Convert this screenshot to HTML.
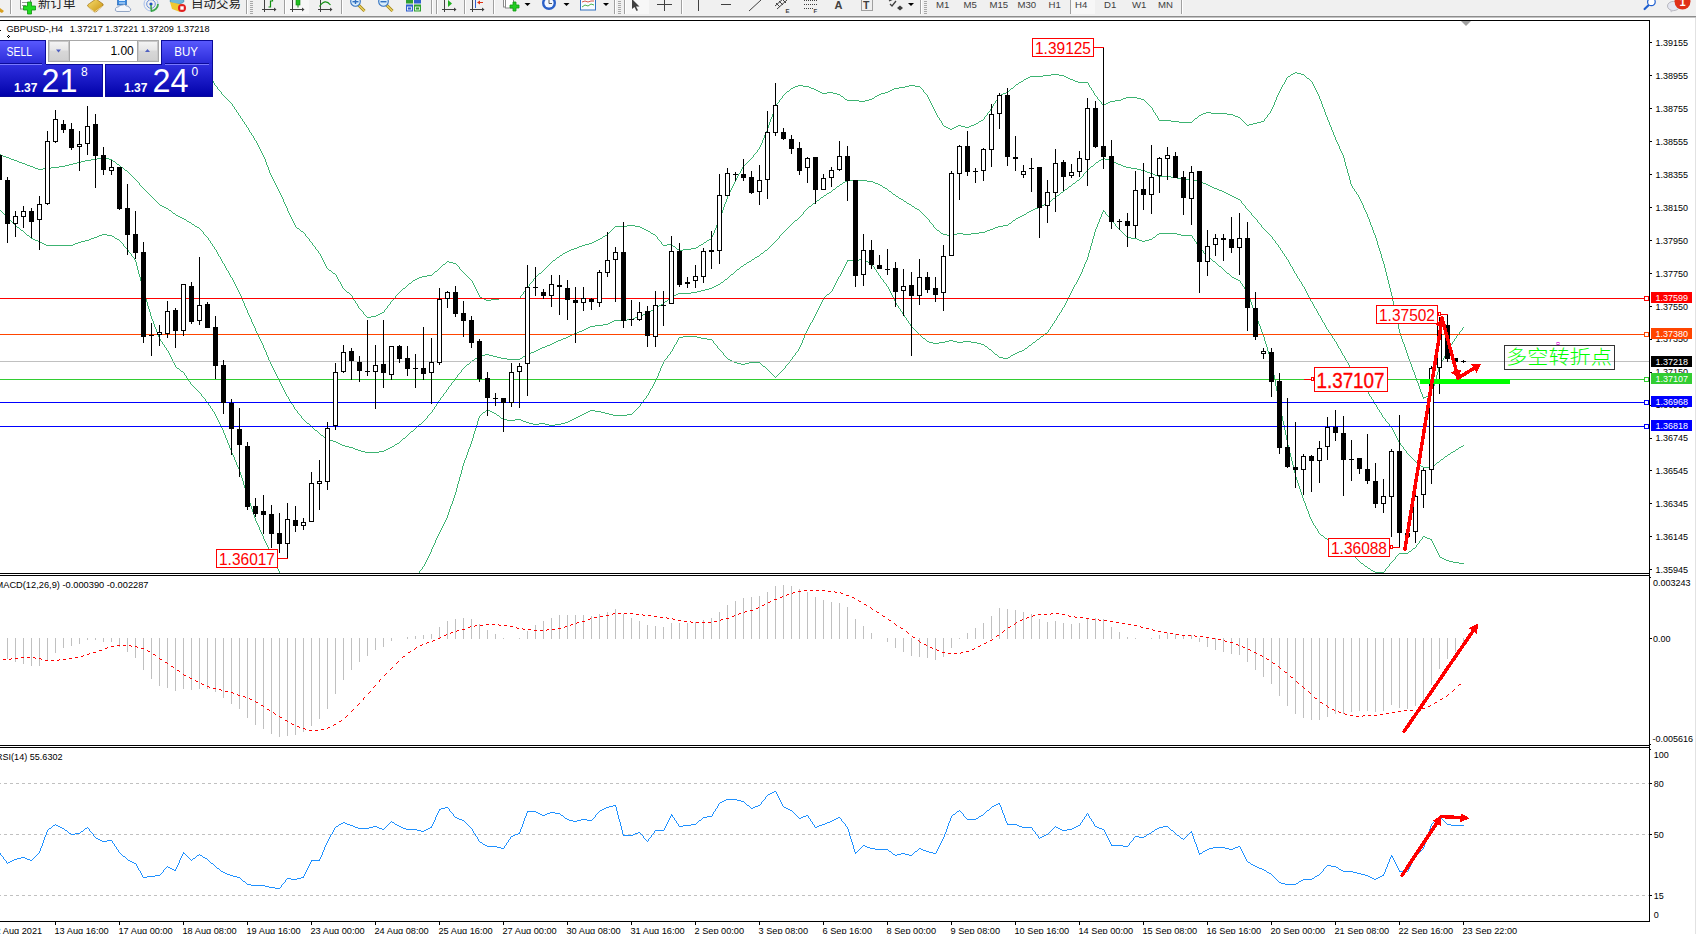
<!DOCTYPE html><html><head><meta charset="utf-8"><title>GBPUSD H4</title>
<style>html,body{margin:0;padding:0;background:#fff;overflow:hidden;width:1696px;height:934px}svg{display:block}text{font-family:'Liberation Sans', Arial, sans-serif}</style></head><body>
<svg width="1696" height="934" viewBox="0 0 1696 934">
<defs><linearGradient id="gBtn" x1="0" y1="0" x2="0" y2="1"><stop offset="0" stop-color="#5a5aff"/><stop offset="1" stop-color="#2a2ad8"/></linearGradient><linearGradient id="gPrice" x1="0" y1="0" x2="0" y2="1"><stop offset="0" stop-color="#3030e0"/><stop offset="1" stop-color="#0000a8"/></linearGradient><linearGradient id="gSpin" x1="0" y1="0" x2="0" y2="1"><stop offset="0" stop-color="#f4f4f4"/><stop offset="0.45" stop-color="#e6e6e6"/><stop offset="0.5" stop-color="#d8d8d8"/><stop offset="1" stop-color="#d0d0d0"/></linearGradient><clipPath id="cMain"><rect x="0" y="21" width="1649" height="552"/></clipPath><clipPath id="cMacd"><rect x="0" y="576" width="1649" height="169"/></clipPath><clipPath id="cRsi"><rect x="0" y="748" width="1649" height="173"/></clipPath></defs>
<rect width="1696" height="934" fill="#fff"/>
<g clip-path="url(#cMain)">
<path d="M203 67h1v2h-1zM208 73h1v2h-1zM209 75h1v2h-1zM211 78h1v2h-1zM213 81h1v2h-1zM214 83h1v2h-1zM217 87h1v2h-1zM221 92h1v2h-1zM232 104h1v2h-1zM234 107h1v2h-1zM236 110h1v2h-1zM238 113h1v2h-1zM240 116h1v2h-1zM242 119h1v2h-1zM244 122h1v2h-1zM246 125h1v2h-1zM248 128h1v2h-1zM249 130h1v2h-1zM251 133h1v2h-1zM253 136h1v2h-1zM254 138h1v2h-1zM256 141h1v2h-1zM257 143h1v2h-1zM258 145h1v2h-1zM259 147h1v2h-1zM260 149h1v2h-1zM261 151h1v2h-1zM262 153h1v2h-1zM263 155h1v2h-1zM264 157h1v2h-1zM265 159h1v3h-1zM266 162h1v3h-1zM267 165h1v2h-1zM268 167h1v3h-1zM269 170h1v3h-1zM270 173h1v2h-1zM271 175h1v2h-1zM272 177h1v2h-1zM273 179h1v2h-1zM274 181h1v2h-1zM275 183h1v2h-1zM276 185h1v2h-1zM277 187h1v2h-1zM278 189h1v2h-1zM279 191h1v2h-1zM280 193h1v2h-1zM281 195h1v2h-1zM282 197h1v2h-1zM283 199h1v3h-1zM284 202h1v2h-1zM285 204h1v2h-1zM286 206h1v2h-1zM287 208h1v3h-1zM288 211h1v2h-1zM289 213h1v2h-1zM290 215h1v2h-1zM291 217h1v2h-1zM292 219h1v2h-1zM293 221h1v2h-1zM294 223h1v2h-1zM295 225h1v2h-1zM305 234h1v2h-1zM309 239h1v2h-1zM312 243h1v2h-1zM315 247h1v2h-1zM318 251h1v2h-1zM320 254h1v2h-1zM321 256h1v2h-1zM322 258h1v2h-1zM323 260h1v2h-1zM324 262h1v2h-1zM325 264h1v2h-1zM326 266h1v2h-1zM336 275h1v2h-1zM337 277h1v2h-1zM338 279h1v2h-1zM340 282h1v2h-1zM341 284h1v2h-1zM342 286h1v2h-1zM352 296h1v2h-1zM353 298h1v2h-1zM355 301h1v2h-1zM357 304h1v2h-1zM358 306h1v2h-1zM363 312h1v2h-1zM384 310h1v2h-1zM387 306h1v2h-1zM390 302h1v2h-1zM395 296h1v2h-1zM459 267h1v2h-1zM472 281h1v2h-1zM473 283h1v2h-1zM474 285h1v2h-1zM475 287h1v2h-1zM476 289h1v2h-1zM477 291h1v2h-1zM478 293h1v2h-1zM479 295h1v2h-1zM520 296h1v2h-1zM523 292h1v2h-1zM526 288h1v2h-1zM529 284h1v2h-1zM533 279h1v2h-1zM657 237h1v2h-1zM661 242h1v2h-1zM711 237h1v2h-1zM712 235h1v2h-1zM713 233h1v2h-1zM714 230h1v3h-1zM715 228h1v2h-1zM716 225h1v3h-1zM717 223h1v2h-1zM718 221h1v2h-1zM719 218h1v3h-1zM720 215h1v3h-1zM721 213h1v2h-1zM722 210h1v3h-1zM723 207h1v3h-1zM724 204h1v3h-1zM725 202h1v2h-1zM726 199h1v3h-1zM727 196h1v3h-1zM728 194h1v2h-1zM729 192h1v2h-1zM730 190h1v2h-1zM731 188h1v2h-1zM732 186h1v2h-1zM733 184h1v2h-1zM734 182h1v2h-1zM735 180h1v2h-1zM736 178h1v2h-1zM737 176h1v2h-1zM738 174h1v2h-1zM740 171h1v2h-1zM741 169h1v2h-1zM742 167h1v2h-1zM753 155h1v2h-1zM757 150h1v2h-1zM759 147h1v2h-1zM760 145h1v2h-1zM761 143h1v2h-1zM762 140h1v3h-1zM763 138h1v2h-1zM764 135h1v3h-1zM765 133h1v2h-1zM766 131h1v2h-1zM767 128h1v3h-1zM768 125h1v3h-1zM769 122h1v3h-1zM770 119h1v3h-1zM771 117h1v2h-1zM772 114h1v3h-1zM773 111h1v3h-1zM774 108h1v3h-1zM775 106h1v2h-1zM776 104h1v2h-1zM779 100h1v2h-1zM782 96h1v2h-1zM923 90h1v2h-1zM927 95h1v2h-1zM928 97h1v2h-1zM929 99h1v2h-1zM930 101h1v2h-1zM931 103h1v2h-1zM932 105h1v2h-1zM933 107h1v2h-1zM934 109h1v2h-1zM935 111h1v2h-1zM936 113h1v2h-1zM937 115h1v2h-1zM939 118h1v2h-1zM941 121h1v2h-1zM942 123h1v2h-1zM984 117h1v2h-1zM987 113h1v2h-1zM990 109h1v2h-1zM992 106h1v2h-1zM993 104h1v2h-1zM995 101h1v2h-1zM997 98h1v2h-1zM998 96h1v2h-1zM1088 83h1v2h-1zM1089 85h1v2h-1zM1091 88h1v2h-1zM1093 91h1v2h-1zM1094 93h1v2h-1zM1097 97h1v2h-1zM1101 102h1v2h-1zM1152 108h1v2h-1zM1153 110h1v2h-1zM1155 113h1v2h-1zM1157 116h1v2h-1zM1158 118h1v2h-1zM1264 119h1v2h-1zM1267 115h1v2h-1zM1270 111h1v2h-1zM1271 109h1v2h-1zM1272 107h1v2h-1zM1273 105h1v2h-1zM1274 102h1v3h-1zM1275 100h1v2h-1zM1276 97h1v3h-1zM1277 95h1v2h-1zM1278 93h1v2h-1zM1279 91h1v2h-1zM1280 89h1v2h-1zM1281 87h1v2h-1zM1282 85h1v2h-1zM1284 82h1v2h-1zM1285 80h1v2h-1zM1286 78h1v2h-1zM1312 82h1v2h-1zM1313 84h1v2h-1zM1314 86h1v2h-1zM1315 88h1v2h-1zM1316 90h1v2h-1zM1317 92h1v2h-1zM1318 94h1v2h-1zM1319 96h1v3h-1zM1320 99h1v2h-1zM1321 101h1v3h-1zM1322 104h1v3h-1zM1323 107h1v2h-1zM1324 109h1v3h-1zM1325 112h1v3h-1zM1326 115h1v2h-1zM1327 117h1v3h-1zM1328 120h1v2h-1zM1329 122h1v3h-1zM1330 125h1v2h-1zM1331 127h1v3h-1zM1332 130h1v2h-1zM1333 132h1v3h-1zM1334 135h1v2h-1zM1335 137h1v3h-1zM1336 140h1v2h-1zM1337 142h1v2h-1zM1338 144h1v2h-1zM1339 146h1v3h-1zM1340 149h1v2h-1zM1341 151h1v2h-1zM1342 153h1v2h-1zM1343 155h1v3h-1zM1344 158h1v4h-1zM1345 162h1v4h-1zM1346 166h1v3h-1zM1347 169h1v4h-1zM1348 173h1v3h-1zM1349 176h1v4h-1zM1350 180h1v4h-1zM1351 184h1v2h-1zM1352 186h1v2h-1zM1354 189h1v2h-1zM1356 192h1v2h-1zM1358 195h1v2h-1zM1359 197h1v2h-1zM1360 199h1v2h-1zM1361 201h1v2h-1zM1362 203h1v2h-1zM1363 205h1v3h-1zM1364 208h1v2h-1zM1365 210h1v2h-1zM1366 212h1v2h-1zM1367 214h1v3h-1zM1368 217h1v2h-1zM1369 219h1v3h-1zM1370 222h1v3h-1zM1371 225h1v2h-1zM1372 227h1v3h-1zM1373 230h1v3h-1zM1374 233h1v2h-1zM1375 235h1v3h-1zM1376 238h1v3h-1zM1377 241h1v4h-1zM1378 245h1v3h-1zM1379 248h1v3h-1zM1380 251h1v3h-1zM1381 254h1v4h-1zM1382 258h1v3h-1zM1383 261h1v3h-1zM1384 264h1v4h-1zM1385 268h1v4h-1zM1386 272h1v4h-1zM1387 276h1v4h-1zM1388 280h1v4h-1zM1389 284h1v4h-1zM1390 288h1v4h-1zM1391 292h1v4h-1zM1392 296h1v5h-1zM1393 301h1v4h-1zM1394 305h1v5h-1zM1395 310h1v5h-1zM1396 315h1v5h-1zM1397 320h1v4h-1zM1398 324h1v5h-1zM1399 329h1v4h-1zM1400 333h1v3h-1zM1401 336h1v3h-1zM1402 339h1v3h-1zM1403 342h1v2h-1zM1404 344h1v3h-1zM1405 347h1v3h-1zM1406 350h1v3h-1zM1407 353h1v3h-1zM1408 356h1v3h-1zM1409 359h1v2h-1zM1410 361h1v3h-1zM1411 364h1v3h-1zM1412 367h1v3h-1zM1413 370h1v2h-1zM1414 372h1v3h-1zM1415 375h1v3h-1zM1416 378h1v3h-1zM1417 381h1v2h-1zM1418 383h1v3h-1zM1419 386h1v3h-1zM1420 389h1v3h-1zM1421 392h1v2h-1zM1422 394h1v3h-1zM1423 397h1v2h-1zM1431 393h1v2h-1zM1432 389h1v4h-1zM1433 386h1v3h-1zM1434 382h1v4h-1zM1435 379h1v3h-1zM1436 375h1v4h-1zM1437 372h1v3h-1zM1438 368h1v4h-1zM1439 366h1v2h-1zM1440 364h1v2h-1zM1441 362h1v2h-1zM1442 360h1v2h-1zM1443 358h1v2h-1zM1444 356h1v2h-1zM1445 354h1v2h-1zM1446 352h1v2h-1zM1447 350h1v2h-1zM1448 348h1v2h-1zM1450 345h1v2h-1zM1452 342h1v2h-1zM1454 339h1v2h-1zM1456 336h1v2h-1zM1459 332h1v2h-1zM1462 328h1v2h-1zM187 62h8v1h-8zM174 63h13v1h-13zM195 63h5v1h-5zM172 64h2v1h-2zM200 64h1v1h-1zM170 65h2v1h-2zM201 65h1v1h-1zM168 66h2v1h-2zM202 66h1v1h-1zM166 67h2v1h-2zM163 68h3v1h-3zM161 69h2v1h-2zM204 69h1v1h-1zM159 70h2v1h-2zM205 70h1v1h-1zM157 71h2v1h-2zM206 71h1v1h-1zM156 72h1v1h-1zM207 72h1v1h-1zM1295 72h2v1h-2zM155 73h1v1h-1zM1293 73h2v1h-2zM1297 73h4v1h-4zM153 74h2v1h-2zM1051 74h8v1h-8zM1291 74h2v1h-2zM1301 74h3v1h-3zM152 75h1v1h-1zM1043 75h8v1h-8zM1059 75h5v1h-5zM1290 75h1v1h-1zM1304 75h1v1h-1zM151 76h1v1h-1zM1030 76h13v1h-13zM1064 76h2v1h-2zM1288 76h2v1h-2zM1305 76h1v1h-1zM210 77h1v1h-1zM1028 77h2v1h-2zM1066 77h2v1h-2zM1287 77h1v1h-1zM1306 77h1v1h-1zM1026 78h2v1h-2zM1068 78h2v1h-2zM1307 78h2v1h-2zM1024 79h2v1h-2zM1070 79h3v1h-3zM1309 79h1v1h-1zM212 80h1v1h-1zM1023 80h1v1h-1zM1073 80h2v1h-2zM1310 80h1v1h-1zM1021 81h2v1h-2zM1075 81h3v1h-3zM1311 81h1v1h-1zM1019 82h2v1h-2zM1078 82h10v1h-10zM1018 83h1v1h-1zM1016 84h2v1h-2zM1283 84h1v1h-1zM215 85h1v1h-1zM798 85h5v1h-5zM909 85h6v1h-6zM1015 85h1v1h-1zM216 86h1v1h-1zM795 86h3v1h-3zM803 86h6v1h-6zM905 86h4v1h-4zM915 86h5v1h-5zM1014 86h1v1h-1zM793 87h2v1h-2zM809 87h2v1h-2zM899 87h6v1h-6zM920 87h1v1h-1zM1013 87h1v1h-1zM1090 87h1v1h-1zM791 88h2v1h-2zM811 88h3v1h-3zM894 88h5v1h-5zM921 88h1v1h-1zM1011 88h2v1h-2zM218 89h1v1h-1zM790 89h1v1h-1zM814 89h2v1h-2zM892 89h2v1h-2zM922 89h1v1h-1zM1010 89h1v1h-1zM219 90h1v1h-1zM789 90h1v1h-1zM816 90h2v1h-2zM890 90h2v1h-2zM1009 90h1v1h-1zM1092 90h1v1h-1zM220 91h1v1h-1zM787 91h2v1h-2zM818 91h2v1h-2zM888 91h2v1h-2zM1008 91h1v1h-1zM786 92h1v1h-1zM820 92h2v1h-2zM827 92h6v1h-6zM885 92h3v1h-3zM924 92h1v1h-1zM1006 92h2v1h-2zM785 93h1v1h-1zM822 93h5v1h-5zM833 93h4v1h-4zM881 93h4v1h-4zM925 93h1v1h-1zM1003 93h3v1h-3zM222 94h1v1h-1zM784 94h1v1h-1zM837 94h3v1h-3zM879 94h2v1h-2zM926 94h1v1h-1zM1001 94h2v1h-2zM223 95h1v1h-1zM783 95h1v1h-1zM840 95h1v1h-1zM877 95h2v1h-2zM999 95h2v1h-2zM1095 95h1v1h-1zM224 96h1v1h-1zM841 96h2v1h-2zM875 96h2v1h-2zM1096 96h1v1h-1zM225 97h1v1h-1zM843 97h1v1h-1zM874 97h1v1h-1zM1126 97h11v1h-11zM226 98h1v1h-1zM781 98h1v1h-1zM844 98h1v1h-1zM872 98h2v1h-2zM1123 98h3v1h-3zM1137 98h4v1h-4zM227 99h1v1h-1zM780 99h1v1h-1zM845 99h2v1h-2zM869 99h3v1h-3zM1098 99h1v1h-1zM1121 99h2v1h-2zM1141 99h3v1h-3zM228 100h1v1h-1zM847 100h12v1h-12zM865 100h4v1h-4zM996 100h1v1h-1zM1099 100h1v1h-1zM1115 100h6v1h-6zM1144 100h1v1h-1zM229 101h1v1h-1zM859 101h6v1h-6zM1100 101h1v1h-1zM1110 101h5v1h-5zM1145 101h1v1h-1zM230 102h1v1h-1zM778 102h1v1h-1zM1108 102h2v1h-2zM1146 102h1v1h-1zM231 103h1v1h-1zM777 103h1v1h-1zM994 103h1v1h-1zM1106 103h2v1h-2zM1147 103h1v1h-1zM1102 104h1v1h-1zM1104 104h2v1h-2zM1148 104h1v1h-1zM1103 105h1v1h-1zM1149 105h1v1h-1zM233 106h1v1h-1zM1150 106h1v1h-1zM1151 107h1v1h-1zM991 108h1v1h-1zM235 109h1v1h-1zM989 111h1v1h-1zM237 112h1v1h-1zM988 112h1v1h-1zM1154 112h1v1h-1zM1206 112h5v1h-5zM1203 113h3v1h-3zM1211 113h16v1h-16zM1269 113h1v1h-1zM1201 114h2v1h-2zM1227 114h6v1h-6zM1268 114h1v1h-1zM239 115h1v1h-1zM986 115h1v1h-1zM1156 115h1v1h-1zM1199 115h2v1h-2zM1233 115h2v1h-2zM985 116h1v1h-1zM1198 116h1v1h-1zM1235 116h3v1h-3zM938 117h1v1h-1zM1197 117h1v1h-1zM1238 117h2v1h-2zM1266 117h1v1h-1zM241 118h1v1h-1zM1195 118h2v1h-2zM1240 118h1v1h-1zM1265 118h1v1h-1zM983 119h1v1h-1zM1194 119h1v1h-1zM1241 119h1v1h-1zM940 120h1v1h-1zM981 120h2v1h-2zM1159 120h12v1h-12zM1193 120h1v1h-1zM1242 120h1v1h-1zM243 121h1v1h-1zM979 121h2v1h-2zM1171 121h8v1h-8zM1192 121h1v1h-1zM1243 121h1v1h-1zM1261 121h3v1h-3zM978 122h1v1h-1zM1179 122h13v1h-13zM1244 122h1v1h-1zM1257 122h4v1h-4zM976 123h2v1h-2zM1245 123h1v1h-1zM1253 123h4v1h-4zM245 124h1v1h-1zM974 124h2v1h-2zM1246 124h1v1h-1zM1249 124h4v1h-4zM943 125h1v1h-1zM958 125h3v1h-3zM971 125h3v1h-3zM1247 125h2v1h-2zM944 126h2v1h-2zM956 126h2v1h-2zM961 126h4v1h-4zM969 126h2v1h-2zM247 127h1v1h-1zM946 127h2v1h-2zM954 127h2v1h-2zM965 127h4v1h-4zM948 128h2v1h-2zM952 128h2v1h-2zM950 129h2v1h-2zM250 132h1v1h-1zM252 135h1v1h-1zM255 140h1v1h-1zM758 149h1v1h-1zM756 152h1v1h-1zM755 153h1v1h-1zM754 154h1v1h-1zM752 157h1v1h-1zM751 158h1v1h-1zM750 159h1v1h-1zM749 160h1v1h-1zM748 161h1v1h-1zM747 162h1v1h-1zM746 163h1v1h-1zM745 164h1v1h-1zM744 165h1v1h-1zM743 166h1v1h-1zM739 173h1v1h-1zM1353 188h1v1h-1zM1355 191h1v1h-1zM1357 194h1v1h-1zM627 225h8v1h-8zM615 226h12v1h-12zM635 226h5v1h-5zM296 227h1v1h-1zM614 227h1v1h-1zM640 227h2v1h-2zM297 228h2v1h-2zM613 228h1v1h-1zM642 228h2v1h-2zM299 229h1v1h-1zM612 229h1v1h-1zM644 229h2v1h-2zM300 230h1v1h-1zM611 230h1v1h-1zM646 230h2v1h-2zM301 231h2v1h-2zM610 231h1v1h-1zM648 231h2v1h-2zM303 232h1v1h-1zM609 232h1v1h-1zM650 232h1v1h-1zM304 233h1v1h-1zM608 233h1v1h-1zM651 233h2v1h-2zM607 234h1v1h-1zM653 234h2v1h-2zM605 235h2v1h-2zM655 235h1v1h-1zM306 236h1v1h-1zM603 236h2v1h-2zM656 236h1v1h-1zM307 237h1v1h-1zM602 237h1v1h-1zM308 238h1v1h-1zM600 238h2v1h-2zM598 239h2v1h-2zM658 239h1v1h-1zM709 239h2v1h-2zM596 240h2v1h-2zM659 240h1v1h-1zM707 240h2v1h-2zM310 241h1v1h-1zM594 241h2v1h-2zM660 241h1v1h-1zM706 241h1v1h-1zM311 242h1v1h-1zM592 242h2v1h-2zM704 242h2v1h-2zM589 243h3v1h-3zM703 243h1v1h-1zM585 244h4v1h-4zM662 244h1v1h-1zM667 244h5v1h-5zM701 244h2v1h-2zM313 245h1v1h-1zM582 245h3v1h-3zM663 245h4v1h-4zM672 245h1v1h-1zM699 245h2v1h-2zM314 246h1v1h-1zM579 246h3v1h-3zM673 246h2v1h-2zM698 246h1v1h-1zM577 247h2v1h-2zM675 247h1v1h-1zM696 247h2v1h-2zM574 248h3v1h-3zM676 248h1v1h-1zM691 248h5v1h-5zM316 249h1v1h-1zM571 249h3v1h-3zM677 249h2v1h-2zM683 249h8v1h-8zM317 250h1v1h-1zM569 250h2v1h-2zM679 250h4v1h-4zM567 251h2v1h-2zM565 252h2v1h-2zM319 253h1v1h-1zM563 253h2v1h-2zM562 254h1v1h-1zM560 255h2v1h-2zM559 256h1v1h-1zM557 257h2v1h-2zM556 258h1v1h-1zM555 259h1v1h-1zM553 260h2v1h-2zM447 261h2v1h-2zM552 261h1v1h-1zM446 262h1v1h-1zM449 262h4v1h-4zM551 262h1v1h-1zM445 263h1v1h-1zM453 263h3v1h-3zM550 263h1v1h-1zM443 264h2v1h-2zM456 264h1v1h-1zM549 264h1v1h-1zM442 265h1v1h-1zM457 265h1v1h-1zM548 265h1v1h-1zM441 266h1v1h-1zM458 266h1v1h-1zM547 266h1v1h-1zM440 267h1v1h-1zM546 267h1v1h-1zM327 268h1v1h-1zM439 268h1v1h-1zM545 268h1v1h-1zM328 269h1v1h-1zM438 269h1v1h-1zM460 269h1v1h-1zM544 269h1v1h-1zM329 270h2v1h-2zM437 270h1v1h-1zM461 270h1v1h-1zM543 270h1v1h-1zM331 271h1v1h-1zM435 271h2v1h-2zM462 271h1v1h-1zM542 271h1v1h-1zM332 272h1v1h-1zM434 272h1v1h-1zM463 272h1v1h-1zM541 272h1v1h-1zM333 273h2v1h-2zM433 273h1v1h-1zM464 273h1v1h-1zM539 273h2v1h-2zM335 274h1v1h-1zM432 274h1v1h-1zM465 274h1v1h-1zM538 274h1v1h-1zM427 275h5v1h-5zM466 275h1v1h-1zM537 275h1v1h-1zM422 276h5v1h-5zM467 276h1v1h-1zM536 276h1v1h-1zM419 277h3v1h-3zM468 277h1v1h-1zM535 277h1v1h-1zM417 278h2v1h-2zM469 278h1v1h-1zM534 278h1v1h-1zM415 279h2v1h-2zM470 279h1v1h-1zM413 280h2v1h-2zM471 280h1v1h-1zM339 281h1v1h-1zM412 281h1v1h-1zM532 281h1v1h-1zM411 282h1v1h-1zM531 282h1v1h-1zM409 283h2v1h-2zM530 283h1v1h-1zM408 284h1v1h-1zM407 285h1v1h-1zM406 286h1v1h-1zM528 286h1v1h-1zM405 287h1v1h-1zM527 287h1v1h-1zM343 288h1v1h-1zM403 288h2v1h-2zM344 289h1v1h-1zM402 289h1v1h-1zM345 290h1v1h-1zM401 290h1v1h-1zM525 290h1v1h-1zM346 291h1v1h-1zM400 291h1v1h-1zM524 291h1v1h-1zM347 292h2v1h-2zM399 292h1v1h-1zM349 293h1v1h-1zM398 293h1v1h-1zM350 294h1v1h-1zM397 294h1v1h-1zM522 294h1v1h-1zM351 295h1v1h-1zM396 295h1v1h-1zM521 295h1v1h-1zM480 297h2v1h-2zM394 298h1v1h-1zM482 298h2v1h-2zM499 298h21v1h-21zM393 299h1v1h-1zM484 299h2v1h-2zM491 299h8v1h-8zM354 300h1v1h-1zM392 300h1v1h-1zM486 300h5v1h-5zM391 301h1v1h-1zM356 303h1v1h-1zM389 304h1v1h-1zM388 305h1v1h-1zM359 308h1v1h-1zM386 308h1v1h-1zM360 309h1v1h-1zM385 309h1v1h-1zM361 310h1v1h-1zM362 311h1v1h-1zM382 312h2v1h-2zM380 313h2v1h-2zM364 314h1v1h-1zM378 314h2v1h-2zM365 315h1v1h-1zM376 315h2v1h-2zM366 316h1v1h-1zM371 316h5v1h-5zM367 317h4v1h-4zM1463 327h1v1h-1zM1461 330h1v1h-1zM1460 331h1v1h-1zM1458 334h1v1h-1zM1457 335h1v1h-1zM1455 338h1v1h-1zM1453 341h1v1h-1zM1451 344h1v1h-1zM1449 347h1v1h-1zM1430 394h1v1h-1zM1428 395h2v1h-2zM1426 396h2v1h-2zM1424 397h2v1h-2z" fill="#3cb371" shape-rendering="crispEdges"/>
<path d="M139 183h1v2h-1zM203 232h1v2h-1zM208 238h1v2h-1zM210 241h1v2h-1zM212 244h1v2h-1zM214 247h1v2h-1zM216 250h1v2h-1zM217 252h1v2h-1zM218 254h1v2h-1zM220 257h1v2h-1zM221 259h1v2h-1zM222 261h1v2h-1zM224 264h1v2h-1zM225 266h1v2h-1zM226 268h1v2h-1zM228 271h1v2h-1zM229 273h1v2h-1zM230 275h1v2h-1zM232 278h1v2h-1zM233 280h1v2h-1zM234 282h1v2h-1zM235 284h1v2h-1zM236 286h1v2h-1zM237 288h1v2h-1zM238 290h1v2h-1zM239 292h1v2h-1zM240 294h1v2h-1zM241 296h1v2h-1zM242 298h1v3h-1zM243 301h1v2h-1zM244 303h1v3h-1zM245 306h1v2h-1zM246 308h1v2h-1zM247 310h1v3h-1zM248 313h1v2h-1zM249 315h1v2h-1zM250 317h1v2h-1zM251 319h1v3h-1zM252 322h1v2h-1zM253 324h1v2h-1zM254 326h1v2h-1zM255 328h1v3h-1zM256 331h1v2h-1zM257 333h1v2h-1zM258 335h1v2h-1zM259 337h1v2h-1zM260 339h1v2h-1zM261 341h1v2h-1zM262 343h1v2h-1zM263 345h1v3h-1zM264 348h1v2h-1zM265 350h1v2h-1zM266 352h1v3h-1zM267 355h1v2h-1zM268 357h1v3h-1zM269 360h1v2h-1zM270 362h1v2h-1zM271 364h1v2h-1zM272 366h1v2h-1zM273 368h1v2h-1zM274 370h1v2h-1zM275 372h1v2h-1zM276 374h1v2h-1zM277 376h1v2h-1zM278 378h1v2h-1zM279 380h1v2h-1zM280 382h1v2h-1zM281 384h1v2h-1zM282 386h1v2h-1zM283 388h1v2h-1zM284 390h1v2h-1zM285 392h1v2h-1zM286 394h1v2h-1zM288 397h1v2h-1zM289 399h1v2h-1zM291 402h1v2h-1zM293 405h1v2h-1zM294 407h1v2h-1zM297 411h1v2h-1zM301 416h1v2h-1zM427 416h1v2h-1zM432 410h1v2h-1zM434 407h1v2h-1zM436 404h1v2h-1zM438 401h1v2h-1zM440 398h1v2h-1zM443 394h1v2h-1zM446 390h1v2h-1zM448 387h1v2h-1zM451 383h1v2h-1zM454 379h1v2h-1zM457 375h1v2h-1zM461 370h1v2h-1zM779 236h1v2h-1zM803 212h1v2h-1zM929 220h1v2h-1zM933 225h1v2h-1zM1083 174h1v2h-1zM1241 201h1v2h-1zM1245 206h1v2h-1zM1251 213h1v2h-1zM1257 220h1v2h-1zM1261 225h1v2h-1zM1272 237h1v2h-1zM1275 241h1v2h-1zM1278 245h1v2h-1zM1280 248h1v2h-1zM1282 251h1v2h-1zM1284 254h1v2h-1zM1286 257h1v2h-1zM1288 260h1v2h-1zM1289 262h1v2h-1zM1290 264h1v2h-1zM1292 267h1v2h-1zM1293 269h1v2h-1zM1294 271h1v2h-1zM1296 274h1v2h-1zM1297 276h1v2h-1zM1299 279h1v2h-1zM1301 282h1v2h-1zM1302 284h1v2h-1zM1304 287h1v2h-1zM1305 289h1v2h-1zM1306 291h1v2h-1zM1307 293h1v2h-1zM1308 295h1v2h-1zM1309 297h1v2h-1zM1310 299h1v2h-1zM1312 302h1v2h-1zM1313 304h1v2h-1zM1314 306h1v2h-1zM1316 309h1v2h-1zM1317 311h1v2h-1zM1318 313h1v2h-1zM1320 316h1v2h-1zM1321 318h1v2h-1zM1322 320h1v2h-1zM1324 323h1v2h-1zM1325 325h1v2h-1zM1326 327h1v2h-1zM1328 330h1v2h-1zM1330 333h1v2h-1zM1332 336h1v2h-1zM1334 339h1v2h-1zM1336 342h1v2h-1zM1337 344h1v2h-1zM1338 346h1v2h-1zM1340 349h1v2h-1zM1341 351h1v2h-1zM1342 353h1v2h-1zM1344 356h1v2h-1zM1345 358h1v2h-1zM1346 360h1v2h-1zM1348 363h1v2h-1zM1349 365h1v2h-1zM1350 367h1v2h-1zM1353 371h1v2h-1zM1357 376h1v2h-1zM1360 380h1v2h-1zM1362 383h1v2h-1zM1364 386h1v2h-1zM1366 389h1v2h-1zM1368 392h1v2h-1zM1369 394h1v2h-1zM1371 397h1v2h-1zM1373 400h1v2h-1zM1374 402h1v2h-1zM1376 405h1v2h-1zM1377 407h1v2h-1zM1379 410h1v2h-1zM1381 413h1v2h-1zM1382 415h1v2h-1zM1385 419h1v2h-1zM1389 424h1v2h-1zM1392 428h1v2h-1zM1393 430h1v2h-1zM1394 432h1v2h-1zM1395 434h1v2h-1zM1396 436h1v2h-1zM1397 438h1v2h-1zM1398 440h1v2h-1zM1400 443h1v2h-1zM1403 447h1v2h-1zM1406 451h1v2h-1zM-1 154h2v1h-2zM1 155h2v1h-2zM3 156h3v1h-3zM6 157h3v1h-3zM101 157h4v1h-4zM9 158h2v1h-2zM97 158h4v1h-4zM105 158h4v1h-4zM1103 158h2v1h-2zM11 159h3v1h-3zM91 159h6v1h-6zM109 159h3v1h-3zM1101 159h2v1h-2zM1105 159h4v1h-4zM14 160h3v1h-3zM85 160h6v1h-6zM112 160h1v1h-1zM1099 160h2v1h-2zM1109 160h3v1h-3zM17 161h2v1h-2zM81 161h4v1h-4zM113 161h2v1h-2zM1098 161h1v1h-1zM1112 161h2v1h-2zM19 162h3v1h-3zM77 162h4v1h-4zM115 162h1v1h-1zM1096 162h2v1h-2zM1114 162h2v1h-2zM22 163h3v1h-3zM73 163h4v1h-4zM116 163h1v1h-1zM1095 163h1v1h-1zM1116 163h2v1h-2zM25 164h2v1h-2zM69 164h4v1h-4zM117 164h2v1h-2zM1094 164h1v1h-1zM1118 164h3v1h-3zM27 165h3v1h-3zM65 165h4v1h-4zM119 165h1v1h-1zM1093 165h1v1h-1zM1121 165h2v1h-2zM30 166h3v1h-3zM59 166h6v1h-6zM120 166h1v1h-1zM1091 166h2v1h-2zM1123 166h3v1h-3zM33 167h2v1h-2zM51 167h8v1h-8zM121 167h2v1h-2zM1090 167h1v1h-1zM1126 167h5v1h-5zM35 168h3v1h-3zM43 168h8v1h-8zM123 168h1v1h-1zM1089 168h1v1h-1zM1131 168h6v1h-6zM38 169h5v1h-5zM124 169h1v1h-1zM1088 169h1v1h-1zM1137 169h4v1h-4zM125 170h2v1h-2zM1087 170h1v1h-1zM1141 170h4v1h-4zM127 171h1v1h-1zM1086 171h1v1h-1zM1145 171h2v1h-2zM128 172h1v1h-1zM1085 172h1v1h-1zM1147 172h3v1h-3zM129 173h1v1h-1zM1084 173h1v1h-1zM1150 173h3v1h-3zM130 174h1v1h-1zM1153 174h2v1h-2zM131 175h1v1h-1zM1155 175h3v1h-3zM132 176h1v1h-1zM1082 176h1v1h-1zM1158 176h13v1h-13zM133 177h1v1h-1zM1081 177h1v1h-1zM1171 177h6v1h-6zM134 178h1v1h-1zM1080 178h1v1h-1zM1177 178h4v1h-4zM135 179h1v1h-1zM1079 179h1v1h-1zM1181 179h12v1h-12zM136 180h1v1h-1zM847 180h20v1h-20zM1077 180h2v1h-2zM1193 180h4v1h-4zM137 181h1v1h-1zM845 181h2v1h-2zM867 181h6v1h-6zM1076 181h1v1h-1zM1197 181h4v1h-4zM138 182h1v1h-1zM843 182h2v1h-2zM873 182h2v1h-2zM1075 182h1v1h-1zM1201 182h2v1h-2zM842 183h1v1h-1zM875 183h3v1h-3zM1073 183h2v1h-2zM1203 183h3v1h-3zM840 184h2v1h-2zM878 184h2v1h-2zM1072 184h1v1h-1zM1206 184h2v1h-2zM140 185h1v1h-1zM839 185h1v1h-1zM880 185h2v1h-2zM1071 185h1v1h-1zM1208 185h2v1h-2zM141 186h1v1h-1zM837 186h2v1h-2zM882 186h1v1h-1zM1069 186h2v1h-2zM1210 186h2v1h-2zM142 187h1v1h-1zM836 187h1v1h-1zM883 187h2v1h-2zM1068 187h1v1h-1zM1212 187h2v1h-2zM143 188h1v1h-1zM835 188h1v1h-1zM885 188h2v1h-2zM1067 188h1v1h-1zM1214 188h3v1h-3zM144 189h1v1h-1zM833 189h2v1h-2zM887 189h1v1h-1zM1065 189h2v1h-2zM1217 189h2v1h-2zM145 190h1v1h-1zM832 190h1v1h-1zM888 190h1v1h-1zM1064 190h1v1h-1zM1219 190h3v1h-3zM146 191h1v1h-1zM831 191h1v1h-1zM889 191h2v1h-2zM1063 191h1v1h-1zM1222 191h2v1h-2zM147 192h1v1h-1zM829 192h2v1h-2zM891 192h1v1h-1zM1061 192h2v1h-2zM1224 192h2v1h-2zM148 193h1v1h-1zM827 193h2v1h-2zM892 193h1v1h-1zM1060 193h1v1h-1zM1226 193h2v1h-2zM149 194h1v1h-1zM826 194h1v1h-1zM893 194h2v1h-2zM1059 194h1v1h-1zM1228 194h2v1h-2zM150 195h1v1h-1zM824 195h2v1h-2zM895 195h1v1h-1zM1057 195h2v1h-2zM1230 195h2v1h-2zM151 196h1v1h-1zM823 196h1v1h-1zM896 196h2v1h-2zM1056 196h1v1h-1zM1232 196h2v1h-2zM152 197h1v1h-1zM821 197h2v1h-2zM898 197h1v1h-1zM1055 197h1v1h-1zM1234 197h2v1h-2zM153 198h1v1h-1zM820 198h1v1h-1zM899 198h2v1h-2zM1053 198h2v1h-2zM1236 198h2v1h-2zM154 199h1v1h-1zM819 199h1v1h-1zM901 199h2v1h-2zM1052 199h1v1h-1zM1238 199h2v1h-2zM155 200h1v1h-1zM817 200h2v1h-2zM903 200h1v1h-1zM1051 200h1v1h-1zM1240 200h1v1h-1zM156 201h1v1h-1zM816 201h1v1h-1zM904 201h2v1h-2zM1049 201h2v1h-2zM157 202h1v1h-1zM815 202h1v1h-1zM906 202h1v1h-1zM1048 202h1v1h-1zM158 203h1v1h-1zM813 203h2v1h-2zM907 203h2v1h-2zM1046 203h2v1h-2zM1242 203h1v1h-1zM159 204h1v1h-1zM812 204h1v1h-1zM909 204h2v1h-2zM1044 204h2v1h-2zM1243 204h1v1h-1zM160 205h2v1h-2zM811 205h1v1h-1zM911 205h1v1h-1zM1042 205h2v1h-2zM1244 205h1v1h-1zM162 206h2v1h-2zM809 206h2v1h-2zM912 206h2v1h-2zM1040 206h2v1h-2zM164 207h2v1h-2zM808 207h1v1h-1zM914 207h1v1h-1zM1038 207h2v1h-2zM166 208h2v1h-2zM807 208h1v1h-1zM915 208h2v1h-2zM1035 208h3v1h-3zM1246 208h1v1h-1zM168 209h1v1h-1zM806 209h1v1h-1zM917 209h2v1h-2zM1033 209h2v1h-2zM1247 209h1v1h-1zM169 210h2v1h-2zM805 210h1v1h-1zM919 210h1v1h-1zM1031 210h2v1h-2zM1248 210h1v1h-1zM171 211h1v1h-1zM804 211h1v1h-1zM920 211h1v1h-1zM1029 211h2v1h-2zM1249 211h1v1h-1zM172 212h1v1h-1zM921 212h1v1h-1zM1027 212h2v1h-2zM1250 212h1v1h-1zM173 213h2v1h-2zM922 213h1v1h-1zM1026 213h1v1h-1zM175 214h1v1h-1zM802 214h1v1h-1zM923 214h1v1h-1zM1024 214h2v1h-2zM176 215h2v1h-2zM801 215h1v1h-1zM924 215h1v1h-1zM1022 215h2v1h-2zM1252 215h1v1h-1zM178 216h2v1h-2zM800 216h1v1h-1zM925 216h1v1h-1zM1020 216h2v1h-2zM1253 216h1v1h-1zM180 217h2v1h-2zM799 217h1v1h-1zM926 217h1v1h-1zM1018 217h2v1h-2zM1254 217h1v1h-1zM182 218h2v1h-2zM798 218h1v1h-1zM927 218h1v1h-1zM1016 218h2v1h-2zM1255 218h1v1h-1zM184 219h2v1h-2zM797 219h1v1h-1zM928 219h1v1h-1zM1015 219h1v1h-1zM1256 219h1v1h-1zM186 220h1v1h-1zM795 220h2v1h-2zM1013 220h2v1h-2zM187 221h2v1h-2zM794 221h1v1h-1zM1012 221h1v1h-1zM189 222h2v1h-2zM793 222h1v1h-1zM930 222h1v1h-1zM1011 222h1v1h-1zM1258 222h1v1h-1zM191 223h1v1h-1zM792 223h1v1h-1zM931 223h1v1h-1zM1009 223h2v1h-2zM1259 223h1v1h-1zM192 224h2v1h-2zM791 224h1v1h-1zM932 224h1v1h-1zM1008 224h1v1h-1zM1260 224h1v1h-1zM194 225h1v1h-1zM790 225h1v1h-1zM1003 225h5v1h-5zM195 226h2v1h-2zM789 226h1v1h-1zM998 226h5v1h-5zM197 227h2v1h-2zM788 227h1v1h-1zM934 227h1v1h-1zM995 227h3v1h-3zM1262 227h1v1h-1zM199 228h1v1h-1zM787 228h1v1h-1zM935 228h1v1h-1zM993 228h2v1h-2zM1263 228h1v1h-1zM200 229h1v1h-1zM786 229h1v1h-1zM936 229h1v1h-1zM990 229h3v1h-3zM1264 229h1v1h-1zM201 230h1v1h-1zM785 230h1v1h-1zM937 230h2v1h-2zM987 230h3v1h-3zM1265 230h1v1h-1zM202 231h1v1h-1zM784 231h1v1h-1zM939 231h1v1h-1zM985 231h2v1h-2zM1266 231h1v1h-1zM783 232h1v1h-1zM940 232h1v1h-1zM979 232h6v1h-6zM1267 232h1v1h-1zM782 233h1v1h-1zM941 233h2v1h-2zM957 233h6v1h-6zM971 233h8v1h-8zM1268 233h1v1h-1zM204 234h1v1h-1zM781 234h1v1h-1zM943 234h4v1h-4zM953 234h4v1h-4zM963 234h8v1h-8zM1269 234h1v1h-1zM205 235h1v1h-1zM780 235h1v1h-1zM947 235h6v1h-6zM1270 235h1v1h-1zM206 236h1v1h-1zM1271 236h1v1h-1zM207 237h1v1h-1zM778 238h1v1h-1zM777 239h1v1h-1zM1273 239h1v1h-1zM209 240h1v1h-1zM776 240h1v1h-1zM1274 240h1v1h-1zM775 241h1v1h-1zM774 242h1v1h-1zM211 243h1v1h-1zM773 243h1v1h-1zM1276 243h1v1h-1zM772 244h1v1h-1zM1277 244h1v1h-1zM771 245h1v1h-1zM213 246h1v1h-1zM770 246h1v1h-1zM769 247h1v1h-1zM1279 247h1v1h-1zM768 248h1v1h-1zM215 249h1v1h-1zM767 249h1v1h-1zM765 250h2v1h-2zM1281 250h1v1h-1zM764 251h1v1h-1zM763 252h1v1h-1zM761 253h2v1h-2zM1283 253h1v1h-1zM760 254h1v1h-1zM759 255h1v1h-1zM219 256h1v1h-1zM757 256h2v1h-2zM1285 256h1v1h-1zM755 257h2v1h-2zM754 258h1v1h-1zM752 259h2v1h-2zM1287 259h1v1h-1zM751 260h1v1h-1zM749 261h2v1h-2zM747 262h2v1h-2zM223 263h1v1h-1zM746 263h1v1h-1zM744 264h2v1h-2zM743 265h1v1h-1zM741 266h2v1h-2zM1291 266h1v1h-1zM740 267h1v1h-1zM739 268h1v1h-1zM737 269h2v1h-2zM227 270h1v1h-1zM736 270h1v1h-1zM735 271h1v1h-1zM734 272h1v1h-1zM733 273h1v1h-1zM1295 273h1v1h-1zM731 274h2v1h-2zM730 275h1v1h-1zM729 276h1v1h-1zM231 277h1v1h-1zM728 277h1v1h-1zM727 278h1v1h-1zM1298 278h1v1h-1zM725 279h2v1h-2zM724 280h1v1h-1zM723 281h1v1h-1zM1300 281h1v1h-1zM721 282h2v1h-2zM720 283h1v1h-1zM718 284h2v1h-2zM716 285h2v1h-2zM714 286h2v1h-2zM1303 286h1v1h-1zM712 287h2v1h-2zM709 288h3v1h-3zM705 289h4v1h-4zM701 290h4v1h-4zM697 291h4v1h-4zM691 292h6v1h-6zM678 293h13v1h-13zM676 294h2v1h-2zM674 295h2v1h-2zM672 296h2v1h-2zM671 297h1v1h-1zM669 298h2v1h-2zM668 299h1v1h-1zM667 300h1v1h-1zM665 301h2v1h-2zM1311 301h1v1h-1zM664 302h1v1h-1zM663 303h1v1h-1zM661 304h2v1h-2zM659 305h2v1h-2zM658 306h1v1h-1zM656 307h2v1h-2zM655 308h1v1h-1zM1315 308h1v1h-1zM653 309h2v1h-2zM651 310h2v1h-2zM650 311h1v1h-1zM648 312h2v1h-2zM646 313h2v1h-2zM643 314h3v1h-3zM641 315h2v1h-2zM1319 315h1v1h-1zM638 316h3v1h-3zM635 317h3v1h-3zM633 318h2v1h-2zM627 319h6v1h-6zM614 320h13v1h-13zM612 321h2v1h-2zM610 322h2v1h-2zM1323 322h1v1h-1zM608 323h2v1h-2zM603 324h5v1h-5zM595 325h8v1h-8zM590 326h5v1h-5zM588 327h2v1h-2zM586 328h2v1h-2zM584 329h2v1h-2zM1327 329h1v1h-1zM582 330h2v1h-2zM579 331h3v1h-3zM577 332h2v1h-2zM1329 332h1v1h-1zM574 333h3v1h-3zM572 334h2v1h-2zM570 335h2v1h-2zM1331 335h1v1h-1zM568 336h2v1h-2zM566 337h2v1h-2zM563 338h3v1h-3zM1333 338h1v1h-1zM561 339h2v1h-2zM558 340h3v1h-3zM556 341h2v1h-2zM1335 341h1v1h-1zM554 342h2v1h-2zM552 343h2v1h-2zM550 344h2v1h-2zM547 345h3v1h-3zM545 346h2v1h-2zM542 347h3v1h-3zM540 348h2v1h-2zM1339 348h1v1h-1zM538 349h2v1h-2zM536 350h2v1h-2zM534 351h2v1h-2zM531 352h3v1h-3zM529 353h2v1h-2zM485 354h4v1h-4zM527 354h2v1h-2zM481 355h4v1h-4zM489 355h4v1h-4zM525 355h2v1h-2zM1343 355h1v1h-1zM479 356h2v1h-2zM493 356h4v1h-4zM523 356h2v1h-2zM477 357h2v1h-2zM497 357h4v1h-4zM522 357h1v1h-1zM475 358h2v1h-2zM501 358h6v1h-6zM520 358h2v1h-2zM474 359h1v1h-1zM507 359h13v1h-13zM472 360h2v1h-2zM471 361h1v1h-1zM470 362h1v1h-1zM1347 362h1v1h-1zM469 363h1v1h-1zM467 364h2v1h-2zM466 365h1v1h-1zM465 366h1v1h-1zM464 367h1v1h-1zM463 368h1v1h-1zM462 369h1v1h-1zM1351 369h1v1h-1zM1352 370h1v1h-1zM460 372h1v1h-1zM459 373h1v1h-1zM1354 373h1v1h-1zM458 374h1v1h-1zM1355 374h1v1h-1zM1356 375h1v1h-1zM456 377h1v1h-1zM455 378h1v1h-1zM1358 378h1v1h-1zM1359 379h1v1h-1zM453 381h1v1h-1zM452 382h1v1h-1zM1361 382h1v1h-1zM450 385h1v1h-1zM1363 385h1v1h-1zM449 386h1v1h-1zM1365 388h1v1h-1zM447 389h1v1h-1zM1367 391h1v1h-1zM445 392h1v1h-1zM444 393h1v1h-1zM287 396h1v1h-1zM442 396h1v1h-1zM1370 396h1v1h-1zM441 397h1v1h-1zM1372 399h1v1h-1zM439 400h1v1h-1zM290 401h1v1h-1zM437 403h1v1h-1zM292 404h1v1h-1zM1375 404h1v1h-1zM435 406h1v1h-1zM295 409h1v1h-1zM433 409h1v1h-1zM1378 409h1v1h-1zM296 410h1v1h-1zM431 412h1v1h-1zM1380 412h1v1h-1zM298 413h1v1h-1zM430 413h1v1h-1zM299 414h1v1h-1zM429 414h1v1h-1zM300 415h1v1h-1zM428 415h1v1h-1zM1383 417h1v1h-1zM302 418h1v1h-1zM426 418h1v1h-1zM1384 418h1v1h-1zM303 419h1v1h-1zM425 419h1v1h-1zM304 420h1v1h-1zM424 420h1v1h-1zM305 421h1v1h-1zM423 421h1v1h-1zM1386 421h1v1h-1zM306 422h1v1h-1zM422 422h1v1h-1zM1387 422h1v1h-1zM307 423h2v1h-2zM421 423h1v1h-1zM1388 423h1v1h-1zM309 424h1v1h-1zM419 424h2v1h-2zM310 425h1v1h-1zM418 425h1v1h-1zM311 426h1v1h-1zM417 426h1v1h-1zM1390 426h1v1h-1zM312 427h1v1h-1zM416 427h1v1h-1zM1391 427h1v1h-1zM313 428h1v1h-1zM415 428h1v1h-1zM314 429h1v1h-1zM414 429h1v1h-1zM315 430h2v1h-2zM413 430h1v1h-1zM317 431h1v1h-1zM411 431h2v1h-2zM318 432h1v1h-1zM410 432h1v1h-1zM319 433h1v1h-1zM409 433h1v1h-1zM320 434h1v1h-1zM408 434h1v1h-1zM321 435h2v1h-2zM407 435h1v1h-1zM323 436h1v1h-1zM406 436h1v1h-1zM324 437h1v1h-1zM405 437h1v1h-1zM325 438h2v1h-2zM403 438h2v1h-2zM327 439h2v1h-2zM402 439h1v1h-1zM329 440h4v1h-4zM401 440h1v1h-1zM333 441h3v1h-3zM400 441h1v1h-1zM336 442h2v1h-2zM399 442h1v1h-1zM1399 442h1v1h-1zM338 443h2v1h-2zM397 443h2v1h-2zM340 444h2v1h-2zM395 444h2v1h-2zM342 445h3v1h-3zM394 445h1v1h-1zM1401 445h1v1h-1zM1463 445h1v1h-1zM345 446h4v1h-4zM392 446h2v1h-2zM1402 446h1v1h-1zM1461 446h2v1h-2zM349 447h4v1h-4zM390 447h2v1h-2zM1459 447h2v1h-2zM353 448h2v1h-2zM388 448h2v1h-2zM1458 448h1v1h-1zM355 449h3v1h-3zM386 449h2v1h-2zM1404 449h1v1h-1zM1456 449h2v1h-2zM358 450h3v1h-3zM384 450h2v1h-2zM1405 450h1v1h-1zM1455 450h1v1h-1zM361 451h4v1h-4zM379 451h5v1h-5zM1453 451h2v1h-2zM365 452h14v1h-14zM1451 452h2v1h-2zM1407 453h1v1h-1zM1450 453h1v1h-1zM1408 454h1v1h-1zM1448 454h2v1h-2zM1409 455h1v1h-1zM1447 455h1v1h-1zM1410 456h1v1h-1zM1445 456h2v1h-2zM1411 457h1v1h-1zM1444 457h1v1h-1zM1412 458h1v1h-1zM1443 458h1v1h-1zM1413 459h1v1h-1zM1441 459h2v1h-2zM1414 460h1v1h-1zM1440 460h1v1h-1zM1415 461h1v1h-1zM1439 461h1v1h-1zM1416 462h1v1h-1zM1437 462h2v1h-2zM1417 463h2v1h-2zM1436 463h1v1h-1zM1419 464h1v1h-1zM1435 464h1v1h-1zM1420 465h1v1h-1zM1433 465h2v1h-2zM1421 466h2v1h-2zM1432 466h1v1h-1zM1423 467h9v1h-9z" fill="#3cb371" shape-rendering="crispEdges"/>
<path d="M123 244h1v2h-1zM128 250h1v2h-1zM131 254h1v2h-1zM134 258h1v2h-1zM135 260h1v2h-1zM136 262h1v4h-1zM137 266h1v4h-1zM138 270h1v4h-1zM139 274h1v3h-1zM140 277h1v4h-1zM141 281h1v4h-1zM142 285h1v4h-1zM143 289h1v3h-1zM144 292h1v4h-1zM145 296h1v3h-1zM146 299h1v3h-1zM147 302h1v4h-1zM148 306h1v3h-1zM149 309h1v3h-1zM150 312h1v4h-1zM151 316h1v3h-1zM152 319h1v2h-1zM153 321h1v3h-1zM154 324h1v3h-1zM155 327h1v2h-1zM156 329h1v3h-1zM157 332h1v3h-1zM158 335h1v2h-1zM159 337h1v2h-1zM160 339h1v2h-1zM162 342h1v2h-1zM164 345h1v2h-1zM166 348h1v2h-1zM168 351h1v2h-1zM169 353h1v2h-1zM170 355h1v2h-1zM171 357h1v2h-1zM172 359h1v2h-1zM173 361h1v2h-1zM174 363h1v2h-1zM175 365h1v2h-1zM184 373h1v2h-1zM186 376h1v2h-1zM188 379h1v2h-1zM190 382h1v2h-1zM201 394h1v2h-1zM205 399h1v2h-1zM208 403h1v2h-1zM210 406h1v2h-1zM212 409h1v2h-1zM214 412h1v2h-1zM215 414h1v2h-1zM216 416h1v2h-1zM217 418h1v2h-1zM218 420h1v2h-1zM219 422h1v2h-1zM220 424h1v2h-1zM221 426h1v2h-1zM222 428h1v2h-1zM223 430h1v3h-1zM224 433h1v2h-1zM225 435h1v3h-1zM226 438h1v2h-1zM227 440h1v3h-1zM228 443h1v2h-1zM229 445h1v3h-1zM230 448h1v2h-1zM231 450h1v3h-1zM232 453h1v2h-1zM233 455h1v2h-1zM234 457h1v3h-1zM235 460h1v2h-1zM236 462h1v3h-1zM237 465h1v2h-1zM238 467h1v2h-1zM239 469h1v3h-1zM240 472h1v3h-1zM241 475h1v3h-1zM242 478h1v3h-1zM243 481h1v4h-1zM244 485h1v3h-1zM245 488h1v3h-1zM246 491h1v3h-1zM247 494h1v3h-1zM248 497h1v3h-1zM249 500h1v3h-1zM250 503h1v3h-1zM251 506h1v3h-1zM252 509h1v3h-1zM253 512h1v3h-1zM254 515h1v3h-1zM255 518h1v3h-1zM256 521h1v2h-1zM257 523h1v2h-1zM258 525h1v2h-1zM259 527h1v3h-1zM260 530h1v2h-1zM261 532h1v2h-1zM262 534h1v2h-1zM263 536h1v3h-1zM264 539h1v2h-1zM265 541h1v2h-1zM266 543h1v2h-1zM267 545h1v2h-1zM268 547h1v2h-1zM269 549h1v2h-1zM270 551h1v2h-1zM271 553h1v3h-1zM272 556h1v2h-1zM273 558h1v2h-1zM274 560h1v2h-1zM275 562h1v3h-1zM276 565h1v2h-1zM277 567h1v2h-1zM278 569h1v2h-1zM279 571h1v2h-1zM280 573h1v2h-1zM283 577h1v2h-1zM286 581h1v2h-1zM289 585h1v2h-1zM293 590h1v2h-1zM296 594h1v2h-1zM298 597h1v2h-1zM300 600h1v2h-1zM302 603h1v2h-1zM411 581h1v2h-1zM416 575h1v2h-1zM419 571h1v2h-1zM422 567h1v2h-1zM424 564h1v2h-1zM425 562h1v2h-1zM426 560h1v2h-1zM427 558h1v2h-1zM428 556h1v2h-1zM429 554h1v2h-1zM430 552h1v2h-1zM431 549h1v3h-1zM432 547h1v2h-1zM433 545h1v2h-1zM434 543h1v2h-1zM435 540h1v3h-1zM436 538h1v2h-1zM437 536h1v2h-1zM438 534h1v2h-1zM439 532h1v2h-1zM440 530h1v2h-1zM441 528h1v2h-1zM442 526h1v2h-1zM443 524h1v2h-1zM444 522h1v2h-1zM445 520h1v2h-1zM446 518h1v2h-1zM447 515h1v3h-1zM448 512h1v3h-1zM449 509h1v3h-1zM450 506h1v3h-1zM451 504h1v2h-1zM452 501h1v3h-1zM453 498h1v3h-1zM454 495h1v3h-1zM455 492h1v3h-1zM456 488h1v4h-1zM457 484h1v4h-1zM458 481h1v3h-1zM459 477h1v4h-1zM460 474h1v3h-1zM461 470h1v4h-1zM462 466h1v4h-1zM463 463h1v3h-1zM464 460h1v3h-1zM465 458h1v2h-1zM466 455h1v3h-1zM467 452h1v3h-1zM468 449h1v3h-1zM469 447h1v2h-1zM470 444h1v3h-1zM471 441h1v3h-1zM472 438h1v3h-1zM473 434h1v4h-1zM474 431h1v3h-1zM475 428h1v3h-1zM476 425h1v3h-1zM477 421h1v4h-1zM478 418h1v3h-1zM479 416h1v2h-1zM640 404h1v2h-1zM643 400h1v2h-1zM646 396h1v2h-1zM648 393h1v2h-1zM649 391h1v2h-1zM650 389h1v2h-1zM652 386h1v2h-1zM653 384h1v2h-1zM654 382h1v2h-1zM655 380h1v2h-1zM656 378h1v2h-1zM657 376h1v2h-1zM658 373h1v3h-1zM659 371h1v2h-1zM660 368h1v3h-1zM661 366h1v2h-1zM662 364h1v2h-1zM663 362h1v2h-1zM664 360h1v2h-1zM667 356h1v2h-1zM670 352h1v2h-1zM672 349h1v2h-1zM673 347h1v2h-1zM674 345h1v2h-1zM676 342h1v2h-1zM677 340h1v2h-1zM678 338h1v2h-1zM713 341h1v2h-1zM717 346h1v2h-1zM723 353h1v2h-1zM785 366h1v2h-1zM789 361h1v2h-1zM792 357h1v2h-1zM795 353h1v2h-1zM798 349h1v2h-1zM799 347h1v2h-1zM800 345h1v2h-1zM801 343h1v2h-1zM802 340h1v3h-1zM803 338h1v2h-1zM804 335h1v3h-1zM805 333h1v2h-1zM806 331h1v2h-1zM807 329h1v2h-1zM808 327h1v2h-1zM809 325h1v2h-1zM810 323h1v2h-1zM812 320h1v2h-1zM813 318h1v2h-1zM814 316h1v2h-1zM815 314h1v2h-1zM816 312h1v2h-1zM817 310h1v2h-1zM818 308h1v2h-1zM819 306h1v2h-1zM820 304h1v2h-1zM821 302h1v2h-1zM822 300h1v2h-1zM823 298h1v2h-1zM832 289h1v2h-1zM833 287h1v2h-1zM834 285h1v2h-1zM835 283h1v2h-1zM836 281h1v2h-1zM837 279h1v2h-1zM838 277h1v2h-1zM840 274h1v2h-1zM841 272h1v2h-1zM842 270h1v2h-1zM843 268h1v2h-1zM844 266h1v2h-1zM845 264h1v2h-1zM846 262h1v2h-1zM847 260h1v2h-1zM872 264h1v2h-1zM874 267h1v2h-1zM876 270h1v2h-1zM878 273h1v2h-1zM880 276h1v2h-1zM883 280h1v2h-1zM886 284h1v2h-1zM888 287h1v2h-1zM889 289h1v2h-1zM890 291h1v2h-1zM891 293h1v2h-1zM892 295h1v2h-1zM893 297h1v2h-1zM894 299h1v2h-1zM895 301h1v2h-1zM896 303h1v2h-1zM898 306h1v2h-1zM900 309h1v2h-1zM902 312h1v2h-1zM904 315h1v2h-1zM906 318h1v2h-1zM908 321h1v2h-1zM910 324h1v2h-1zM1048 330h1v2h-1zM1050 327h1v2h-1zM1052 324h1v2h-1zM1054 321h1v2h-1zM1056 318h1v2h-1zM1057 316h1v2h-1zM1059 313h1v2h-1zM1061 310h1v2h-1zM1062 308h1v2h-1zM1064 305h1v2h-1zM1065 303h1v2h-1zM1066 301h1v2h-1zM1067 299h1v2h-1zM1068 297h1v2h-1zM1069 295h1v2h-1zM1070 293h1v2h-1zM1071 291h1v2h-1zM1072 289h1v2h-1zM1073 287h1v2h-1zM1074 285h1v2h-1zM1076 282h1v2h-1zM1077 280h1v2h-1zM1078 278h1v2h-1zM1079 276h1v2h-1zM1080 274h1v2h-1zM1081 272h1v2h-1zM1082 269h1v3h-1zM1083 267h1v2h-1zM1084 264h1v3h-1zM1085 262h1v2h-1zM1086 260h1v2h-1zM1087 257h1v3h-1zM1088 253h1v4h-1zM1089 250h1v3h-1zM1090 246h1v4h-1zM1091 243h1v3h-1zM1092 239h1v4h-1zM1093 236h1v3h-1zM1094 232h1v4h-1zM1095 229h1v3h-1zM1096 227h1v2h-1zM1097 224h1v3h-1zM1098 222h1v2h-1zM1099 219h1v3h-1zM1100 217h1v2h-1zM1101 214h1v3h-1zM1102 212h1v2h-1zM1103 210h1v2h-1zM1105 212h1v2h-1zM1109 217h1v2h-1zM1115 224h1v2h-1zM1192 236h1v2h-1zM1194 239h1v2h-1zM1196 242h1v2h-1zM1198 245h1v2h-1zM1203 251h1v2h-1zM1240 281h1v2h-1zM1242 284h1v2h-1zM1244 287h1v2h-1zM1246 290h1v2h-1zM1247 292h1v2h-1zM1248 294h1v3h-1zM1249 297h1v2h-1zM1250 299h1v3h-1zM1251 302h1v3h-1zM1252 305h1v3h-1zM1253 308h1v2h-1zM1254 310h1v3h-1zM1255 313h1v3h-1zM1256 316h1v2h-1zM1257 318h1v3h-1zM1258 321h1v3h-1zM1259 324h1v2h-1zM1260 326h1v3h-1zM1261 329h1v3h-1zM1262 332h1v2h-1zM1263 334h1v3h-1zM1264 337h1v4h-1zM1265 341h1v3h-1zM1266 344h1v3h-1zM1267 347h1v4h-1zM1268 351h1v3h-1zM1269 354h1v3h-1zM1270 357h1v4h-1zM1271 361h1v4h-1zM1272 365h1v5h-1zM1273 370h1v5h-1zM1274 375h1v5h-1zM1275 380h1v6h-1zM1276 386h1v5h-1zM1277 391h1v5h-1zM1278 396h1v5h-1zM1279 401h1v5h-1zM1280 406h1v5h-1zM1281 411h1v5h-1zM1282 416h1v5h-1zM1283 421h1v4h-1zM1284 425h1v5h-1zM1285 430h1v5h-1zM1286 435h1v5h-1zM1287 440h1v5h-1zM1288 445h1v4h-1zM1289 449h1v4h-1zM1290 453h1v4h-1zM1291 457h1v4h-1zM1292 461h1v4h-1zM1293 465h1v4h-1zM1294 469h1v4h-1zM1295 473h1v4h-1zM1296 477h1v3h-1zM1297 480h1v3h-1zM1298 483h1v3h-1zM1299 486h1v3h-1zM1300 489h1v3h-1zM1301 492h1v3h-1zM1302 495h1v3h-1zM1303 498h1v3h-1zM1304 501h1v2h-1zM1305 503h1v3h-1zM1306 506h1v3h-1zM1307 509h1v2h-1zM1308 511h1v3h-1zM1309 514h1v3h-1zM1310 517h1v2h-1zM1311 519h1v2h-1zM1312 521h1v2h-1zM1313 523h1v2h-1zM1315 526h1v2h-1zM1317 529h1v2h-1zM1318 531h1v2h-1zM1385 569h1v2h-1zM1389 564h1v2h-1zM1395 557h1v2h-1zM1416 545h1v2h-1zM1419 541h1v2h-1zM1422 537h1v2h-1zM1431 539h1v2h-1zM1432 541h1v2h-1zM1433 543h1v2h-1zM1434 545h1v2h-1zM1435 547h1v2h-1zM1436 549h1v2h-1zM1437 551h1v2h-1zM1438 553h1v2h-1zM1439 555h1v2h-1zM-1 209h1v1h-1zM0 210h1v1h-1zM1 211h1v1h-1zM1104 211h1v1h-1zM2 212h1v1h-1zM3 213h1v1h-1zM4 214h1v1h-1zM1106 214h1v1h-1zM5 215h1v1h-1zM1107 215h1v1h-1zM6 216h1v1h-1zM1108 216h1v1h-1zM7 217h1v1h-1zM8 218h1v1h-1zM9 219h1v1h-1zM1110 219h1v1h-1zM10 220h1v1h-1zM1111 220h1v1h-1zM11 221h1v1h-1zM1112 221h1v1h-1zM12 222h1v1h-1zM1113 222h1v1h-1zM13 223h1v1h-1zM1114 223h1v1h-1zM14 224h1v1h-1zM15 225h1v1h-1zM16 226h1v1h-1zM1116 226h1v1h-1zM17 227h2v1h-2zM1117 227h1v1h-1zM19 228h1v1h-1zM1118 228h1v1h-1zM20 229h1v1h-1zM1119 229h1v1h-1zM21 230h2v1h-2zM1120 230h1v1h-1zM23 231h1v1h-1zM1121 231h1v1h-1zM24 232h1v1h-1zM1122 232h1v1h-1zM25 233h1v1h-1zM1123 233h1v1h-1zM1159 233h18v1h-18zM26 234h1v1h-1zM102 234h5v1h-5zM1124 234h1v1h-1zM1157 234h2v1h-2zM1177 234h4v1h-4zM27 235h2v1h-2zM99 235h3v1h-3zM107 235h5v1h-5zM1125 235h1v1h-1zM1156 235h1v1h-1zM1181 235h11v1h-11zM29 236h1v1h-1zM97 236h2v1h-2zM112 236h2v1h-2zM1126 236h1v1h-1zM1155 236h1v1h-1zM30 237h1v1h-1zM94 237h3v1h-3zM114 237h1v1h-1zM1127 237h4v1h-4zM1153 237h2v1h-2zM31 238h2v1h-2zM91 238h3v1h-3zM115 238h2v1h-2zM1131 238h6v1h-6zM1152 238h1v1h-1zM1193 238h1v1h-1zM33 239h2v1h-2zM89 239h2v1h-2zM117 239h2v1h-2zM1137 239h2v1h-2zM1149 239h3v1h-3zM35 240h3v1h-3zM85 240h4v1h-4zM119 240h1v1h-1zM1139 240h3v1h-3zM1145 240h4v1h-4zM38 241h2v1h-2zM81 241h4v1h-4zM120 241h1v1h-1zM1142 241h3v1h-3zM1195 241h1v1h-1zM40 242h2v1h-2zM78 242h3v1h-3zM121 242h1v1h-1zM42 243h2v1h-2zM75 243h3v1h-3zM122 243h1v1h-1zM44 244h2v1h-2zM73 244h2v1h-2zM1197 244h1v1h-1zM46 245h27v1h-27zM124 246h1v1h-1zM125 247h1v1h-1zM1199 247h1v1h-1zM126 248h1v1h-1zM1200 248h1v1h-1zM127 249h1v1h-1zM1201 249h1v1h-1zM1202 250h1v1h-1zM129 252h1v1h-1zM130 253h1v1h-1zM1204 253h1v1h-1zM1205 254h1v1h-1zM1206 255h1v1h-1zM132 256h1v1h-1zM1207 256h1v1h-1zM133 257h1v1h-1zM1208 257h1v1h-1zM1209 258h2v1h-2zM859 259h5v1h-5zM1211 259h1v1h-1zM848 260h11v1h-11zM864 260h2v1h-2zM1212 260h1v1h-1zM866 261h2v1h-2zM1213 261h2v1h-2zM868 262h2v1h-2zM1215 262h1v1h-1zM870 263h2v1h-2zM1216 263h1v1h-1zM1217 264h1v1h-1zM1218 265h1v1h-1zM873 266h1v1h-1zM1219 266h2v1h-2zM1221 267h1v1h-1zM1222 268h1v1h-1zM875 269h1v1h-1zM1223 269h1v1h-1zM1224 270h1v1h-1zM1225 271h1v1h-1zM877 272h1v1h-1zM1226 272h1v1h-1zM1227 273h2v1h-2zM1229 274h1v1h-1zM879 275h1v1h-1zM1230 275h1v1h-1zM839 276h1v1h-1zM1231 276h1v1h-1zM1232 277h2v1h-2zM881 278h1v1h-1zM1234 278h2v1h-2zM882 279h1v1h-1zM1236 279h2v1h-2zM1238 280h2v1h-2zM884 282h1v1h-1zM885 283h1v1h-1zM1241 283h1v1h-1zM1075 284h1v1h-1zM887 286h1v1h-1zM1243 286h1v1h-1zM1245 289h1v1h-1zM831 291h1v1h-1zM830 292h1v1h-1zM829 293h1v1h-1zM827 294h2v1h-2zM826 295h1v1h-1zM825 296h1v1h-1zM824 297h1v1h-1zM897 305h1v1h-1zM1063 307h1v1h-1zM899 308h1v1h-1zM901 311h1v1h-1zM1060 312h1v1h-1zM903 314h1v1h-1zM1058 315h1v1h-1zM905 317h1v1h-1zM907 320h1v1h-1zM1055 320h1v1h-1zM811 322h1v1h-1zM909 323h1v1h-1zM1053 323h1v1h-1zM911 326h1v1h-1zM1051 326h1v1h-1zM912 327h1v1h-1zM913 328h1v1h-1zM914 329h1v1h-1zM1049 329h1v1h-1zM915 330h1v1h-1zM916 331h1v1h-1zM917 332h1v1h-1zM1047 332h1v1h-1zM918 333h1v1h-1zM1045 333h2v1h-2zM919 334h1v1h-1zM1044 334h1v1h-1zM920 335h1v1h-1zM1043 335h1v1h-1zM683 336h14v1h-14zM921 336h1v1h-1zM1041 336h2v1h-2zM679 337h4v1h-4zM697 337h4v1h-4zM922 337h1v1h-1zM1040 337h1v1h-1zM701 338h6v1h-6zM923 338h2v1h-2zM1039 338h1v1h-1zM707 339h5v1h-5zM925 339h1v1h-1zM1037 339h2v1h-2zM712 340h1v1h-1zM926 340h1v1h-1zM949 340h4v1h-4zM1036 340h1v1h-1zM161 341h1v1h-1zM927 341h2v1h-2zM945 341h4v1h-4zM953 341h4v1h-4zM963 341h8v1h-8zM1035 341h1v1h-1zM929 342h4v1h-4zM939 342h6v1h-6zM957 342h6v1h-6zM971 342h6v1h-6zM1033 342h2v1h-2zM714 343h1v1h-1zM933 343h6v1h-6zM977 343h4v1h-4zM1032 343h1v1h-1zM163 344h1v1h-1zM675 344h1v1h-1zM715 344h1v1h-1zM981 344h3v1h-3zM1031 344h1v1h-1zM716 345h1v1h-1zM984 345h1v1h-1zM1029 345h2v1h-2zM985 346h2v1h-2zM1028 346h1v1h-1zM165 347h1v1h-1zM987 347h1v1h-1zM1027 347h1v1h-1zM718 348h1v1h-1zM988 348h1v1h-1zM1025 348h2v1h-2zM719 349h1v1h-1zM989 349h2v1h-2zM1024 349h1v1h-1zM167 350h1v1h-1zM720 350h1v1h-1zM991 350h1v1h-1zM1022 350h2v1h-2zM671 351h1v1h-1zM721 351h1v1h-1zM797 351h1v1h-1zM992 351h1v1h-1zM1019 351h3v1h-3zM722 352h1v1h-1zM796 352h1v1h-1zM993 352h1v1h-1zM1017 352h2v1h-2zM994 353h1v1h-1zM1015 353h2v1h-2zM669 354h1v1h-1zM995 354h2v1h-2zM1013 354h2v1h-2zM668 355h1v1h-1zM724 355h1v1h-1zM794 355h1v1h-1zM997 355h1v1h-1zM1011 355h2v1h-2zM725 356h1v1h-1zM793 356h1v1h-1zM998 356h1v1h-1zM1010 356h1v1h-1zM726 357h1v1h-1zM999 357h4v1h-4zM1008 357h2v1h-2zM666 358h1v1h-1zM727 358h1v1h-1zM1003 358h5v1h-5zM665 359h1v1h-1zM728 359h2v1h-2zM791 359h1v1h-1zM730 360h2v1h-2zM790 360h1v1h-1zM732 361h2v1h-2zM734 362h3v1h-3zM749 362h11v1h-11zM737 363h4v1h-4zM745 363h4v1h-4zM760 363h1v1h-1zM788 363h1v1h-1zM741 364h4v1h-4zM761 364h1v1h-1zM787 364h1v1h-1zM762 365h1v1h-1zM786 365h1v1h-1zM763 366h2v1h-2zM176 367h1v1h-1zM765 367h1v1h-1zM177 368h2v1h-2zM766 368h1v1h-1zM784 368h1v1h-1zM179 369h1v1h-1zM767 369h1v1h-1zM783 369h1v1h-1zM180 370h1v1h-1zM768 370h1v1h-1zM782 370h1v1h-1zM181 371h2v1h-2zM769 371h1v1h-1zM781 371h1v1h-1zM183 372h1v1h-1zM770 372h1v1h-1zM780 372h1v1h-1zM771 373h1v1h-1zM779 373h1v1h-1zM772 374h1v1h-1zM778 374h1v1h-1zM185 375h1v1h-1zM773 375h1v1h-1zM777 375h1v1h-1zM774 376h1v1h-1zM776 376h1v1h-1zM775 377h1v1h-1zM187 378h1v1h-1zM189 381h1v1h-1zM191 384h1v1h-1zM192 385h1v1h-1zM193 386h1v1h-1zM194 387h1v1h-1zM195 388h1v1h-1zM651 388h1v1h-1zM196 389h1v1h-1zM197 390h1v1h-1zM198 391h1v1h-1zM199 392h1v1h-1zM200 393h1v1h-1zM647 395h1v1h-1zM202 396h1v1h-1zM203 397h1v1h-1zM204 398h1v1h-1zM645 398h1v1h-1zM644 399h1v1h-1zM206 401h1v1h-1zM207 402h1v1h-1zM642 402h1v1h-1zM641 403h1v1h-1zM209 405h1v1h-1zM639 406h1v1h-1zM638 407h1v1h-1zM211 408h1v1h-1zM637 408h1v1h-1zM487 409h1v1h-1zM636 409h1v1h-1zM486 410h1v1h-1zM488 410h2v1h-2zM590 410h5v1h-5zM635 410h1v1h-1zM213 411h1v1h-1zM485 411h1v1h-1zM490 411h2v1h-2zM588 411h2v1h-2zM595 411h6v1h-6zM634 411h1v1h-1zM483 412h2v1h-2zM492 412h2v1h-2zM586 412h2v1h-2zM601 412h4v1h-4zM633 412h1v1h-1zM482 413h1v1h-1zM494 413h2v1h-2zM584 413h2v1h-2zM605 413h4v1h-4zM632 413h1v1h-1zM481 414h1v1h-1zM496 414h1v1h-1zM582 414h2v1h-2zM609 414h4v1h-4zM627 414h5v1h-5zM480 415h1v1h-1zM497 415h2v1h-2zM580 415h2v1h-2zM613 415h14v1h-14zM499 416h1v1h-1zM578 416h2v1h-2zM500 417h1v1h-1zM576 417h2v1h-2zM501 418h2v1h-2zM574 418h2v1h-2zM503 419h4v1h-4zM515 419h6v1h-6zM572 419h2v1h-2zM507 420h8v1h-8zM521 420h2v1h-2zM570 420h2v1h-2zM523 421h3v1h-3zM568 421h2v1h-2zM526 422h3v1h-3zM565 422h3v1h-3zM529 423h4v1h-4zM539 423h6v1h-6zM561 423h4v1h-4zM533 424h6v1h-6zM545 424h4v1h-4zM555 424h6v1h-6zM549 425h6v1h-6zM1314 525h1v1h-1zM1316 528h1v1h-1zM1319 533h1v1h-1zM1320 534h1v1h-1zM1321 535h2v1h-2zM1323 536h1v1h-1zM1423 536h2v1h-2zM1324 537h1v1h-1zM1425 537h2v1h-2zM1325 538h2v1h-2zM1427 538h3v1h-3zM1327 539h1v1h-1zM1421 539h1v1h-1zM1430 539h1v1h-1zM1328 540h1v1h-1zM1420 540h1v1h-1zM1329 541h2v1h-2zM1331 542h1v1h-1zM1332 543h1v1h-1zM1418 543h1v1h-1zM1333 544h2v1h-2zM1417 544h1v1h-1zM1335 545h1v1h-1zM1336 546h1v1h-1zM1337 547h1v1h-1zM1415 547h1v1h-1zM1338 548h1v1h-1zM1413 548h2v1h-2zM1339 549h1v1h-1zM1412 549h1v1h-1zM1340 550h1v1h-1zM1411 550h1v1h-1zM1341 551h1v1h-1zM1409 551h2v1h-2zM1342 552h1v1h-1zM1408 552h1v1h-1zM1343 553h9v1h-9zM1399 553h9v1h-9zM1352 554h1v1h-1zM1398 554h1v1h-1zM1353 555h1v1h-1zM1397 555h1v1h-1zM1354 556h1v1h-1zM1396 556h1v1h-1zM1355 557h1v1h-1zM1440 557h2v1h-2zM1356 558h1v1h-1zM1442 558h2v1h-2zM1357 559h1v1h-1zM1394 559h1v1h-1zM1444 559h2v1h-2zM1358 560h1v1h-1zM1393 560h1v1h-1zM1446 560h3v1h-3zM1359 561h1v1h-1zM1392 561h1v1h-1zM1449 561h4v1h-4zM1360 562h1v1h-1zM1391 562h1v1h-1zM1453 562h6v1h-6zM1361 563h2v1h-2zM1390 563h1v1h-1zM1459 563h5v1h-5zM1363 564h1v1h-1zM1364 565h1v1h-1zM423 566h1v1h-1zM1365 566h2v1h-2zM1388 566h1v1h-1zM1367 567h1v1h-1zM1387 567h1v1h-1zM1368 568h2v1h-2zM1386 568h1v1h-1zM421 569h1v1h-1zM1370 569h1v1h-1zM420 570h1v1h-1zM1371 570h2v1h-2zM1373 571h2v1h-2zM1384 571h1v1h-1zM1375 572h9v1h-9zM418 573h1v1h-1zM417 574h1v1h-1zM281 575h1v1h-1zM282 576h1v1h-1zM415 577h1v1h-1zM414 578h1v1h-1zM284 579h1v1h-1zM413 579h1v1h-1zM285 580h1v1h-1zM412 580h1v1h-1zM287 583h1v1h-1zM410 583h1v1h-1zM288 584h1v1h-1zM409 584h1v1h-1zM408 585h1v1h-1zM407 586h1v1h-1zM290 587h1v1h-1zM406 587h1v1h-1zM291 588h1v1h-1zM366 588h13v1h-13zM405 588h1v1h-1zM292 589h1v1h-1zM364 589h2v1h-2zM379 589h6v1h-6zM403 589h2v1h-2zM362 590h2v1h-2zM385 590h2v1h-2zM402 590h1v1h-1zM360 591h2v1h-2zM387 591h3v1h-3zM401 591h1v1h-1zM294 592h1v1h-1zM359 592h1v1h-1zM390 592h5v1h-5zM400 592h1v1h-1zM295 593h1v1h-1zM357 593h2v1h-2zM395 593h5v1h-5zM356 594h1v1h-1zM355 595h1v1h-1zM297 596h1v1h-1zM353 596h2v1h-2zM352 597h1v1h-1zM350 598h2v1h-2zM299 599h1v1h-1zM348 599h2v1h-2zM346 600h2v1h-2zM344 601h2v1h-2zM301 602h1v1h-1zM343 602h1v1h-1zM342 603h1v1h-1zM341 604h1v1h-1zM303 605h1v1h-1zM339 605h2v1h-2zM304 606h2v1h-2zM338 606h1v1h-1zM306 607h1v1h-1zM337 607h1v1h-1zM307 608h2v1h-2zM336 608h1v1h-1zM309 609h2v1h-2zM333 609h3v1h-3zM311 610h1v1h-1zM329 610h4v1h-4zM312 611h2v1h-2zM326 611h3v1h-3zM314 612h2v1h-2zM323 612h3v1h-3zM316 613h2v1h-2zM321 613h2v1h-2zM318 614h3v1h-3z" fill="#3cb371" shape-rendering="crispEdges"/>
<rect x="0" y="298" width="1649" height="1" fill="#ff0000"/>
<rect x="0" y="334" width="1649" height="1" fill="#ff4500"/>
<rect x="0" y="361" width="1649" height="1" fill="#c0c0c0"/>
<rect x="0" y="379" width="1649" height="1" fill="#32cd32"/>
<rect x="0" y="402" width="1649" height="1" fill="#0000ff"/>
<rect x="0" y="426" width="1649" height="1" fill="#0000ff"/>
<g fill="#000" shape-rendering="crispEdges"><rect x="-1" y="155" width="1" height="25"/><rect x="-3" y="155" width="5" height="25"/><rect x="7" y="177" width="1" height="66"/><rect x="5" y="180" width="5" height="44"/><rect x="15" y="211" width="1" height="26"/><rect x="13" y="216" width="5" height="8"/><rect x="14" y="217" width="3" height="6" fill="#fff"/><rect x="23" y="206" width="1" height="22"/><rect x="21" y="211" width="5" height="6"/><rect x="22" y="212" width="3" height="4" fill="#fff"/><rect x="31" y="208" width="1" height="30"/><rect x="29" y="211" width="5" height="11"/><rect x="39" y="196" width="1" height="54"/><rect x="37" y="204" width="5" height="16"/><rect x="38" y="205" width="3" height="14" fill="#fff"/><rect x="47" y="131" width="1" height="74"/><rect x="45" y="141" width="5" height="63"/><rect x="46" y="142" width="3" height="61" fill="#fff"/><rect x="55" y="110" width="1" height="33"/><rect x="53" y="119" width="5" height="23"/><rect x="54" y="120" width="3" height="21" fill="#fff"/><rect x="63" y="120" width="1" height="13"/><rect x="61" y="124" width="5" height="6"/><rect x="71" y="123" width="1" height="27"/><rect x="69" y="129" width="5" height="19"/><rect x="79" y="131" width="1" height="40"/><rect x="77" y="144" width="5" height="3"/><rect x="78" y="145" width="3" height="1" fill="#fff"/><rect x="87" y="106" width="1" height="49"/><rect x="85" y="126" width="5" height="18"/><rect x="86" y="127" width="3" height="16" fill="#fff"/><rect x="95" y="114" width="1" height="74"/><rect x="93" y="124" width="5" height="32"/><rect x="103" y="147" width="1" height="28"/><rect x="101" y="155" width="5" height="15"/><rect x="111" y="160" width="1" height="15"/><rect x="109" y="167" width="5" height="4"/><rect x="110" y="168" width="3" height="2" fill="#fff"/><rect x="119" y="167" width="1" height="43"/><rect x="117" y="167" width="5" height="42"/><rect x="127" y="184" width="1" height="71"/><rect x="125" y="208" width="5" height="27"/><rect x="135" y="211" width="1" height="48"/><rect x="133" y="234" width="5" height="19"/><rect x="143" y="242" width="1" height="101"/><rect x="141" y="252" width="5" height="85"/><rect x="151" y="323" width="1" height="33"/><rect x="149" y="335" width="5" height="1"/><rect x="159" y="325" width="1" height="21"/><rect x="157" y="332" width="5" height="3"/><rect x="158" y="333" width="3" height="1" fill="#fff"/><rect x="167" y="301" width="1" height="37"/><rect x="165" y="311" width="5" height="23"/><rect x="166" y="312" width="3" height="21" fill="#fff"/><rect x="175" y="308" width="1" height="40"/><rect x="173" y="310" width="5" height="21"/><rect x="183" y="284" width="1" height="52"/><rect x="181" y="284" width="5" height="47"/><rect x="182" y="285" width="3" height="45" fill="#fff"/><rect x="191" y="282" width="1" height="42"/><rect x="189" y="286" width="5" height="36"/><rect x="199" y="257" width="1" height="68"/><rect x="197" y="305" width="5" height="16"/><rect x="198" y="306" width="3" height="14" fill="#fff"/><rect x="207" y="302" width="1" height="26"/><rect x="205" y="304" width="5" height="24"/><rect x="215" y="316" width="1" height="63"/><rect x="213" y="327" width="5" height="39"/><rect x="223" y="360" width="1" height="54"/><rect x="221" y="365" width="5" height="38"/><rect x="231" y="399" width="1" height="56"/><rect x="229" y="403" width="5" height="26"/><rect x="239" y="408" width="1" height="69"/><rect x="237" y="429" width="5" height="16"/><rect x="247" y="442" width="1" height="68"/><rect x="245" y="446" width="5" height="61"/><rect x="255" y="498" width="1" height="19"/><rect x="253" y="506" width="5" height="8"/><rect x="263" y="495" width="1" height="39"/><rect x="261" y="511" width="5" height="4"/><rect x="271" y="505" width="1" height="43"/><rect x="269" y="514" width="5" height="20"/><rect x="279" y="513" width="1" height="40"/><rect x="277" y="533" width="5" height="11"/><rect x="287" y="503" width="1" height="56"/><rect x="285" y="519" width="5" height="25"/><rect x="286" y="520" width="3" height="23" fill="#fff"/><rect x="295" y="506" width="1" height="26"/><rect x="293" y="520" width="5" height="6"/><rect x="303" y="518" width="1" height="12"/><rect x="301" y="522" width="5" height="4"/><rect x="302" y="523" width="3" height="2" fill="#fff"/><rect x="311" y="472" width="1" height="50"/><rect x="309" y="483" width="5" height="39"/><rect x="310" y="484" width="3" height="37" fill="#fff"/><rect x="319" y="460" width="1" height="50"/><rect x="317" y="481" width="5" height="3"/><rect x="318" y="482" width="3" height="1" fill="#fff"/><rect x="327" y="422" width="1" height="68"/><rect x="325" y="428" width="5" height="54"/><rect x="326" y="429" width="3" height="52" fill="#fff"/><rect x="335" y="363" width="1" height="67"/><rect x="333" y="372" width="5" height="54"/><rect x="334" y="373" width="3" height="52" fill="#fff"/><rect x="343" y="345" width="1" height="28"/><rect x="341" y="352" width="5" height="20"/><rect x="342" y="353" width="3" height="18" fill="#fff"/><rect x="351" y="348" width="1" height="32"/><rect x="349" y="351" width="5" height="10"/><rect x="359" y="356" width="1" height="26"/><rect x="357" y="362" width="5" height="9"/><rect x="367" y="320" width="1" height="56"/><rect x="365" y="371" width="5" height="1"/><rect x="375" y="345" width="1" height="64"/><rect x="373" y="365" width="5" height="7"/><rect x="374" y="366" width="3" height="5" fill="#fff"/><rect x="383" y="320" width="1" height="68"/><rect x="381" y="364" width="5" height="9"/><rect x="391" y="346" width="1" height="34"/><rect x="389" y="346" width="5" height="29"/><rect x="390" y="347" width="3" height="27" fill="#fff"/><rect x="399" y="345" width="1" height="18"/><rect x="397" y="346" width="5" height="13"/><rect x="407" y="346" width="1" height="30"/><rect x="405" y="358" width="5" height="11"/><rect x="415" y="354" width="1" height="34"/><rect x="413" y="368" width="5" height="1"/><rect x="423" y="327" width="1" height="53"/><rect x="421" y="368" width="5" height="6"/><rect x="431" y="338" width="1" height="66"/><rect x="429" y="362" width="5" height="11"/><rect x="430" y="363" width="3" height="9" fill="#fff"/><rect x="439" y="288" width="1" height="77"/><rect x="437" y="299" width="5" height="64"/><rect x="438" y="300" width="3" height="62" fill="#fff"/><rect x="447" y="291" width="1" height="17"/><rect x="445" y="292" width="5" height="7"/><rect x="446" y="293" width="3" height="5" fill="#fff"/><rect x="455" y="286" width="1" height="31"/><rect x="453" y="292" width="5" height="22"/><rect x="463" y="301" width="1" height="36"/><rect x="461" y="313" width="5" height="8"/><rect x="471" y="316" width="1" height="32"/><rect x="469" y="320" width="5" height="23"/><rect x="479" y="339" width="1" height="43"/><rect x="477" y="341" width="5" height="38"/><rect x="487" y="372" width="1" height="44"/><rect x="485" y="378" width="5" height="20"/><rect x="495" y="393" width="1" height="13"/><rect x="493" y="398" width="5" height="1"/><rect x="503" y="398" width="1" height="34"/><rect x="501" y="398" width="5" height="5"/><rect x="511" y="363" width="1" height="44"/><rect x="509" y="372" width="5" height="31"/><rect x="510" y="373" width="3" height="29" fill="#fff"/><rect x="519" y="363" width="1" height="45"/><rect x="517" y="366" width="5" height="6"/><rect x="518" y="367" width="3" height="4" fill="#fff"/><rect x="527" y="265" width="1" height="131"/><rect x="525" y="287" width="5" height="77"/><rect x="526" y="288" width="3" height="75" fill="#fff"/><rect x="535" y="267" width="1" height="29"/><rect x="533" y="287" width="5" height="1"/><rect x="543" y="289" width="1" height="10"/><rect x="541" y="292" width="5" height="4"/><rect x="551" y="275" width="1" height="32"/><rect x="549" y="284" width="5" height="12"/><rect x="550" y="285" width="3" height="10" fill="#fff"/><rect x="559" y="275" width="1" height="40"/><rect x="557" y="285" width="5" height="2"/><rect x="567" y="280" width="1" height="40"/><rect x="565" y="288" width="5" height="12"/><rect x="575" y="287" width="1" height="56"/><rect x="573" y="300" width="5" height="3"/><rect x="583" y="287" width="1" height="24"/><rect x="581" y="298" width="5" height="5"/><rect x="582" y="299" width="3" height="3" fill="#fff"/><rect x="591" y="298" width="1" height="12"/><rect x="589" y="299" width="5" height="3"/><rect x="599" y="270" width="1" height="37"/><rect x="597" y="272" width="5" height="31"/><rect x="598" y="273" width="3" height="29" fill="#fff"/><rect x="607" y="232" width="1" height="45"/><rect x="605" y="260" width="5" height="13"/><rect x="606" y="261" width="3" height="11" fill="#fff"/><rect x="615" y="247" width="1" height="55"/><rect x="613" y="252" width="5" height="8"/><rect x="614" y="253" width="3" height="6" fill="#fff"/><rect x="623" y="222" width="1" height="106"/><rect x="621" y="252" width="5" height="69"/><rect x="631" y="300" width="1" height="26"/><rect x="629" y="319" width="5" height="1"/><rect x="639" y="302" width="1" height="19"/><rect x="637" y="312" width="5" height="8"/><rect x="638" y="313" width="3" height="6" fill="#fff"/><rect x="647" y="306" width="1" height="41"/><rect x="645" y="311" width="5" height="25"/><rect x="655" y="291" width="1" height="56"/><rect x="653" y="305" width="5" height="32"/><rect x="654" y="306" width="3" height="30" fill="#fff"/><rect x="663" y="291" width="1" height="35"/><rect x="661" y="305" width="5" height="1"/><rect x="671" y="236" width="1" height="68"/><rect x="669" y="251" width="5" height="53"/><rect x="670" y="252" width="3" height="51" fill="#fff"/><rect x="679" y="243" width="1" height="44"/><rect x="677" y="251" width="5" height="34"/><rect x="687" y="277" width="1" height="11"/><rect x="685" y="282" width="5" height="2"/><rect x="695" y="265" width="1" height="23"/><rect x="693" y="276" width="5" height="5"/><rect x="694" y="277" width="3" height="3" fill="#fff"/><rect x="703" y="248" width="1" height="35"/><rect x="701" y="251" width="5" height="26"/><rect x="702" y="252" width="3" height="24" fill="#fff"/><rect x="711" y="231" width="1" height="38"/><rect x="709" y="250" width="5" height="2"/><rect x="719" y="174" width="1" height="90"/><rect x="717" y="195" width="5" height="56"/><rect x="718" y="196" width="3" height="54" fill="#fff"/><rect x="727" y="168" width="1" height="28"/><rect x="725" y="173" width="5" height="23"/><rect x="726" y="174" width="3" height="21" fill="#fff"/><rect x="735" y="172" width="1" height="9"/><rect x="733" y="174" width="5" height="1"/><rect x="743" y="159" width="1" height="22"/><rect x="741" y="174" width="5" height="4"/><rect x="751" y="171" width="1" height="23"/><rect x="749" y="177" width="5" height="16"/><rect x="759" y="165" width="1" height="40"/><rect x="757" y="180" width="5" height="12"/><rect x="758" y="181" width="3" height="10" fill="#fff"/><rect x="767" y="111" width="1" height="88"/><rect x="765" y="132" width="5" height="48"/><rect x="766" y="133" width="3" height="46" fill="#fff"/><rect x="775" y="83" width="1" height="53"/><rect x="773" y="105" width="5" height="28"/><rect x="774" y="106" width="3" height="26" fill="#fff"/><rect x="783" y="128" width="1" height="12"/><rect x="781" y="132" width="5" height="7"/><rect x="791" y="135" width="1" height="19"/><rect x="789" y="139" width="5" height="10"/><rect x="799" y="142" width="1" height="33"/><rect x="797" y="148" width="5" height="23"/><rect x="807" y="157" width="1" height="26"/><rect x="805" y="158" width="5" height="10"/><rect x="806" y="159" width="3" height="8" fill="#fff"/><rect x="815" y="157" width="1" height="47"/><rect x="813" y="157" width="5" height="33"/><rect x="823" y="174" width="1" height="16"/><rect x="821" y="178" width="5" height="12"/><rect x="822" y="179" width="3" height="10" fill="#fff"/><rect x="831" y="167" width="1" height="20"/><rect x="829" y="170" width="5" height="8"/><rect x="830" y="171" width="3" height="6" fill="#fff"/><rect x="839" y="141" width="1" height="30"/><rect x="837" y="156" width="5" height="14"/><rect x="838" y="157" width="3" height="12" fill="#fff"/><rect x="847" y="146" width="1" height="55"/><rect x="845" y="156" width="5" height="25"/><rect x="855" y="180" width="1" height="107"/><rect x="853" y="180" width="5" height="96"/><rect x="863" y="234" width="1" height="52"/><rect x="861" y="250" width="5" height="25"/><rect x="862" y="251" width="3" height="23" fill="#fff"/><rect x="871" y="240" width="1" height="29"/><rect x="869" y="250" width="5" height="15"/><rect x="879" y="255" width="1" height="14"/><rect x="877" y="265" width="5" height="4"/><rect x="887" y="249" width="1" height="26"/><rect x="885" y="269" width="5" height="1"/><rect x="895" y="262" width="1" height="45"/><rect x="893" y="268" width="5" height="24"/><rect x="903" y="269" width="1" height="47"/><rect x="901" y="286" width="5" height="5"/><rect x="902" y="287" width="3" height="3" fill="#fff"/><rect x="911" y="272" width="1" height="84"/><rect x="909" y="285" width="5" height="11"/><rect x="919" y="259" width="1" height="46"/><rect x="917" y="277" width="5" height="19"/><rect x="918" y="278" width="3" height="17" fill="#fff"/><rect x="927" y="272" width="1" height="21"/><rect x="925" y="277" width="5" height="13"/><rect x="935" y="277" width="1" height="25"/><rect x="933" y="288" width="5" height="7"/><rect x="943" y="245" width="1" height="66"/><rect x="941" y="256" width="5" height="37"/><rect x="942" y="257" width="3" height="35" fill="#fff"/><rect x="951" y="171" width="1" height="85"/><rect x="949" y="173" width="5" height="83"/><rect x="950" y="174" width="3" height="81" fill="#fff"/><rect x="959" y="145" width="1" height="55"/><rect x="957" y="146" width="5" height="28"/><rect x="958" y="147" width="3" height="26" fill="#fff"/><rect x="967" y="131" width="1" height="45"/><rect x="965" y="146" width="5" height="26"/><rect x="975" y="168" width="1" height="15"/><rect x="973" y="171" width="5" height="1"/><rect x="983" y="148" width="1" height="33"/><rect x="981" y="149" width="5" height="22"/><rect x="982" y="150" width="3" height="20" fill="#fff"/><rect x="991" y="104" width="1" height="63"/><rect x="989" y="114" width="5" height="36"/><rect x="990" y="115" width="3" height="34" fill="#fff"/><rect x="999" y="93" width="1" height="36"/><rect x="997" y="95" width="5" height="19"/><rect x="998" y="96" width="3" height="17" fill="#fff"/><rect x="1007" y="88" width="1" height="78"/><rect x="1005" y="95" width="5" height="62"/><rect x="1015" y="136" width="1" height="35"/><rect x="1013" y="157" width="5" height="2"/><rect x="1023" y="165" width="1" height="13"/><rect x="1021" y="171" width="5" height="4"/><rect x="1022" y="172" width="3" height="2" fill="#fff"/><rect x="1031" y="158" width="1" height="34"/><rect x="1029" y="168" width="5" height="1"/><rect x="1039" y="167" width="1" height="71"/><rect x="1037" y="167" width="5" height="41"/><rect x="1047" y="180" width="1" height="43"/><rect x="1045" y="192" width="5" height="14"/><rect x="1046" y="193" width="3" height="12" fill="#fff"/><rect x="1055" y="149" width="1" height="63"/><rect x="1053" y="163" width="5" height="30"/><rect x="1054" y="164" width="3" height="28" fill="#fff"/><rect x="1063" y="160" width="1" height="31"/><rect x="1061" y="162" width="5" height="15"/><rect x="1071" y="164" width="1" height="14"/><rect x="1069" y="172" width="5" height="4"/><rect x="1070" y="173" width="3" height="2" fill="#fff"/><rect x="1079" y="151" width="1" height="26"/><rect x="1077" y="158" width="5" height="14"/><rect x="1078" y="159" width="3" height="12" fill="#fff"/><rect x="1087" y="98" width="1" height="88"/><rect x="1085" y="108" width="5" height="52"/><rect x="1086" y="109" width="3" height="50" fill="#fff"/><rect x="1095" y="101" width="1" height="47"/><rect x="1093" y="108" width="5" height="39"/><rect x="1103" y="47" width="1" height="122"/><rect x="1101" y="146" width="5" height="11"/><rect x="1111" y="140" width="1" height="89"/><rect x="1109" y="156" width="5" height="66"/><rect x="1119" y="219" width="1" height="11"/><rect x="1117" y="221" width="5" height="1"/><rect x="1127" y="213" width="1" height="34"/><rect x="1125" y="221" width="5" height="5"/><rect x="1135" y="171" width="1" height="67"/><rect x="1133" y="190" width="5" height="36"/><rect x="1134" y="191" width="3" height="34" fill="#fff"/><rect x="1143" y="163" width="1" height="47"/><rect x="1141" y="189" width="5" height="6"/><rect x="1151" y="145" width="1" height="69"/><rect x="1149" y="177" width="5" height="18"/><rect x="1150" y="178" width="3" height="16" fill="#fff"/><rect x="1159" y="157" width="1" height="36"/><rect x="1157" y="158" width="5" height="18"/><rect x="1158" y="159" width="3" height="16" fill="#fff"/><rect x="1167" y="147" width="1" height="33"/><rect x="1165" y="155" width="5" height="4"/><rect x="1166" y="156" width="3" height="2" fill="#fff"/><rect x="1175" y="152" width="1" height="26"/><rect x="1173" y="156" width="5" height="22"/><rect x="1183" y="171" width="1" height="44"/><rect x="1181" y="177" width="5" height="21"/><rect x="1191" y="166" width="1" height="59"/><rect x="1189" y="172" width="5" height="27"/><rect x="1190" y="173" width="3" height="25" fill="#fff"/><rect x="1199" y="171" width="1" height="122"/><rect x="1197" y="171" width="5" height="91"/><rect x="1207" y="230" width="1" height="46"/><rect x="1205" y="246" width="5" height="16"/><rect x="1206" y="247" width="3" height="14" fill="#fff"/><rect x="1215" y="234" width="1" height="22"/><rect x="1213" y="238" width="5" height="7"/><rect x="1214" y="239" width="3" height="5" fill="#fff"/><rect x="1223" y="234" width="1" height="27"/><rect x="1221" y="238" width="5" height="2"/><rect x="1231" y="217" width="1" height="36"/><rect x="1229" y="239" width="5" height="9"/><rect x="1239" y="213" width="1" height="62"/><rect x="1237" y="238" width="5" height="10"/><rect x="1238" y="239" width="3" height="8" fill="#fff"/><rect x="1247" y="222" width="1" height="109"/><rect x="1245" y="238" width="5" height="70"/><rect x="1255" y="292" width="1" height="48"/><rect x="1253" y="308" width="5" height="29"/><rect x="1263" y="348" width="1" height="11"/><rect x="1261" y="351" width="5" height="3"/><rect x="1262" y="352" width="3" height="1" fill="#fff"/><rect x="1271" y="348" width="1" height="49"/><rect x="1269" y="352" width="5" height="30"/><rect x="1279" y="373" width="1" height="81"/><rect x="1277" y="381" width="5" height="67"/><rect x="1287" y="398" width="1" height="70"/><rect x="1285" y="447" width="5" height="20"/><rect x="1295" y="422" width="1" height="66"/><rect x="1293" y="467" width="5" height="3"/><rect x="1303" y="454" width="1" height="41"/><rect x="1301" y="456" width="5" height="14"/><rect x="1302" y="457" width="3" height="12" fill="#fff"/><rect x="1311" y="455" width="1" height="37"/><rect x="1309" y="456" width="5" height="5"/><rect x="1319" y="441" width="1" height="42"/><rect x="1317" y="448" width="5" height="13"/><rect x="1318" y="449" width="3" height="11" fill="#fff"/><rect x="1327" y="417" width="1" height="43"/><rect x="1325" y="427" width="5" height="20"/><rect x="1326" y="428" width="3" height="18" fill="#fff"/><rect x="1335" y="410" width="1" height="31"/><rect x="1333" y="427" width="5" height="6"/><rect x="1343" y="416" width="1" height="80"/><rect x="1341" y="433" width="5" height="27"/><rect x="1351" y="440" width="1" height="41"/><rect x="1349" y="459" width="5" height="1"/><rect x="1359" y="458" width="1" height="16"/><rect x="1357" y="458" width="5" height="11"/><rect x="1367" y="434" width="1" height="50"/><rect x="1365" y="469" width="5" height="12"/><rect x="1375" y="463" width="1" height="45"/><rect x="1373" y="481" width="5" height="23"/><rect x="1383" y="479" width="1" height="34"/><rect x="1381" y="496" width="5" height="8"/><rect x="1382" y="497" width="3" height="6" fill="#fff"/><rect x="1391" y="449" width="1" height="88"/><rect x="1389" y="451" width="5" height="46"/><rect x="1390" y="452" width="3" height="44" fill="#fff"/><rect x="1399" y="415" width="1" height="132"/><rect x="1397" y="451" width="5" height="82"/><rect x="1407" y="523" width="1" height="15"/><rect x="1405" y="533" width="5" height="4"/><rect x="1415" y="495" width="1" height="48"/><rect x="1413" y="496" width="5" height="36"/><rect x="1414" y="497" width="3" height="34" fill="#fff"/><rect x="1423" y="468" width="1" height="40"/><rect x="1421" y="470" width="5" height="25"/><rect x="1422" y="471" width="3" height="23" fill="#fff"/><rect x="1431" y="366" width="1" height="118"/><rect x="1429" y="368" width="5" height="102"/><rect x="1430" y="369" width="3" height="100" fill="#fff"/><rect x="1439" y="317" width="1" height="77"/><rect x="1437" y="325" width="5" height="43"/><rect x="1438" y="326" width="3" height="41" fill="#fff"/><rect x="1447" y="314" width="1" height="48"/><rect x="1445" y="325" width="5" height="34"/><rect x="1455" y="358" width="1" height="4"/><rect x="1453" y="358" width="5" height="4"/><rect x="1463" y="360" width="1" height="3"/><rect x="1461" y="361" width="5" height="1"/></g>
</g>
<g clip-path="url(#cMain)">
<rect x="1094" y="47" width="10" height="1" fill="#f00"/>
<rect x="1032.5" y="38.5" width="61" height="18" fill="#fff" stroke="#f00" stroke-width="1" shape-rendering="crispEdges"/><text x="1035" y="54.3" font-size="16.5" fill="#f00" textLength="56" lengthAdjust="spacingAndGlyphs">1.39125</text>
<rect x="278" y="558" width="10" height="1" fill="#f00"/>
<rect x="216.5" y="549.5" width="61" height="18" fill="#fff" stroke="#f00" stroke-width="1" shape-rendering="crispEdges"/><text x="219" y="565.3" font-size="16.5" fill="#f00" textLength="56" lengthAdjust="spacingAndGlyphs">1.36017</text>
<rect x="1441" y="314" width="7" height="1" fill="#f00"/>
<rect x="1438.5" y="312.5" width="2" height="3" fill="#fff" stroke="#f00" stroke-width="1"/>
<rect x="1376.5" y="305.5" width="61" height="18" fill="#fff" stroke="#f00" stroke-width="1" shape-rendering="crispEdges"/><text x="1379" y="321.3" font-size="16.5" fill="#f00" textLength="56" lengthAdjust="spacingAndGlyphs">1.37502</text>
<rect x="1304" y="379" width="8" height="1" fill="#f00"/>
<rect x="1311.5" y="377.5" width="2" height="3" fill="#fff" stroke="#f00" stroke-width="1"/>
<rect x="1314.5" y="367.5" width="73" height="24" fill="#fff" stroke="#f00" stroke-width="1" shape-rendering="crispEdges"/><text x="1316.5" y="388.2" font-size="21.5" fill="#f00" stroke="#f00" stroke-width="0.35" textLength="68" lengthAdjust="spacingAndGlyphs">1.37107</text>
<rect x="1393" y="547" width="7" height="1" fill="#f00"/>
<rect x="1390.5" y="545.5" width="2" height="3" fill="#fff" stroke="#f00" stroke-width="1"/>
<rect x="1328.5" y="538.5" width="61" height="18" fill="#fff" stroke="#f00" stroke-width="1" shape-rendering="crispEdges"/><text x="1331" y="554.3" font-size="16.5" fill="#f00" textLength="56" lengthAdjust="spacingAndGlyphs">1.36088</text>
<rect x="1420" y="379" width="90" height="5" fill="#00ff00"/>
<line x1="1405.0" y1="549.0" x2="1441.1" y2="325.2" stroke="#f00" stroke-width="3.5" stroke-linecap="round" shape-rendering="crispEdges"/><polygon points="1442.4,317.3 1446.4,327.1 1435.5,325.3" fill="#f00" shape-rendering="crispEdges"/>
<line x1="1442.0" y1="318.0" x2="1456.5" y2="371.7" stroke="#f00" stroke-width="3.5" stroke-linecap="round" shape-rendering="crispEdges"/><polygon points="1458.3,378.5 1450.9,372.2 1461.5,369.3" fill="#f00" shape-rendering="crispEdges"/>
<line x1="1458.0" y1="378.0" x2="1474.6" y2="368.0" stroke="#f00" stroke-width="3.5" stroke-linecap="round" shape-rendering="crispEdges"/><polygon points="1480.6,364.4 1476.6,373.2 1470.9,363.8" fill="#f00" shape-rendering="crispEdges"/>
<rect x="1504.5" y="345.5" width="110" height="24" fill="none" stroke="#333" stroke-width="1"/>
<rect x="1557" y="342.5" width="2" height="2" fill="#fff" stroke="#e040e0" stroke-width="1"/>
<text x="1506" y="364.3" font-size="19.8" fill="#00ff00" font-weight="300" style="font-family:'Liberation Sans','Noto Sans CJK SC',sans-serif" textLength="106" lengthAdjust="spacingAndGlyphs">多空转折点</text>
</g>
<polygon points="1461,21 1471,21 1466,26" fill="#a0a0a0"/>
<g clip-path="url(#cMacd)">
<g fill="#c0c0c0" shape-rendering="crispEdges"><rect x="-1" y="638" width="1" height="15"/><rect x="7" y="638" width="1" height="21"/><rect x="15" y="638" width="1" height="24"/><rect x="23" y="638" width="1" height="26"/><rect x="31" y="638" width="1" height="28"/><rect x="39" y="638" width="1" height="28"/><rect x="47" y="638" width="1" height="22"/><rect x="55" y="638" width="1" height="15"/><rect x="63" y="638" width="1" height="10"/><rect x="71" y="638" width="1" height="8"/><rect x="79" y="638" width="1" height="6"/><rect x="87" y="638" width="1" height="2"/><rect x="95" y="638" width="1" height="2"/><rect x="103" y="638" width="1" height="4"/><rect x="111" y="638" width="1" height="4"/><rect x="119" y="638" width="1" height="9"/><rect x="127" y="638" width="1" height="14"/><rect x="135" y="638" width="1" height="20"/><rect x="143" y="638" width="1" height="32"/><rect x="151" y="638" width="1" height="41"/><rect x="159" y="638" width="1" height="48"/><rect x="167" y="638" width="1" height="50"/><rect x="175" y="638" width="1" height="53"/><rect x="183" y="638" width="1" height="51"/><rect x="191" y="638" width="1" height="52"/><rect x="199" y="638" width="1" height="51"/><rect x="207" y="638" width="1" height="51"/><rect x="215" y="638" width="1" height="54"/><rect x="223" y="638" width="1" height="60"/><rect x="231" y="638" width="1" height="66"/><rect x="239" y="638" width="1" height="71"/><rect x="247" y="638" width="1" height="80"/><rect x="255" y="638" width="1" height="87"/><rect x="263" y="638" width="1" height="91"/><rect x="271" y="638" width="1" height="96"/><rect x="279" y="638" width="1" height="99"/><rect x="287" y="638" width="1" height="98"/><rect x="295" y="638" width="1" height="97"/><rect x="303" y="638" width="1" height="94"/><rect x="311" y="638" width="1" height="88"/><rect x="319" y="638" width="1" height="81"/><rect x="327" y="638" width="1" height="71"/><rect x="335" y="638" width="1" height="56"/><rect x="343" y="638" width="1" height="42"/><rect x="351" y="638" width="1" height="32"/><rect x="359" y="638" width="1" height="24"/><rect x="367" y="638" width="1" height="18"/><rect x="375" y="638" width="1" height="12"/><rect x="383" y="638" width="1" height="9"/><rect x="391" y="638" width="1" height="3"/><rect x="407" y="637" width="1" height="2"/><rect x="415" y="636" width="1" height="3"/><rect x="423" y="635" width="1" height="4"/><rect x="431" y="634" width="1" height="5"/><rect x="439" y="627" width="1" height="12"/><rect x="447" y="621" width="1" height="18"/><rect x="455" y="619" width="1" height="20"/><rect x="463" y="618" width="1" height="21"/><rect x="471" y="619" width="1" height="20"/><rect x="479" y="624" width="1" height="15"/><rect x="487" y="630" width="1" height="9"/><rect x="495" y="634" width="1" height="5"/><rect x="503" y="638" width="1" height="1"/><rect x="519" y="638" width="1" height="1"/><rect x="527" y="631" width="1" height="8"/><rect x="535" y="625" width="1" height="14"/><rect x="543" y="621" width="1" height="18"/><rect x="551" y="618" width="1" height="21"/><rect x="559" y="615" width="1" height="24"/><rect x="567" y="615" width="1" height="24"/><rect x="575" y="615" width="1" height="24"/><rect x="583" y="615" width="1" height="24"/><rect x="591" y="616" width="1" height="23"/><rect x="599" y="614" width="1" height="25"/><rect x="607" y="612" width="1" height="27"/><rect x="615" y="609" width="1" height="30"/><rect x="623" y="614" width="1" height="25"/><rect x="631" y="618" width="1" height="21"/><rect x="639" y="621" width="1" height="18"/><rect x="647" y="625" width="1" height="14"/><rect x="655" y="626" width="1" height="13"/><rect x="663" y="627" width="1" height="12"/><rect x="671" y="623" width="1" height="16"/><rect x="679" y="623" width="1" height="16"/><rect x="687" y="623" width="1" height="16"/><rect x="695" y="622" width="1" height="17"/><rect x="703" y="620" width="1" height="19"/><rect x="711" y="618" width="1" height="21"/><rect x="719" y="612" width="1" height="27"/><rect x="727" y="605" width="1" height="34"/><rect x="735" y="601" width="1" height="38"/><rect x="743" y="598" width="1" height="41"/><rect x="751" y="597" width="1" height="42"/><rect x="759" y="596" width="1" height="43"/><rect x="767" y="592" width="1" height="47"/><rect x="775" y="586" width="1" height="53"/><rect x="783" y="585" width="1" height="54"/><rect x="791" y="586" width="1" height="53"/><rect x="799" y="589" width="1" height="50"/><rect x="807" y="592" width="1" height="47"/><rect x="815" y="597" width="1" height="42"/><rect x="823" y="600" width="1" height="39"/><rect x="831" y="602" width="1" height="37"/><rect x="839" y="603" width="1" height="36"/><rect x="847" y="607" width="1" height="32"/><rect x="855" y="619" width="1" height="20"/><rect x="863" y="626" width="1" height="13"/><rect x="871" y="633" width="1" height="6"/><rect x="887" y="638" width="1" height="4"/><rect x="895" y="638" width="1" height="10"/><rect x="903" y="638" width="1" height="14"/><rect x="911" y="638" width="1" height="18"/><rect x="919" y="638" width="1" height="19"/><rect x="927" y="638" width="1" height="20"/><rect x="935" y="638" width="1" height="22"/><rect x="943" y="638" width="1" height="19"/><rect x="951" y="638" width="1" height="10"/><rect x="959" y="638" width="1" height="1"/><rect x="967" y="633" width="1" height="6"/><rect x="975" y="628" width="1" height="11"/><rect x="983" y="623" width="1" height="16"/><rect x="991" y="616" width="1" height="23"/><rect x="999" y="608" width="1" height="31"/><rect x="1007" y="609" width="1" height="30"/><rect x="1015" y="610" width="1" height="29"/><rect x="1023" y="612" width="1" height="27"/><rect x="1031" y="614" width="1" height="25"/><rect x="1039" y="619" width="1" height="20"/><rect x="1047" y="622" width="1" height="17"/><rect x="1055" y="621" width="1" height="18"/><rect x="1063" y="623" width="1" height="16"/><rect x="1071" y="624" width="1" height="15"/><rect x="1079" y="623" width="1" height="16"/><rect x="1087" y="618" width="1" height="21"/><rect x="1095" y="618" width="1" height="21"/><rect x="1103" y="619" width="1" height="20"/><rect x="1111" y="627" width="1" height="12"/><rect x="1119" y="632" width="1" height="7"/><rect x="1127" y="637" width="1" height="2"/><rect x="1135" y="638" width="1" height="1"/><rect x="1151" y="638" width="1" height="1"/><rect x="1159" y="635" width="1" height="4"/><rect x="1167" y="633" width="1" height="6"/><rect x="1175" y="634" width="1" height="5"/><rect x="1183" y="636" width="1" height="3"/><rect x="1191" y="635" width="1" height="4"/><rect x="1199" y="638" width="1" height="4"/><rect x="1207" y="638" width="1" height="9"/><rect x="1215" y="638" width="1" height="12"/><rect x="1223" y="638" width="1" height="14"/><rect x="1231" y="638" width="1" height="16"/><rect x="1239" y="638" width="1" height="17"/><rect x="1247" y="638" width="1" height="24"/><rect x="1255" y="638" width="1" height="32"/><rect x="1263" y="638" width="1" height="39"/><rect x="1271" y="638" width="1" height="46"/><rect x="1279" y="638" width="1" height="58"/><rect x="1287" y="638" width="1" height="68"/><rect x="1295" y="638" width="1" height="76"/><rect x="1303" y="638" width="1" height="80"/><rect x="1311" y="638" width="1" height="82"/><rect x="1319" y="638" width="1" height="82"/><rect x="1327" y="638" width="1" height="79"/><rect x="1335" y="638" width="1" height="76"/><rect x="1343" y="638" width="1" height="76"/><rect x="1351" y="638" width="1" height="74"/><rect x="1359" y="638" width="1" height="73"/><rect x="1367" y="638" width="1" height="73"/><rect x="1375" y="638" width="1" height="74"/><rect x="1383" y="638" width="1" height="73"/><rect x="1391" y="638" width="1" height="67"/><rect x="1399" y="638" width="1" height="70"/><rect x="1407" y="638" width="1" height="71"/><rect x="1415" y="638" width="1" height="68"/><rect x="1423" y="638" width="1" height="62"/><rect x="1431" y="638" width="1" height="47"/><rect x="1439" y="638" width="1" height="31"/><rect x="1447" y="638" width="1" height="21"/><rect x="1455" y="638" width="1" height="14"/><rect x="1463" y="638" width="1" height="7"/></g>
<path d="M363 698h1v2h-1zM379 680h1v2h-1zM804 590h3v1h-3zM810 590h3v1h-3zM816 590h3v1h-3zM822 590h3v1h-3zM798 591h3v1h-3zM828 591h3v1h-3zM834 591h1v1h-1zM793 592h2v1h-2zM835 592h2v1h-2zM840 592h1v1h-1zM792 593h1v1h-1zM841 593h2v1h-2zM787 594h2v1h-2zM786 595h1v1h-1zM846 595h3v1h-3zM782 596h1v1h-1zM780 597h2v1h-2zM852 597h2v1h-2zM854 598h1v1h-1zM774 599h3v1h-3zM858 600h1v1h-1zM770 601h1v1h-1zM859 601h2v1h-2zM768 602h2v1h-2zM764 604h1v1h-1zM864 604h2v1h-2zM762 605h2v1h-2zM866 605h1v1h-1zM758 607h1v1h-1zM870 607h1v1h-1zM756 608h2v1h-2zM871 608h1v1h-1zM872 609h1v1h-1zM750 610h3v1h-3zM745 611h2v1h-2zM876 611h1v1h-1zM744 612h1v1h-1zM877 612h2v1h-2zM613 613h2v1h-2zM618 613h3v1h-3zM624 613h3v1h-3zM630 613h3v1h-3zM739 613h2v1h-2zM1051 613h2v1h-2zM1056 613h3v1h-3zM612 614h1v1h-1zM636 614h3v1h-3zM642 614h1v1h-1zM738 614h1v1h-1zM1038 614h3v1h-3zM1044 614h3v1h-3zM1050 614h1v1h-1zM1062 614h3v1h-3zM606 615h3v1h-3zM643 615h2v1h-2zM648 615h3v1h-3zM734 615h1v1h-1zM882 615h1v1h-1zM1033 615h2v1h-2zM1068 615h1v1h-1zM600 616h3v1h-3zM654 616h3v1h-3zM732 616h2v1h-2zM883 616h2v1h-2zM1032 616h1v1h-1zM1069 616h2v1h-2zM1074 616h1v1h-1zM594 617h3v1h-3zM660 617h3v1h-3zM666 617h1v1h-1zM1027 617h2v1h-2zM1075 617h2v1h-2zM1080 617h3v1h-3zM590 618h1v1h-1zM667 618h2v1h-2zM672 618h1v1h-1zM726 618h3v1h-3zM1026 618h1v1h-1zM1086 618h3v1h-3zM588 619h2v1h-2zM673 619h2v1h-2zM721 619h2v1h-2zM888 619h1v1h-1zM1022 619h1v1h-1zM1092 619h3v1h-3zM1098 619h1v1h-1zM678 620h3v1h-3zM720 620h1v1h-1zM889 620h2v1h-2zM1020 620h2v1h-2zM1099 620h2v1h-2zM1104 620h3v1h-3zM582 621h3v1h-3zM684 621h3v1h-3zM690 621h1v1h-1zM714 621h3v1h-3zM1110 621h3v1h-3zM577 622h2v1h-2zM691 622h2v1h-2zM696 622h3v1h-3zM702 622h3v1h-3zM708 622h3v1h-3zM1016 622h1v1h-1zM1116 622h3v1h-3zM576 623h1v1h-1zM894 623h1v1h-1zM1015 623h1v1h-1zM1122 623h3v1h-3zM486 624h3v1h-3zM492 624h3v1h-3zM498 624h1v1h-1zM571 624h2v1h-2zM895 624h1v1h-1zM1014 624h1v1h-1zM1128 624h3v1h-3zM475 625h2v1h-2zM480 625h3v1h-3zM499 625h2v1h-2zM504 625h3v1h-3zM570 625h1v1h-1zM896 625h1v1h-1zM1134 625h3v1h-3zM470 626h1v1h-1zM474 626h1v1h-1zM510 626h3v1h-3zM565 626h2v1h-2zM1010 626h1v1h-1zM1140 626h1v1h-1zM468 627h2v1h-2zM516 627h1v1h-1zM564 627h1v1h-1zM900 627h1v1h-1zM1008 627h2v1h-2zM1141 627h2v1h-2zM517 628h2v1h-2zM522 628h1v1h-1zM558 628h3v1h-3zM901 628h2v1h-2zM1146 628h3v1h-3zM462 629h3v1h-3zM523 629h2v1h-2zM528 629h3v1h-3zM547 629h2v1h-2zM552 629h3v1h-3zM1152 629h1v1h-1zM457 630h2v1h-2zM534 630h3v1h-3zM540 630h3v1h-3zM546 630h1v1h-1zM1004 630h1v1h-1zM1153 630h2v1h-2zM456 631h1v1h-1zM906 631h1v1h-1zM1003 631h1v1h-1zM1158 631h3v1h-3zM451 632h2v1h-2zM907 632h1v1h-1zM1002 632h1v1h-1zM1164 632h3v1h-3zM450 633h1v1h-1zM908 633h1v1h-1zM1170 633h3v1h-3zM446 634h1v1h-1zM1176 634h3v1h-3zM444 635h2v1h-2zM997 635h2v1h-2zM1182 635h3v1h-3zM1188 635h3v1h-3zM1194 635h1v1h-1zM912 636h1v1h-1zM996 636h1v1h-1zM1195 636h2v1h-2zM1200 636h3v1h-3zM440 637h1v1h-1zM913 637h2v1h-2zM1206 637h3v1h-3zM438 638h2v1h-2zM1212 638h3v1h-3zM992 639h1v1h-1zM1218 639h3v1h-3zM433 640h2v1h-2zM918 640h1v1h-1zM990 640h2v1h-2zM1224 640h1v1h-1zM432 641h1v1h-1zM919 641h1v1h-1zM1225 641h2v1h-2zM427 642h2v1h-2zM920 642h1v1h-1zM986 642h1v1h-1zM1230 642h3v1h-3zM426 643h1v1h-1zM984 643h2v1h-2zM422 644h1v1h-1zM924 644h2v1h-2zM1236 644h2v1h-2zM117 645h3v1h-3zM123 645h3v1h-3zM129 645h2v1h-2zM420 645h2v1h-2zM926 645h1v1h-1zM980 645h1v1h-1zM1238 645h1v1h-1zM111 646h3v1h-3zM131 646h1v1h-1zM135 646h2v1h-2zM978 646h2v1h-2zM1242 646h1v1h-1zM107 647h1v1h-1zM137 647h1v1h-1zM416 647h1v1h-1zM930 647h2v1h-2zM1243 647h2v1h-2zM105 648h2v1h-2zM141 648h3v1h-3zM415 648h1v1h-1zM932 648h1v1h-1zM974 648h1v1h-1zM414 649h1v1h-1zM936 649h1v1h-1zM972 649h2v1h-2zM1248 649h2v1h-2zM99 650h3v1h-3zM147 650h1v1h-1zM937 650h2v1h-2zM1250 650h1v1h-1zM148 651h2v1h-2zM410 651h1v1h-1zM966 651h3v1h-3zM93 652h3v1h-3zM408 652h2v1h-2zM942 652h3v1h-3zM961 652h2v1h-2zM1254 652h2v1h-2zM89 653h1v1h-1zM948 653h3v1h-3zM954 653h3v1h-3zM960 653h1v1h-1zM1256 653h1v1h-1zM87 654h2v1h-2zM153 654h2v1h-2zM83 655h1v1h-1zM155 655h1v1h-1zM1260 655h2v1h-2zM81 656h2v1h-2zM403 656h2v1h-2zM1262 656h1v1h-1zM21 657h3v1h-3zM27 657h3v1h-3zM33 657h2v1h-2zM75 657h3v1h-3zM402 657h1v1h-1zM11 658h1v1h-1zM15 658h3v1h-3zM35 658h1v1h-1zM39 658h2v1h-2zM69 658h3v1h-3zM159 658h1v1h-1zM1266 658h1v1h-1zM3 659h3v1h-3zM9 659h2v1h-2zM41 659h1v1h-1zM59 659h1v1h-1zM63 659h3v1h-3zM160 659h2v1h-2zM1267 659h2v1h-2zM-1 660h1v1h-1zM45 660h3v1h-3zM51 660h3v1h-3zM57 660h2v1h-2zM398 661h1v1h-1zM165 662h2v1h-2zM397 662h1v1h-1zM1272 662h1v1h-1zM167 663h1v1h-1zM396 663h1v1h-1zM1273 663h2v1h-2zM171 666h2v1h-2zM1278 666h1v1h-1zM173 667h1v1h-1zM392 667h1v1h-1zM1279 667h1v1h-1zM391 668h1v1h-1zM1280 668h1v1h-1zM390 669h1v1h-1zM177 670h2v1h-2zM179 671h1v1h-1zM1284 671h1v1h-1zM1285 672h2v1h-2zM386 673h1v1h-1zM183 674h1v1h-1zM385 674h1v1h-1zM184 675h2v1h-2zM384 675h1v1h-1zM1290 676h1v1h-1zM189 677h1v1h-1zM1291 677h2v1h-2zM190 678h2v1h-2zM380 679h1v1h-1zM195 680h1v1h-1zM196 681h2v1h-2zM1296 681h1v1h-1zM1297 682h1v1h-1zM201 683h1v1h-1zM1298 683h1v1h-1zM202 684h2v1h-2zM1459 684h2v1h-2zM375 685h1v1h-1zM1458 685h1v1h-1zM207 686h2v1h-2zM374 686h1v1h-1zM1302 686h1v1h-1zM209 687h1v1h-1zM373 687h1v1h-1zM1303 687h1v1h-1zM213 688h3v1h-3zM1304 688h1v1h-1zM219 689h2v1h-2zM1454 689h1v1h-1zM221 690h1v1h-1zM1453 690h1v1h-1zM225 691h3v1h-3zM370 691h1v1h-1zM1308 691h1v1h-1zM1452 691h1v1h-1zM231 692h2v1h-2zM369 692h1v1h-1zM1309 692h1v1h-1zM233 693h1v1h-1zM368 693h1v1h-1zM1310 693h1v1h-1zM237 694h1v1h-1zM1448 694h1v1h-1zM238 695h2v1h-2zM1447 695h1v1h-1zM243 696h2v1h-2zM1446 696h1v1h-1zM245 697h1v1h-1zM364 697h1v1h-1zM1314 697h1v1h-1zM249 698h1v1h-1zM1315 698h2v1h-2zM1442 698h1v1h-1zM250 699h2v1h-2zM1440 699h2v1h-2zM255 701h1v1h-1zM256 702h2v1h-2zM1320 702h2v1h-2zM1435 702h2v1h-2zM359 703h1v1h-1zM1322 703h1v1h-1zM1434 703h1v1h-1zM358 704h1v1h-1zM261 705h2v1h-2zM357 705h1v1h-1zM1326 705h1v1h-1zM1430 705h1v1h-1zM263 706h1v1h-1zM1327 706h1v1h-1zM1428 706h2v1h-2zM1328 707h1v1h-1zM1422 708h3v1h-3zM267 709h2v1h-2zM353 709h1v1h-1zM1332 709h2v1h-2zM1417 709h2v1h-2zM269 710h1v1h-1zM352 710h1v1h-1zM1334 710h1v1h-1zM1404 710h3v1h-3zM1410 710h3v1h-3zM1416 710h1v1h-1zM351 711h1v1h-1zM1338 711h1v1h-1zM1398 711h3v1h-3zM273 712h1v1h-1zM1339 712h2v1h-2zM1392 712h3v1h-3zM274 713h1v1h-1zM1344 713h1v1h-1zM1386 713h3v1h-3zM275 714h1v1h-1zM1345 714h2v1h-2zM1380 714h3v1h-3zM347 715h1v1h-1zM1350 715h3v1h-3zM1363 715h2v1h-2zM1368 715h3v1h-3zM1374 715h3v1h-3zM279 716h1v1h-1zM346 716h1v1h-1zM1356 716h3v1h-3zM1362 716h1v1h-1zM280 717h2v1h-2zM345 717h1v1h-1zM285 720h2v1h-2zM341 720h1v1h-1zM287 721h1v1h-1zM339 721h2v1h-2zM291 723h1v1h-1zM292 724h2v1h-2zM334 724h2v1h-2zM333 725h1v1h-1zM297 726h2v1h-2zM299 727h1v1h-1zM328 727h2v1h-2zM303 728h2v1h-2zM327 728h1v1h-1zM305 729h1v1h-1zM321 729h3v1h-3zM309 730h3v1h-3zM315 730h3v1h-3z" fill="#f00" shape-rendering="crispEdges"/>
<line x1="1404.0" y1="731.5" x2="1473.5" y2="630.3" stroke="#f00" stroke-width="3.5" stroke-linecap="round" shape-rendering="crispEdges"/><polygon points="1478.0,623.7 1477.0,633.9 1468.8,628.3" fill="#f00" shape-rendering="crispEdges"/>
</g>
<text x="-4.5" y="587.8" font-size="9.8" fill="#000" textLength="153" lengthAdjust="spacingAndGlyphs">MACD(12,26,9) -0.000390 -0.002287</text>
<g clip-path="url(#cRsi)">
<path d="M-2 783h3v1h-3zM4 783h3v1h-3zM10 783h3v1h-3zM16 783h3v1h-3zM22 783h3v1h-3zM28 783h3v1h-3zM34 783h3v1h-3zM40 783h3v1h-3zM46 783h3v1h-3zM52 783h3v1h-3zM58 783h3v1h-3zM64 783h3v1h-3zM70 783h3v1h-3zM76 783h3v1h-3zM82 783h3v1h-3zM88 783h3v1h-3zM94 783h3v1h-3zM100 783h3v1h-3zM106 783h3v1h-3zM112 783h3v1h-3zM118 783h3v1h-3zM124 783h3v1h-3zM130 783h3v1h-3zM136 783h3v1h-3zM142 783h3v1h-3zM148 783h3v1h-3zM154 783h3v1h-3zM160 783h3v1h-3zM166 783h3v1h-3zM172 783h3v1h-3zM178 783h3v1h-3zM184 783h3v1h-3zM190 783h3v1h-3zM196 783h3v1h-3zM202 783h3v1h-3zM208 783h3v1h-3zM214 783h3v1h-3zM220 783h3v1h-3zM226 783h3v1h-3zM232 783h3v1h-3zM238 783h3v1h-3zM244 783h3v1h-3zM250 783h3v1h-3zM256 783h3v1h-3zM262 783h3v1h-3zM268 783h3v1h-3zM274 783h3v1h-3zM280 783h3v1h-3zM286 783h3v1h-3zM292 783h3v1h-3zM298 783h3v1h-3zM304 783h3v1h-3zM310 783h3v1h-3zM316 783h3v1h-3zM322 783h3v1h-3zM328 783h3v1h-3zM334 783h3v1h-3zM340 783h3v1h-3zM346 783h3v1h-3zM352 783h3v1h-3zM358 783h3v1h-3zM364 783h3v1h-3zM370 783h3v1h-3zM376 783h3v1h-3zM382 783h3v1h-3zM388 783h3v1h-3zM394 783h3v1h-3zM400 783h3v1h-3zM406 783h3v1h-3zM412 783h3v1h-3zM418 783h3v1h-3zM424 783h3v1h-3zM430 783h3v1h-3zM436 783h3v1h-3zM442 783h3v1h-3zM448 783h3v1h-3zM454 783h3v1h-3zM460 783h3v1h-3zM466 783h3v1h-3zM472 783h3v1h-3zM478 783h3v1h-3zM484 783h3v1h-3zM490 783h3v1h-3zM496 783h3v1h-3zM502 783h3v1h-3zM508 783h3v1h-3zM514 783h3v1h-3zM520 783h3v1h-3zM526 783h3v1h-3zM532 783h3v1h-3zM538 783h3v1h-3zM544 783h3v1h-3zM550 783h3v1h-3zM556 783h3v1h-3zM562 783h3v1h-3zM568 783h3v1h-3zM574 783h3v1h-3zM580 783h3v1h-3zM586 783h3v1h-3zM592 783h3v1h-3zM598 783h3v1h-3zM604 783h3v1h-3zM610 783h3v1h-3zM616 783h3v1h-3zM622 783h3v1h-3zM628 783h3v1h-3zM634 783h3v1h-3zM640 783h3v1h-3zM646 783h3v1h-3zM652 783h3v1h-3zM658 783h3v1h-3zM664 783h3v1h-3zM670 783h3v1h-3zM676 783h3v1h-3zM682 783h3v1h-3zM688 783h3v1h-3zM694 783h3v1h-3zM700 783h3v1h-3zM706 783h3v1h-3zM712 783h3v1h-3zM718 783h3v1h-3zM724 783h3v1h-3zM730 783h3v1h-3zM736 783h3v1h-3zM742 783h3v1h-3zM748 783h3v1h-3zM754 783h3v1h-3zM760 783h3v1h-3zM766 783h3v1h-3zM772 783h3v1h-3zM778 783h3v1h-3zM784 783h3v1h-3zM790 783h3v1h-3zM796 783h3v1h-3zM802 783h3v1h-3zM808 783h3v1h-3zM814 783h3v1h-3zM820 783h3v1h-3zM826 783h3v1h-3zM832 783h3v1h-3zM838 783h3v1h-3zM844 783h3v1h-3zM850 783h3v1h-3zM856 783h3v1h-3zM862 783h3v1h-3zM868 783h3v1h-3zM874 783h3v1h-3zM880 783h3v1h-3zM886 783h3v1h-3zM892 783h3v1h-3zM898 783h3v1h-3zM904 783h3v1h-3zM910 783h3v1h-3zM916 783h3v1h-3zM922 783h3v1h-3zM928 783h3v1h-3zM934 783h3v1h-3zM940 783h3v1h-3zM946 783h3v1h-3zM952 783h3v1h-3zM958 783h3v1h-3zM964 783h3v1h-3zM970 783h3v1h-3zM976 783h3v1h-3zM982 783h3v1h-3zM988 783h3v1h-3zM994 783h3v1h-3zM1000 783h3v1h-3zM1006 783h3v1h-3zM1012 783h3v1h-3zM1018 783h3v1h-3zM1024 783h3v1h-3zM1030 783h3v1h-3zM1036 783h3v1h-3zM1042 783h3v1h-3zM1048 783h3v1h-3zM1054 783h3v1h-3zM1060 783h3v1h-3zM1066 783h3v1h-3zM1072 783h3v1h-3zM1078 783h3v1h-3zM1084 783h3v1h-3zM1090 783h3v1h-3zM1096 783h3v1h-3zM1102 783h3v1h-3zM1108 783h3v1h-3zM1114 783h3v1h-3zM1120 783h3v1h-3zM1126 783h3v1h-3zM1132 783h3v1h-3zM1138 783h3v1h-3zM1144 783h3v1h-3zM1150 783h3v1h-3zM1156 783h3v1h-3zM1162 783h3v1h-3zM1168 783h3v1h-3zM1174 783h3v1h-3zM1180 783h3v1h-3zM1186 783h3v1h-3zM1192 783h3v1h-3zM1198 783h3v1h-3zM1204 783h3v1h-3zM1210 783h3v1h-3zM1216 783h3v1h-3zM1222 783h3v1h-3zM1228 783h3v1h-3zM1234 783h3v1h-3zM1240 783h3v1h-3zM1246 783h3v1h-3zM1252 783h3v1h-3zM1258 783h3v1h-3zM1264 783h3v1h-3zM1270 783h3v1h-3zM1276 783h3v1h-3zM1282 783h3v1h-3zM1288 783h3v1h-3zM1294 783h3v1h-3zM1300 783h3v1h-3zM1306 783h3v1h-3zM1312 783h3v1h-3zM1318 783h3v1h-3zM1324 783h3v1h-3zM1330 783h3v1h-3zM1336 783h3v1h-3zM1342 783h3v1h-3zM1348 783h3v1h-3zM1354 783h3v1h-3zM1360 783h3v1h-3zM1366 783h3v1h-3zM1372 783h3v1h-3zM1378 783h3v1h-3zM1384 783h3v1h-3zM1390 783h3v1h-3zM1396 783h3v1h-3zM1402 783h3v1h-3zM1408 783h3v1h-3zM1414 783h3v1h-3zM1420 783h3v1h-3zM1426 783h3v1h-3zM1432 783h3v1h-3zM1438 783h3v1h-3zM1444 783h3v1h-3zM1450 783h3v1h-3zM1456 783h3v1h-3zM1462 783h3v1h-3zM1468 783h3v1h-3zM1474 783h3v1h-3zM1480 783h3v1h-3zM1486 783h3v1h-3zM1492 783h3v1h-3zM1498 783h3v1h-3zM1504 783h3v1h-3zM1510 783h3v1h-3zM1516 783h3v1h-3zM1522 783h3v1h-3zM1528 783h3v1h-3zM1534 783h3v1h-3zM1540 783h3v1h-3zM1546 783h3v1h-3zM1552 783h3v1h-3zM1558 783h3v1h-3zM1564 783h3v1h-3zM1570 783h3v1h-3zM1576 783h3v1h-3zM1582 783h3v1h-3zM1588 783h3v1h-3zM1594 783h3v1h-3zM1600 783h3v1h-3zM1606 783h3v1h-3zM1612 783h3v1h-3zM1618 783h3v1h-3zM1624 783h3v1h-3zM1630 783h3v1h-3zM1636 783h3v1h-3zM1642 783h3v1h-3zM1648 783h3v1h-3z" fill="#c0c0c0" shape-rendering="crispEdges"/>
<path d="M-2 834h3v1h-3zM4 834h3v1h-3zM10 834h3v1h-3zM16 834h3v1h-3zM22 834h3v1h-3zM28 834h3v1h-3zM34 834h3v1h-3zM40 834h3v1h-3zM46 834h3v1h-3zM52 834h3v1h-3zM58 834h3v1h-3zM64 834h3v1h-3zM70 834h3v1h-3zM76 834h3v1h-3zM82 834h3v1h-3zM88 834h3v1h-3zM94 834h3v1h-3zM100 834h3v1h-3zM106 834h3v1h-3zM112 834h3v1h-3zM118 834h3v1h-3zM124 834h3v1h-3zM130 834h3v1h-3zM136 834h3v1h-3zM142 834h3v1h-3zM148 834h3v1h-3zM154 834h3v1h-3zM160 834h3v1h-3zM166 834h3v1h-3zM172 834h3v1h-3zM178 834h3v1h-3zM184 834h3v1h-3zM190 834h3v1h-3zM196 834h3v1h-3zM202 834h3v1h-3zM208 834h3v1h-3zM214 834h3v1h-3zM220 834h3v1h-3zM226 834h3v1h-3zM232 834h3v1h-3zM238 834h3v1h-3zM244 834h3v1h-3zM250 834h3v1h-3zM256 834h3v1h-3zM262 834h3v1h-3zM268 834h3v1h-3zM274 834h3v1h-3zM280 834h3v1h-3zM286 834h3v1h-3zM292 834h3v1h-3zM298 834h3v1h-3zM304 834h3v1h-3zM310 834h3v1h-3zM316 834h3v1h-3zM322 834h3v1h-3zM328 834h3v1h-3zM334 834h3v1h-3zM340 834h3v1h-3zM346 834h3v1h-3zM352 834h3v1h-3zM358 834h3v1h-3zM364 834h3v1h-3zM370 834h3v1h-3zM376 834h3v1h-3zM382 834h3v1h-3zM388 834h3v1h-3zM394 834h3v1h-3zM400 834h3v1h-3zM406 834h3v1h-3zM412 834h3v1h-3zM418 834h3v1h-3zM424 834h3v1h-3zM430 834h3v1h-3zM436 834h3v1h-3zM442 834h3v1h-3zM448 834h3v1h-3zM454 834h3v1h-3zM460 834h3v1h-3zM466 834h3v1h-3zM472 834h3v1h-3zM478 834h3v1h-3zM484 834h3v1h-3zM490 834h3v1h-3zM496 834h3v1h-3zM502 834h3v1h-3zM508 834h3v1h-3zM514 834h3v1h-3zM520 834h3v1h-3zM526 834h3v1h-3zM532 834h3v1h-3zM538 834h3v1h-3zM544 834h3v1h-3zM550 834h3v1h-3zM556 834h3v1h-3zM562 834h3v1h-3zM568 834h3v1h-3zM574 834h3v1h-3zM580 834h3v1h-3zM586 834h3v1h-3zM592 834h3v1h-3zM598 834h3v1h-3zM604 834h3v1h-3zM610 834h3v1h-3zM616 834h3v1h-3zM622 834h3v1h-3zM628 834h3v1h-3zM634 834h3v1h-3zM640 834h3v1h-3zM646 834h3v1h-3zM652 834h3v1h-3zM658 834h3v1h-3zM664 834h3v1h-3zM670 834h3v1h-3zM676 834h3v1h-3zM682 834h3v1h-3zM688 834h3v1h-3zM694 834h3v1h-3zM700 834h3v1h-3zM706 834h3v1h-3zM712 834h3v1h-3zM718 834h3v1h-3zM724 834h3v1h-3zM730 834h3v1h-3zM736 834h3v1h-3zM742 834h3v1h-3zM748 834h3v1h-3zM754 834h3v1h-3zM760 834h3v1h-3zM766 834h3v1h-3zM772 834h3v1h-3zM778 834h3v1h-3zM784 834h3v1h-3zM790 834h3v1h-3zM796 834h3v1h-3zM802 834h3v1h-3zM808 834h3v1h-3zM814 834h3v1h-3zM820 834h3v1h-3zM826 834h3v1h-3zM832 834h3v1h-3zM838 834h3v1h-3zM844 834h3v1h-3zM850 834h3v1h-3zM856 834h3v1h-3zM862 834h3v1h-3zM868 834h3v1h-3zM874 834h3v1h-3zM880 834h3v1h-3zM886 834h3v1h-3zM892 834h3v1h-3zM898 834h3v1h-3zM904 834h3v1h-3zM910 834h3v1h-3zM916 834h3v1h-3zM922 834h3v1h-3zM928 834h3v1h-3zM934 834h3v1h-3zM940 834h3v1h-3zM946 834h3v1h-3zM952 834h3v1h-3zM958 834h3v1h-3zM964 834h3v1h-3zM970 834h3v1h-3zM976 834h3v1h-3zM982 834h3v1h-3zM988 834h3v1h-3zM994 834h3v1h-3zM1000 834h3v1h-3zM1006 834h3v1h-3zM1012 834h3v1h-3zM1018 834h3v1h-3zM1024 834h3v1h-3zM1030 834h3v1h-3zM1036 834h3v1h-3zM1042 834h3v1h-3zM1048 834h3v1h-3zM1054 834h3v1h-3zM1060 834h3v1h-3zM1066 834h3v1h-3zM1072 834h3v1h-3zM1078 834h3v1h-3zM1084 834h3v1h-3zM1090 834h3v1h-3zM1096 834h3v1h-3zM1102 834h3v1h-3zM1108 834h3v1h-3zM1114 834h3v1h-3zM1120 834h3v1h-3zM1126 834h3v1h-3zM1132 834h3v1h-3zM1138 834h3v1h-3zM1144 834h3v1h-3zM1150 834h3v1h-3zM1156 834h3v1h-3zM1162 834h3v1h-3zM1168 834h3v1h-3zM1174 834h3v1h-3zM1180 834h3v1h-3zM1186 834h3v1h-3zM1192 834h3v1h-3zM1198 834h3v1h-3zM1204 834h3v1h-3zM1210 834h3v1h-3zM1216 834h3v1h-3zM1222 834h3v1h-3zM1228 834h3v1h-3zM1234 834h3v1h-3zM1240 834h3v1h-3zM1246 834h3v1h-3zM1252 834h3v1h-3zM1258 834h3v1h-3zM1264 834h3v1h-3zM1270 834h3v1h-3zM1276 834h3v1h-3zM1282 834h3v1h-3zM1288 834h3v1h-3zM1294 834h3v1h-3zM1300 834h3v1h-3zM1306 834h3v1h-3zM1312 834h3v1h-3zM1318 834h3v1h-3zM1324 834h3v1h-3zM1330 834h3v1h-3zM1336 834h3v1h-3zM1342 834h3v1h-3zM1348 834h3v1h-3zM1354 834h3v1h-3zM1360 834h3v1h-3zM1366 834h3v1h-3zM1372 834h3v1h-3zM1378 834h3v1h-3zM1384 834h3v1h-3zM1390 834h3v1h-3zM1396 834h3v1h-3zM1402 834h3v1h-3zM1408 834h3v1h-3zM1414 834h3v1h-3zM1420 834h3v1h-3zM1426 834h3v1h-3zM1432 834h3v1h-3zM1438 834h3v1h-3zM1444 834h3v1h-3zM1450 834h3v1h-3zM1456 834h3v1h-3zM1462 834h3v1h-3zM1468 834h3v1h-3zM1474 834h3v1h-3zM1480 834h3v1h-3zM1486 834h3v1h-3zM1492 834h3v1h-3zM1498 834h3v1h-3zM1504 834h3v1h-3zM1510 834h3v1h-3zM1516 834h3v1h-3zM1522 834h3v1h-3zM1528 834h3v1h-3zM1534 834h3v1h-3zM1540 834h3v1h-3zM1546 834h3v1h-3zM1552 834h3v1h-3zM1558 834h3v1h-3zM1564 834h3v1h-3zM1570 834h3v1h-3zM1576 834h3v1h-3zM1582 834h3v1h-3zM1588 834h3v1h-3zM1594 834h3v1h-3zM1600 834h3v1h-3zM1606 834h3v1h-3zM1612 834h3v1h-3zM1618 834h3v1h-3zM1624 834h3v1h-3zM1630 834h3v1h-3zM1636 834h3v1h-3zM1642 834h3v1h-3zM1648 834h3v1h-3z" fill="#c0c0c0" shape-rendering="crispEdges"/>
<path d="M-2 895h3v1h-3zM4 895h3v1h-3zM10 895h3v1h-3zM16 895h3v1h-3zM22 895h3v1h-3zM28 895h3v1h-3zM34 895h3v1h-3zM40 895h3v1h-3zM46 895h3v1h-3zM52 895h3v1h-3zM58 895h3v1h-3zM64 895h3v1h-3zM70 895h3v1h-3zM76 895h3v1h-3zM82 895h3v1h-3zM88 895h3v1h-3zM94 895h3v1h-3zM100 895h3v1h-3zM106 895h3v1h-3zM112 895h3v1h-3zM118 895h3v1h-3zM124 895h3v1h-3zM130 895h3v1h-3zM136 895h3v1h-3zM142 895h3v1h-3zM148 895h3v1h-3zM154 895h3v1h-3zM160 895h3v1h-3zM166 895h3v1h-3zM172 895h3v1h-3zM178 895h3v1h-3zM184 895h3v1h-3zM190 895h3v1h-3zM196 895h3v1h-3zM202 895h3v1h-3zM208 895h3v1h-3zM214 895h3v1h-3zM220 895h3v1h-3zM226 895h3v1h-3zM232 895h3v1h-3zM238 895h3v1h-3zM244 895h3v1h-3zM250 895h3v1h-3zM256 895h3v1h-3zM262 895h3v1h-3zM268 895h3v1h-3zM274 895h3v1h-3zM280 895h3v1h-3zM286 895h3v1h-3zM292 895h3v1h-3zM298 895h3v1h-3zM304 895h3v1h-3zM310 895h3v1h-3zM316 895h3v1h-3zM322 895h3v1h-3zM328 895h3v1h-3zM334 895h3v1h-3zM340 895h3v1h-3zM346 895h3v1h-3zM352 895h3v1h-3zM358 895h3v1h-3zM364 895h3v1h-3zM370 895h3v1h-3zM376 895h3v1h-3zM382 895h3v1h-3zM388 895h3v1h-3zM394 895h3v1h-3zM400 895h3v1h-3zM406 895h3v1h-3zM412 895h3v1h-3zM418 895h3v1h-3zM424 895h3v1h-3zM430 895h3v1h-3zM436 895h3v1h-3zM442 895h3v1h-3zM448 895h3v1h-3zM454 895h3v1h-3zM460 895h3v1h-3zM466 895h3v1h-3zM472 895h3v1h-3zM478 895h3v1h-3zM484 895h3v1h-3zM490 895h3v1h-3zM496 895h3v1h-3zM502 895h3v1h-3zM508 895h3v1h-3zM514 895h3v1h-3zM520 895h3v1h-3zM526 895h3v1h-3zM532 895h3v1h-3zM538 895h3v1h-3zM544 895h3v1h-3zM550 895h3v1h-3zM556 895h3v1h-3zM562 895h3v1h-3zM568 895h3v1h-3zM574 895h3v1h-3zM580 895h3v1h-3zM586 895h3v1h-3zM592 895h3v1h-3zM598 895h3v1h-3zM604 895h3v1h-3zM610 895h3v1h-3zM616 895h3v1h-3zM622 895h3v1h-3zM628 895h3v1h-3zM634 895h3v1h-3zM640 895h3v1h-3zM646 895h3v1h-3zM652 895h3v1h-3zM658 895h3v1h-3zM664 895h3v1h-3zM670 895h3v1h-3zM676 895h3v1h-3zM682 895h3v1h-3zM688 895h3v1h-3zM694 895h3v1h-3zM700 895h3v1h-3zM706 895h3v1h-3zM712 895h3v1h-3zM718 895h3v1h-3zM724 895h3v1h-3zM730 895h3v1h-3zM736 895h3v1h-3zM742 895h3v1h-3zM748 895h3v1h-3zM754 895h3v1h-3zM760 895h3v1h-3zM766 895h3v1h-3zM772 895h3v1h-3zM778 895h3v1h-3zM784 895h3v1h-3zM790 895h3v1h-3zM796 895h3v1h-3zM802 895h3v1h-3zM808 895h3v1h-3zM814 895h3v1h-3zM820 895h3v1h-3zM826 895h3v1h-3zM832 895h3v1h-3zM838 895h3v1h-3zM844 895h3v1h-3zM850 895h3v1h-3zM856 895h3v1h-3zM862 895h3v1h-3zM868 895h3v1h-3zM874 895h3v1h-3zM880 895h3v1h-3zM886 895h3v1h-3zM892 895h3v1h-3zM898 895h3v1h-3zM904 895h3v1h-3zM910 895h3v1h-3zM916 895h3v1h-3zM922 895h3v1h-3zM928 895h3v1h-3zM934 895h3v1h-3zM940 895h3v1h-3zM946 895h3v1h-3zM952 895h3v1h-3zM958 895h3v1h-3zM964 895h3v1h-3zM970 895h3v1h-3zM976 895h3v1h-3zM982 895h3v1h-3zM988 895h3v1h-3zM994 895h3v1h-3zM1000 895h3v1h-3zM1006 895h3v1h-3zM1012 895h3v1h-3zM1018 895h3v1h-3zM1024 895h3v1h-3zM1030 895h3v1h-3zM1036 895h3v1h-3zM1042 895h3v1h-3zM1048 895h3v1h-3zM1054 895h3v1h-3zM1060 895h3v1h-3zM1066 895h3v1h-3zM1072 895h3v1h-3zM1078 895h3v1h-3zM1084 895h3v1h-3zM1090 895h3v1h-3zM1096 895h3v1h-3zM1102 895h3v1h-3zM1108 895h3v1h-3zM1114 895h3v1h-3zM1120 895h3v1h-3zM1126 895h3v1h-3zM1132 895h3v1h-3zM1138 895h3v1h-3zM1144 895h3v1h-3zM1150 895h3v1h-3zM1156 895h3v1h-3zM1162 895h3v1h-3zM1168 895h3v1h-3zM1174 895h3v1h-3zM1180 895h3v1h-3zM1186 895h3v1h-3zM1192 895h3v1h-3zM1198 895h3v1h-3zM1204 895h3v1h-3zM1210 895h3v1h-3zM1216 895h3v1h-3zM1222 895h3v1h-3zM1228 895h3v1h-3zM1234 895h3v1h-3zM1240 895h3v1h-3zM1246 895h3v1h-3zM1252 895h3v1h-3zM1258 895h3v1h-3zM1264 895h3v1h-3zM1270 895h3v1h-3zM1276 895h3v1h-3zM1282 895h3v1h-3zM1288 895h3v1h-3zM1294 895h3v1h-3zM1300 895h3v1h-3zM1306 895h3v1h-3zM1312 895h3v1h-3zM1318 895h3v1h-3zM1324 895h3v1h-3zM1330 895h3v1h-3zM1336 895h3v1h-3zM1342 895h3v1h-3zM1348 895h3v1h-3zM1354 895h3v1h-3zM1360 895h3v1h-3zM1366 895h3v1h-3zM1372 895h3v1h-3zM1378 895h3v1h-3zM1384 895h3v1h-3zM1390 895h3v1h-3zM1396 895h3v1h-3zM1402 895h3v1h-3zM1408 895h3v1h-3zM1414 895h3v1h-3zM1420 895h3v1h-3zM1426 895h3v1h-3zM1432 895h3v1h-3zM1438 895h3v1h-3zM1444 895h3v1h-3zM1450 895h3v1h-3zM1456 895h3v1h-3zM1462 895h3v1h-3zM1468 895h3v1h-3zM1474 895h3v1h-3zM1480 895h3v1h-3zM1486 895h3v1h-3zM1492 895h3v1h-3zM1498 895h3v1h-3zM1504 895h3v1h-3zM1510 895h3v1h-3zM1516 895h3v1h-3zM1522 895h3v1h-3zM1528 895h3v1h-3zM1534 895h3v1h-3zM1540 895h3v1h-3zM1546 895h3v1h-3zM1552 895h3v1h-3zM1558 895h3v1h-3zM1564 895h3v1h-3zM1570 895h3v1h-3zM1576 895h3v1h-3zM1582 895h3v1h-3zM1588 895h3v1h-3zM1594 895h3v1h-3zM1600 895h3v1h-3zM1606 895h3v1h-3zM1612 895h3v1h-3zM1618 895h3v1h-3zM1624 895h3v1h-3zM1630 895h3v1h-3zM1636 895h3v1h-3zM1642 895h3v1h-3zM1648 895h3v1h-3z" fill="#c0c0c0" shape-rendering="crispEdges"/>
<path d="M0 853h1v2h-1zM3 857h1v2h-1zM6 861h1v2h-1zM39 851h1v2h-1zM40 848h1v3h-1zM41 846h1v2h-1zM42 843h1v3h-1zM43 840h1v3h-1zM44 837h1v3h-1zM45 835h1v2h-1zM46 832h1v3h-1zM47 830h1v2h-1zM89 829h1v2h-1zM93 834h1v2h-1zM112 841h1v2h-1zM114 844h1v2h-1zM116 847h1v2h-1zM118 850h1v2h-1zM136 864h1v2h-1zM137 866h1v2h-1zM138 868h1v2h-1zM140 871h1v2h-1zM141 873h1v2h-1zM142 875h1v2h-1zM163 870h1v2h-1zM175 869h1v2h-1zM176 867h1v2h-1zM177 865h1v2h-1zM178 863h1v2h-1zM179 860h1v3h-1zM180 858h1v2h-1zM181 856h1v2h-1zM182 854h1v2h-1zM183 852h1v2h-1zM281 885h1v2h-1zM285 880h1v2h-1zM303 876h1v2h-1zM304 874h1v2h-1zM305 872h1v2h-1zM306 870h1v2h-1zM307 868h1v2h-1zM308 866h1v2h-1zM309 864h1v2h-1zM310 862h1v2h-1zM311 860h1v2h-1zM319 859h1v2h-1zM320 857h1v2h-1zM321 855h1v2h-1zM322 852h1v3h-1zM323 850h1v2h-1zM324 847h1v3h-1zM325 845h1v2h-1zM326 843h1v2h-1zM327 841h1v2h-1zM328 839h1v2h-1zM329 837h1v2h-1zM330 835h1v2h-1zM332 832h1v2h-1zM333 830h1v2h-1zM334 828h1v2h-1zM431 826h1v2h-1zM432 824h1v2h-1zM433 822h1v2h-1zM434 820h1v2h-1zM435 817h1v3h-1zM436 815h1v2h-1zM437 813h1v2h-1zM438 811h1v2h-1zM439 809h1v2h-1zM449 809h1v2h-1zM453 814h1v2h-1zM472 829h1v2h-1zM473 831h1v2h-1zM475 834h1v2h-1zM477 837h1v2h-1zM478 839h1v2h-1zM504 846h1v2h-1zM506 843h1v2h-1zM508 840h1v2h-1zM510 837h1v2h-1zM519 832h1v2h-1zM520 829h1v3h-1zM521 827h1v2h-1zM522 824h1v3h-1zM523 821h1v3h-1zM524 818h1v3h-1zM525 816h1v2h-1zM526 813h1v3h-1zM527 811h1v2h-1zM595 815h1v2h-1zM615 805h1v2h-1zM616 807h1v4h-1zM617 811h1v4h-1zM618 815h1v4h-1zM619 819h1v3h-1zM620 822h1v4h-1zM621 826h1v4h-1zM622 830h1v4h-1zM623 834h1v2h-1zM643 836h1v2h-1zM648 839h1v2h-1zM651 835h1v2h-1zM654 831h1v2h-1zM664 828h1v2h-1zM665 826h1v2h-1zM666 824h1v2h-1zM667 822h1v2h-1zM668 820h1v2h-1zM669 818h1v2h-1zM670 816h1v2h-1zM671 814h1v2h-1zM672 815h1v2h-1zM674 818h1v2h-1zM676 821h1v2h-1zM678 824h1v2h-1zM712 814h1v2h-1zM713 812h1v2h-1zM715 809h1v2h-1zM717 806h1v2h-1zM718 804h1v2h-1zM761 802h1v2h-1zM765 797h1v2h-1zM776 792h1v2h-1zM777 794h1v2h-1zM778 796h1v2h-1zM779 798h1v2h-1zM780 800h1v2h-1zM781 802h1v2h-1zM782 804h1v2h-1zM808 816h1v2h-1zM810 819h1v2h-1zM812 822h1v2h-1zM814 825h1v2h-1zM841 819h1v2h-1zM845 824h1v2h-1zM847 827h1v2h-1zM848 829h1v3h-1zM849 832h1v4h-1zM850 836h1v3h-1zM851 839h1v3h-1zM852 842h1v3h-1zM853 845h1v4h-1zM854 849h1v3h-1zM855 852h1v2h-1zM936 851h1v2h-1zM937 849h1v2h-1zM938 847h1v2h-1zM939 845h1v2h-1zM940 843h1v2h-1zM941 841h1v2h-1zM942 839h1v2h-1zM943 837h1v2h-1zM944 834h1v3h-1zM945 832h1v2h-1zM946 829h1v3h-1zM947 826h1v3h-1zM948 823h1v3h-1zM949 821h1v2h-1zM950 818h1v3h-1zM951 816h1v2h-1zM963 814h1v2h-1zM999 803h1v2h-1zM1000 805h1v2h-1zM1001 807h1v3h-1zM1002 810h1v3h-1zM1003 813h1v2h-1zM1004 815h1v3h-1zM1005 818h1v3h-1zM1006 821h1v2h-1zM1007 823h1v2h-1zM1032 828h1v2h-1zM1035 832h1v2h-1zM1038 836h1v2h-1zM1080 823h1v2h-1zM1082 820h1v2h-1zM1084 817h1v2h-1zM1086 814h1v2h-1zM1088 814h1v2h-1zM1089 816h1v2h-1zM1091 819h1v2h-1zM1093 822h1v2h-1zM1094 824h1v2h-1zM1104 830h1v2h-1zM1105 832h1v2h-1zM1106 834h1v2h-1zM1107 836h1v2h-1zM1108 838h1v2h-1zM1109 840h1v2h-1zM1110 842h1v2h-1zM1111 844h1v2h-1zM1129 843h1v2h-1zM1133 838h1v2h-1zM1191 831h1v2h-1zM1192 833h1v3h-1zM1193 836h1v3h-1zM1194 839h1v3h-1zM1195 842h1v2h-1zM1196 844h1v3h-1zM1197 847h1v3h-1zM1198 850h1v3h-1zM1199 853h1v2h-1zM1240 847h1v2h-1zM1241 849h1v2h-1zM1242 851h1v2h-1zM1243 853h1v2h-1zM1244 855h1v2h-1zM1245 857h1v2h-1zM1246 859h1v2h-1zM1323 869h1v2h-1zM1383 874h1v2h-1zM1384 872h1v2h-1zM1385 869h1v3h-1zM1386 867h1v2h-1zM1387 864h1v3h-1zM1388 862h1v2h-1zM1389 859h1v3h-1zM1390 857h1v2h-1zM1391 855h1v2h-1zM1392 856h1v2h-1zM1393 858h1v2h-1zM1394 860h1v2h-1zM1395 862h1v2h-1zM1396 864h1v2h-1zM1397 866h1v2h-1zM1398 868h1v2h-1zM1399 870h1v2h-1zM1408 869h1v2h-1zM1409 867h1v2h-1zM1410 865h1v2h-1zM1411 863h1v2h-1zM1412 861h1v2h-1zM1413 859h1v2h-1zM1414 857h1v2h-1zM1423 847h1v2h-1zM1424 844h1v3h-1zM1425 841h1v3h-1zM1426 838h1v3h-1zM1427 835h1v3h-1zM1428 832h1v3h-1zM1429 829h1v3h-1zM1430 826h1v3h-1zM1431 824h1v2h-1zM774 791h2v1h-2zM772 792h2v1h-2zM770 793h2v1h-2zM768 794h2v1h-2zM767 795h1v1h-1zM766 796h1v1h-1zM726 799h11v1h-11zM764 799h1v1h-1zM724 800h2v1h-2zM737 800h4v1h-4zM763 800h1v1h-1zM722 801h2v1h-2zM741 801h3v1h-3zM762 801h1v1h-1zM720 802h2v1h-2zM744 802h1v1h-1zM719 803h1v1h-1zM745 803h1v1h-1zM998 803h1v1h-1zM746 804h1v1h-1zM760 804h1v1h-1zM996 804h2v1h-2zM613 805h2v1h-2zM747 805h2v1h-2zM758 805h2v1h-2zM994 805h2v1h-2zM609 806h4v1h-4zM749 806h1v1h-1zM755 806h3v1h-3zM783 806h1v1h-1zM992 806h2v1h-2zM445 807h3v1h-3zM606 807h3v1h-3zM750 807h1v1h-1zM753 807h2v1h-2zM784 807h2v1h-2zM991 807h1v1h-1zM441 808h4v1h-4zM448 808h1v1h-1zM604 808h2v1h-2zM716 808h1v1h-1zM751 808h2v1h-2zM786 808h2v1h-2zM990 808h1v1h-1zM440 809h1v1h-1zM602 809h2v1h-2zM788 809h2v1h-2zM989 809h1v1h-1zM600 810h2v1h-2zM790 810h2v1h-2zM959 810h1v1h-1zM987 810h2v1h-2zM450 811h1v1h-1zM528 811h8v1h-8zM599 811h1v1h-1zM714 811h1v1h-1zM792 811h1v1h-1zM957 811h2v1h-2zM960 811h1v1h-1zM986 811h1v1h-1zM451 812h1v1h-1zM536 812h2v1h-2zM550 812h5v1h-5zM598 812h1v1h-1zM793 812h1v1h-1zM956 812h1v1h-1zM961 812h1v1h-1zM985 812h1v1h-1zM452 813h1v1h-1zM538 813h2v1h-2zM547 813h3v1h-3zM555 813h5v1h-5zM597 813h1v1h-1zM794 813h1v1h-1zM955 813h1v1h-1zM962 813h1v1h-1zM984 813h1v1h-1zM1087 813h1v1h-1zM540 814h2v1h-2zM545 814h2v1h-2zM560 814h1v1h-1zM596 814h1v1h-1zM795 814h1v1h-1zM953 814h2v1h-2zM983 814h1v1h-1zM542 815h3v1h-3zM561 815h2v1h-2zM796 815h1v1h-1zM806 815h2v1h-2zM952 815h1v1h-1zM981 815h2v1h-2zM454 816h1v1h-1zM563 816h1v1h-1zM707 816h5v1h-5zM797 816h1v1h-1zM803 816h3v1h-3zM964 816h1v1h-1zM979 816h2v1h-2zM1085 816h1v1h-1zM1439 816h1v1h-1zM455 817h2v1h-2zM564 817h1v1h-1zM594 817h1v1h-1zM673 817h1v1h-1zM703 817h4v1h-4zM798 817h1v1h-1zM801 817h2v1h-2zM838 817h2v1h-2zM965 817h1v1h-1zM978 817h1v1h-1zM1438 817h1v1h-1zM1440 817h1v1h-1zM457 818h2v1h-2zM565 818h2v1h-2zM593 818h1v1h-1zM702 818h1v1h-1zM799 818h2v1h-2zM809 818h1v1h-1zM836 818h2v1h-2zM840 818h1v1h-1zM966 818h1v1h-1zM976 818h2v1h-2zM1090 818h1v1h-1zM1437 818h1v1h-1zM1441 818h1v1h-1zM459 819h3v1h-3zM567 819h2v1h-2zM581 819h6v1h-6zM592 819h1v1h-1zM701 819h1v1h-1zM834 819h2v1h-2zM967 819h9v1h-9zM1083 819h1v1h-1zM1436 819h1v1h-1zM1442 819h1v1h-1zM462 820h2v1h-2zM569 820h4v1h-4zM577 820h4v1h-4zM587 820h5v1h-5zM675 820h1v1h-1zM699 820h2v1h-2zM832 820h2v1h-2zM1435 820h1v1h-1zM1443 820h1v1h-1zM391 821h1v1h-1zM464 821h1v1h-1zM573 821h4v1h-4zM698 821h1v1h-1zM811 821h1v1h-1zM830 821h2v1h-2zM842 821h1v1h-1zM1092 821h1v1h-1zM1434 821h1v1h-1zM1444 821h1v1h-1zM343 822h2v1h-2zM390 822h1v1h-1zM392 822h2v1h-2zM465 822h1v1h-1zM697 822h1v1h-1zM827 822h3v1h-3zM843 822h1v1h-1zM1081 822h1v1h-1zM1433 822h1v1h-1zM1445 822h1v1h-1zM341 823h2v1h-2zM345 823h2v1h-2zM389 823h1v1h-1zM394 823h1v1h-1zM466 823h1v1h-1zM677 823h1v1h-1zM696 823h1v1h-1zM825 823h2v1h-2zM844 823h1v1h-1zM1432 823h1v1h-1zM1446 823h1v1h-1zM55 824h1v1h-1zM339 824h2v1h-2zM347 824h3v1h-3zM388 824h1v1h-1zM395 824h2v1h-2zM467 824h1v1h-1zM691 824h5v1h-5zM813 824h1v1h-1zM822 824h3v1h-3zM1008 824h9v1h-9zM1447 824h4v1h-4zM53 825h2v1h-2zM56 825h2v1h-2zM338 825h1v1h-1zM350 825h3v1h-3zM387 825h1v1h-1zM397 825h2v1h-2zM468 825h1v1h-1zM683 825h8v1h-8zM819 825h3v1h-3zM1017 825h2v1h-2zM1078 825h2v1h-2zM1451 825h13v1h-13zM52 826h1v1h-1zM58 826h2v1h-2zM336 826h2v1h-2zM353 826h2v1h-2zM373 826h4v1h-4zM386 826h1v1h-1zM399 826h2v1h-2zM469 826h1v1h-1zM679 826h4v1h-4zM817 826h2v1h-2zM846 826h1v1h-1zM1019 826h3v1h-3zM1055 826h1v1h-1zM1076 826h2v1h-2zM1095 826h2v1h-2zM1163 826h5v1h-5zM51 827h1v1h-1zM60 827h2v1h-2zM87 827h1v1h-1zM335 827h1v1h-1zM355 827h3v1h-3zM369 827h4v1h-4zM377 827h2v1h-2zM385 827h1v1h-1zM401 827h2v1h-2zM430 827h1v1h-1zM470 827h1v1h-1zM815 827h2v1h-2zM1022 827h10v1h-10zM1054 827h1v1h-1zM1056 827h2v1h-2zM1074 827h2v1h-2zM1097 827h2v1h-2zM1159 827h4v1h-4zM1168 827h1v1h-1zM49 828h2v1h-2zM62 828h2v1h-2zM85 828h2v1h-2zM88 828h1v1h-1zM358 828h11v1h-11zM379 828h3v1h-3zM384 828h1v1h-1zM403 828h3v1h-3zM428 828h2v1h-2zM471 828h1v1h-1zM1053 828h1v1h-1zM1058 828h2v1h-2zM1072 828h2v1h-2zM1099 828h3v1h-3zM1157 828h2v1h-2zM1169 828h1v1h-1zM48 829h1v1h-1zM64 829h1v1h-1zM84 829h1v1h-1zM382 829h2v1h-2zM406 829h11v1h-11zM426 829h2v1h-2zM1052 829h1v1h-1zM1060 829h2v1h-2zM1067 829h5v1h-5zM1102 829h2v1h-2zM1155 829h2v1h-2zM1170 829h1v1h-1zM65 830h2v1h-2zM83 830h1v1h-1zM417 830h4v1h-4zM424 830h2v1h-2zM655 830h9v1h-9zM1033 830h1v1h-1zM1051 830h1v1h-1zM1062 830h5v1h-5zM1154 830h1v1h-1zM1171 830h2v1h-2zM67 831h1v1h-1zM81 831h2v1h-2zM90 831h1v1h-1zM421 831h3v1h-3zM1034 831h1v1h-1zM1050 831h1v1h-1zM1152 831h2v1h-2zM1173 831h1v1h-1zM68 832h1v1h-1zM80 832h1v1h-1zM91 832h1v1h-1zM638 832h2v1h-2zM1049 832h1v1h-1zM1151 832h1v1h-1zM1174 832h1v1h-1zM1190 832h1v1h-1zM69 833h2v1h-2zM75 833h5v1h-5zM92 833h1v1h-1zM474 833h1v1h-1zM518 833h1v1h-1zM635 833h3v1h-3zM640 833h1v1h-1zM653 833h1v1h-1zM1048 833h1v1h-1zM1149 833h2v1h-2zM1175 833h1v1h-1zM1189 833h1v1h-1zM71 834h4v1h-4zM331 834h1v1h-1zM515 834h3v1h-3zM633 834h2v1h-2zM641 834h1v1h-1zM652 834h1v1h-1zM1036 834h1v1h-1zM1046 834h2v1h-2zM1147 834h2v1h-2zM1176 834h1v1h-1zM1188 834h1v1h-1zM513 835h2v1h-2zM624 835h9v1h-9zM642 835h1v1h-1zM1037 835h1v1h-1zM1044 835h2v1h-2zM1146 835h1v1h-1zM1177 835h2v1h-2zM1187 835h1v1h-1zM94 836h1v1h-1zM476 836h1v1h-1zM511 836h2v1h-2zM1042 836h2v1h-2zM1135 836h4v1h-4zM1144 836h2v1h-2zM1179 836h1v1h-1zM1186 836h1v1h-1zM95 837h1v1h-1zM650 837h1v1h-1zM1040 837h2v1h-2zM1134 837h1v1h-1zM1139 837h5v1h-5zM1180 837h1v1h-1zM1185 837h1v1h-1zM96 838h2v1h-2zM644 838h1v1h-1zM649 838h1v1h-1zM1039 838h1v1h-1zM1181 838h2v1h-2zM1184 838h1v1h-1zM98 839h2v1h-2zM509 839h1v1h-1zM645 839h1v1h-1zM1183 839h1v1h-1zM100 840h2v1h-2zM107 840h5v1h-5zM646 840h1v1h-1zM1132 840h1v1h-1zM102 841h5v1h-5zM479 841h1v1h-1zM647 841h1v1h-1zM1131 841h1v1h-1zM480 842h2v1h-2zM507 842h1v1h-1zM1130 842h1v1h-1zM113 843h1v1h-1zM482 843h1v1h-1zM483 844h2v1h-2zM485 845h2v1h-2zM505 845h1v1h-1zM863 845h2v1h-2zM1112 845h11v1h-11zM1128 845h1v1h-1zM115 846h1v1h-1zM487 846h10v1h-10zM862 846h1v1h-1zM865 846h2v1h-2zM1123 846h5v1h-5zM1238 846h2v1h-2zM497 847h4v1h-4zM861 847h1v1h-1zM867 847h3v1h-3zM1213 847h12v1h-12zM1235 847h3v1h-3zM501 848h3v1h-3zM860 848h1v1h-1zM870 848h5v1h-5zM919 848h2v1h-2zM1209 848h4v1h-4zM1225 848h4v1h-4zM1233 848h2v1h-2zM117 849h1v1h-1zM859 849h1v1h-1zM875 849h13v1h-13zM918 849h1v1h-1zM921 849h2v1h-2zM1207 849h2v1h-2zM1229 849h4v1h-4zM1422 849h1v1h-1zM858 850h1v1h-1zM888 850h1v1h-1zM917 850h1v1h-1zM923 850h3v1h-3zM1205 850h2v1h-2zM1421 850h1v1h-1zM857 851h1v1h-1zM889 851h2v1h-2zM915 851h2v1h-2zM926 851h3v1h-3zM1203 851h2v1h-2zM1420 851h1v1h-1zM-1 852h1v1h-1zM119 852h1v1h-1zM856 852h1v1h-1zM891 852h1v1h-1zM914 852h1v1h-1zM929 852h4v1h-4zM1202 852h1v1h-1zM1419 852h1v1h-1zM38 853h1v1h-1zM120 853h1v1h-1zM184 853h1v1h-1zM892 853h1v1h-1zM901 853h4v1h-4zM913 853h1v1h-1zM933 853h3v1h-3zM1200 853h2v1h-2zM1418 853h1v1h-1zM37 854h1v1h-1zM121 854h1v1h-1zM185 854h1v1h-1zM199 854h1v1h-1zM893 854h2v1h-2zM897 854h4v1h-4zM905 854h4v1h-4zM912 854h1v1h-1zM1417 854h1v1h-1zM1 855h1v1h-1zM36 855h1v1h-1zM122 855h1v1h-1zM186 855h1v1h-1zM197 855h2v1h-2zM200 855h2v1h-2zM895 855h2v1h-2zM909 855h3v1h-3zM1416 855h1v1h-1zM2 856h1v1h-1zM35 856h1v1h-1zM123 856h2v1h-2zM187 856h1v1h-1zM196 856h1v1h-1zM202 856h1v1h-1zM1415 856h1v1h-1zM21 857h4v1h-4zM34 857h1v1h-1zM125 857h1v1h-1zM188 857h1v1h-1zM195 857h1v1h-1zM203 857h2v1h-2zM17 858h4v1h-4zM25 858h2v1h-2zM33 858h1v1h-1zM126 858h1v1h-1zM189 858h1v1h-1zM193 858h2v1h-2zM205 858h2v1h-2zM4 859h1v1h-1zM14 859h3v1h-3zM27 859h3v1h-3zM32 859h1v1h-1zM127 859h1v1h-1zM190 859h1v1h-1zM192 859h1v1h-1zM207 859h1v1h-1zM5 860h1v1h-1zM12 860h2v1h-2zM30 860h2v1h-2zM128 860h2v1h-2zM191 860h1v1h-1zM208 860h1v1h-1zM312 860h7v1h-7zM10 861h2v1h-2zM130 861h2v1h-2zM209 861h1v1h-1zM1247 861h1v1h-1zM8 862h2v1h-2zM132 862h2v1h-2zM210 862h1v1h-1zM1248 862h2v1h-2zM7 863h1v1h-1zM134 863h2v1h-2zM211 863h2v1h-2zM1250 863h1v1h-1zM213 864h1v1h-1zM1251 864h2v1h-2zM214 865h1v1h-1zM1253 865h2v1h-2zM1327 865h4v1h-4zM167 866h1v1h-1zM215 866h1v1h-1zM1255 866h2v1h-2zM1326 866h1v1h-1zM1331 866h5v1h-5zM166 867h1v1h-1zM168 867h2v1h-2zM216 867h1v1h-1zM1257 867h2v1h-2zM1325 867h1v1h-1zM1336 867h2v1h-2zM165 868h1v1h-1zM170 868h2v1h-2zM217 868h2v1h-2zM1259 868h3v1h-3zM1324 868h1v1h-1zM1338 868h1v1h-1zM164 869h1v1h-1zM172 869h2v1h-2zM219 869h1v1h-1zM1262 869h2v1h-2zM1339 869h2v1h-2zM139 870h1v1h-1zM174 870h1v1h-1zM220 870h1v1h-1zM1264 870h2v1h-2zM1341 870h2v1h-2zM221 871h2v1h-2zM1266 871h1v1h-1zM1322 871h1v1h-1zM1343 871h10v1h-10zM1400 871h8v1h-8zM162 872h1v1h-1zM223 872h2v1h-2zM1267 872h2v1h-2zM1321 872h1v1h-1zM1353 872h4v1h-4zM161 873h1v1h-1zM225 873h2v1h-2zM1269 873h2v1h-2zM1320 873h1v1h-1zM1357 873h4v1h-4zM160 874h1v1h-1zM227 874h3v1h-3zM1271 874h1v1h-1zM1319 874h1v1h-1zM1361 874h4v1h-4zM155 875h5v1h-5zM230 875h3v1h-3zM1272 875h1v1h-1zM1317 875h2v1h-2zM1365 875h3v1h-3zM1382 875h1v1h-1zM147 876h8v1h-8zM233 876h4v1h-4zM1273 876h1v1h-1zM1315 876h2v1h-2zM1368 876h2v1h-2zM1380 876h2v1h-2zM143 877h4v1h-4zM237 877h3v1h-3zM301 877h2v1h-2zM1274 877h1v1h-1zM1314 877h1v1h-1zM1370 877h2v1h-2zM1378 877h2v1h-2zM240 878h1v1h-1zM287 878h4v1h-4zM297 878h4v1h-4zM1275 878h1v1h-1zM1312 878h2v1h-2zM1372 878h2v1h-2zM1376 878h2v1h-2zM241 879h1v1h-1zM286 879h1v1h-1zM291 879h6v1h-6zM1276 879h1v1h-1zM1303 879h9v1h-9zM1374 879h2v1h-2zM242 880h1v1h-1zM1277 880h1v1h-1zM1301 880h2v1h-2zM243 881h2v1h-2zM1278 881h1v1h-1zM1299 881h2v1h-2zM245 882h1v1h-1zM284 882h1v1h-1zM1279 882h2v1h-2zM1298 882h1v1h-1zM246 883h1v1h-1zM283 883h1v1h-1zM1281 883h4v1h-4zM1296 883h2v1h-2zM247 884h4v1h-4zM282 884h1v1h-1zM1285 884h11v1h-11zM251 885h14v1h-14zM265 886h4v1h-4zM269 887h6v1h-6zM280 887h1v1h-1zM275 888h5v1h-5z" fill="#1e90ff" shape-rendering="crispEdges"/>
<line x1="1402.0" y1="875.5" x2="1437.0" y2="822.6" stroke="#f00" stroke-width="3.5" stroke-linecap="round" shape-rendering="crispEdges"/><polygon points="1441.4,815.9 1440.6,826.2 1432.3,820.7" fill="#f00" shape-rendering="crispEdges"/>
<line x1="1441.0" y1="816.5" x2="1461.6" y2="817.7" stroke="#f00" stroke-width="3.5" stroke-linecap="round" shape-rendering="crispEdges"/><polygon points="1469.6,818.2 1460.3,822.2 1460.9,813.2" fill="#f00" shape-rendering="crispEdges"/>
</g>
<text x="-4" y="759.8" font-size="9.8" fill="#000" textLength="66.5" lengthAdjust="spacingAndGlyphs">RSI(14) 55.6302</text>
<g fill="#000" shape-rendering="crispEdges">
<rect x="0" y="20" width="1650" height="1"/>
<rect x="1649" y="20" width="1" height="902"/>
<rect x="0" y="573" width="1650" height="1"/>
<rect x="0" y="575" width="1650" height="1"/>
<rect x="0" y="745" width="1650" height="1"/>
<rect x="0" y="747" width="1650" height="1"/>
<rect x="0" y="921" width="1650" height="1"/>
</g>
<rect x="1650" y="42" width="2" height="1" fill="#000"/><text x="1655.5" y="45.8" font-size="9" fill="#000">1.39155</text><rect x="1650" y="75" width="2" height="1" fill="#000"/><text x="1655.5" y="78.8" font-size="9" fill="#000">1.38955</text><rect x="1650" y="108" width="2" height="1" fill="#000"/><text x="1655.5" y="111.7" font-size="9" fill="#000">1.38755</text><rect x="1650" y="141" width="2" height="1" fill="#000"/><text x="1655.5" y="144.7" font-size="9" fill="#000">1.38555</text><rect x="1650" y="174" width="2" height="1" fill="#000"/><text x="1655.5" y="177.6" font-size="9" fill="#000">1.38355</text><rect x="1650" y="207" width="2" height="1" fill="#000"/><text x="1655.5" y="210.6" font-size="9" fill="#000">1.38150</text><rect x="1650" y="240" width="2" height="1" fill="#000"/><text x="1655.5" y="243.6" font-size="9" fill="#000">1.37950</text><rect x="1650" y="273" width="2" height="1" fill="#000"/><text x="1655.5" y="276.5" font-size="9" fill="#000">1.37750</text><rect x="1650" y="306" width="2" height="1" fill="#000"/><text x="1655.5" y="309.5" font-size="9" fill="#000">1.37550</text><rect x="1650" y="339" width="2" height="1" fill="#000"/><text x="1655.5" y="342.4" font-size="9" fill="#000">1.37350</text><rect x="1650" y="372" width="2" height="1" fill="#000"/><text x="1655.5" y="375.4" font-size="9" fill="#000">1.37150</text><rect x="1650" y="405" width="2" height="1" fill="#000"/><text x="1655.5" y="408.4" font-size="9" fill="#000">1.36950</text><rect x="1650" y="438" width="2" height="1" fill="#000"/><text x="1655.5" y="441.3" font-size="9" fill="#000">1.36745</text><rect x="1650" y="470" width="2" height="1" fill="#000"/><text x="1655.5" y="474.3" font-size="9" fill="#000">1.36545</text><rect x="1650" y="503" width="2" height="1" fill="#000"/><text x="1655.5" y="507.2" font-size="9" fill="#000">1.36345</text><rect x="1650" y="536" width="2" height="1" fill="#000"/><text x="1655.5" y="540.2" font-size="9" fill="#000">1.36145</text><rect x="1650" y="569" width="2" height="1" fill="#000"/><text x="1655.5" y="573.2" font-size="9" fill="#000">1.35945</text>
<rect x="1651" y="292" width="41" height="11" fill="#ff0000"/>
<text x="1655.5" y="300.9" font-size="9" fill="#fff">1.37599</text>
<rect x="1644.5" y="296.5" width="4" height="4" fill="#fff" stroke="#ff0000" stroke-width="1"/>
<rect x="1651" y="328" width="41" height="11" fill="#ff4500"/>
<text x="1655.5" y="336.9" font-size="9" fill="#fff">1.37380</text>
<rect x="1644.5" y="332.5" width="4" height="4" fill="#fff" stroke="#ff4500" stroke-width="1"/>
<rect x="1651" y="356" width="41" height="11" fill="#000000"/>
<text x="1655.5" y="364.9" font-size="9" fill="#fff">1.37218</text>
<rect x="1651" y="373" width="41" height="11" fill="#32cd32"/>
<text x="1655.5" y="381.9" font-size="9" fill="#fff">1.37107</text>
<rect x="1644.5" y="377.5" width="4" height="4" fill="#fff" stroke="#32cd32" stroke-width="1"/>
<rect x="1651" y="396" width="41" height="11" fill="#0000ff"/>
<text x="1655.5" y="404.9" font-size="9" fill="#fff">1.36968</text>
<rect x="1644.5" y="400.5" width="4" height="4" fill="#fff" stroke="#0000ff" stroke-width="1"/>
<rect x="1651" y="420" width="41" height="11" fill="#0000ff"/>
<text x="1655.5" y="428.9" font-size="9" fill="#fff">1.36818</text>
<rect x="1644.5" y="424.5" width="4" height="4" fill="#fff" stroke="#0000ff" stroke-width="1"/>
<rect x="1650" y="577" width="1" height="1" fill="#000"/>
<text x="1653" y="586" font-size="9" fill="#000">0.003243</text>
<rect x="1650" y="638" width="2" height="1" fill="#000"/>
<text x="1653" y="641.5" font-size="9" fill="#000">0.00</text>
<rect x="1650" y="744" width="1" height="1" fill="#000"/>
<text x="1652.5" y="741.8" font-size="9" fill="#000">-0.005616</text>
<rect x="1650" y="749" width="1" height="1" fill="#000"/>
<text x="1653.8" y="757.8" font-size="9" fill="#000">100</text>
<rect x="1650" y="783" width="2" height="1" fill="#000"/>
<text x="1653.8" y="786.5" font-size="9" fill="#000">80</text>
<rect x="1650" y="834" width="2" height="1" fill="#000"/>
<text x="1653.8" y="837.5" font-size="9" fill="#000">50</text>
<rect x="1650" y="895" width="2" height="1" fill="#000"/>
<text x="1653.8" y="898.5" font-size="9" fill="#000">15</text>
<text x="1653.8" y="918" font-size="9" fill="#000">0</text>
<rect x="-9" y="922" width="1" height="3" fill="#000"/><text x="42.1" y="933.8" font-size="9.2" fill="#000" text-anchor="end">12 Aug 2021</text><rect x="55" y="922" width="1" height="3" fill="#000"/><text x="54.5" y="933.8" font-size="9.2" fill="#000">13 Aug 16:00</text><rect x="119" y="922" width="1" height="3" fill="#000"/><text x="118.5" y="933.8" font-size="9.2" fill="#000">17 Aug 00:00</text><rect x="183" y="922" width="1" height="3" fill="#000"/><text x="182.5" y="933.8" font-size="9.2" fill="#000">18 Aug 08:00</text><rect x="247" y="922" width="1" height="3" fill="#000"/><text x="246.5" y="933.8" font-size="9.2" fill="#000">19 Aug 16:00</text><rect x="311" y="922" width="1" height="3" fill="#000"/><text x="310.5" y="933.8" font-size="9.2" fill="#000">23 Aug 00:00</text><rect x="375" y="922" width="1" height="3" fill="#000"/><text x="374.5" y="933.8" font-size="9.2" fill="#000">24 Aug 08:00</text><rect x="439" y="922" width="1" height="3" fill="#000"/><text x="438.5" y="933.8" font-size="9.2" fill="#000">25 Aug 16:00</text><rect x="503" y="922" width="1" height="3" fill="#000"/><text x="502.5" y="933.8" font-size="9.2" fill="#000">27 Aug 00:00</text><rect x="567" y="922" width="1" height="3" fill="#000"/><text x="566.5" y="933.8" font-size="9.2" fill="#000">30 Aug 08:00</text><rect x="631" y="922" width="1" height="3" fill="#000"/><text x="630.5" y="933.8" font-size="9.2" fill="#000">31 Aug 16:00</text><rect x="695" y="922" width="1" height="3" fill="#000"/><text x="694.5" y="933.8" font-size="9.2" fill="#000">2 Sep 00:00</text><rect x="759" y="922" width="1" height="3" fill="#000"/><text x="758.5" y="933.8" font-size="9.2" fill="#000">3 Sep 08:00</text><rect x="823" y="922" width="1" height="3" fill="#000"/><text x="822.5" y="933.8" font-size="9.2" fill="#000">6 Sep 16:00</text><rect x="887" y="922" width="1" height="3" fill="#000"/><text x="886.5" y="933.8" font-size="9.2" fill="#000">8 Sep 00:00</text><rect x="951" y="922" width="1" height="3" fill="#000"/><text x="950.5" y="933.8" font-size="9.2" fill="#000">9 Sep 08:00</text><rect x="1015" y="922" width="1" height="3" fill="#000"/><text x="1014.5" y="933.8" font-size="9.2" fill="#000">10 Sep 16:00</text><rect x="1079" y="922" width="1" height="3" fill="#000"/><text x="1078.5" y="933.8" font-size="9.2" fill="#000">14 Sep 00:00</text><rect x="1143" y="922" width="1" height="3" fill="#000"/><text x="1142.5" y="933.8" font-size="9.2" fill="#000">15 Sep 08:00</text><rect x="1207" y="922" width="1" height="3" fill="#000"/><text x="1206.5" y="933.8" font-size="9.2" fill="#000">16 Sep 16:00</text><rect x="1271" y="922" width="1" height="3" fill="#000"/><text x="1270.5" y="933.8" font-size="9.2" fill="#000">20 Sep 00:00</text><rect x="1335" y="922" width="1" height="3" fill="#000"/><text x="1334.5" y="933.8" font-size="9.2" fill="#000">21 Sep 08:00</text><rect x="1399" y="922" width="1" height="3" fill="#000"/><text x="1398.5" y="933.8" font-size="9.2" fill="#000">22 Sep 16:00</text><rect x="1463" y="922" width="1" height="3" fill="#000"/><text x="1462.5" y="933.8" font-size="9.2" fill="#000">23 Sep 22:00</text>
<rect x="1695" y="17" width="1" height="917" fill="#e2e2e2"/>
<rect x="0" y="30" width="1" height="1" fill="#000"/>
<text x="6.4" y="31.6" font-size="9" fill="#000" textLength="56.6" lengthAdjust="spacingAndGlyphs">GBPUSD-,H4</text>
<text x="69.7" y="31.6" font-size="9" fill="#000" textLength="139.8" lengthAdjust="spacingAndGlyphs">1.37217 1.37221 1.37209 1.37218</text>
<g fill="#000"><rect x="8" y="35" width="1" height="1"/><rect x="7" y="36" width="1" height="1"/><rect x="9" y="36" width="1" height="1"/><rect x="8" y="37" width="1" height="1"/></g>
<rect x="46" y="36" width="115" height="28" fill="#fff"/><rect x="0" y="40" width="46" height="24" fill="url(#gBtn)"/><rect x="161" y="40" width="52" height="24" fill="url(#gBtn)"/><rect x="0" y="64" width="103" height="33" fill="url(#gPrice)"/><rect x="105" y="64" width="108" height="33" fill="url(#gPrice)"/><g fill="#0a0a9a" shape-rendering="crispEdges"><rect x="0" y="40" width="46" height="1"/><rect x="45" y="40" width="1" height="24"/><rect x="161" y="40" width="52" height="1"/><rect x="161" y="40" width="1" height="24"/><rect x="212" y="40" width="1" height="57"/><rect x="0" y="63" width="42" height="1"/><rect x="165" y="63" width="44" height="1"/><rect x="46" y="64" width="57" height="1"/><rect x="105" y="64" width="57" height="1"/><rect x="102" y="64" width="1" height="33"/><rect x="105" y="64" width="1" height="33"/><rect x="0" y="96" width="103" height="1"/><rect x="105" y="96" width="108" height="1"/></g><rect x="0" y="64" width="42" height="1" fill="#7a7aff"/><rect x="165" y="64" width="44" height="1" fill="#7a7aff"/><rect x="48.5" y="40.5" width="110" height="21" fill="#fff" stroke="#a8a8a8" stroke-width="1"/><rect x="49.5" y="41.5" width="19" height="19" fill="url(#gSpin)" stroke="#c8c8c8" stroke-width="1"/><rect x="69" y="41" width="1" height="20" fill="#a8a8a8"/><rect x="137" y="41" width="1" height="20" fill="#a8a8a8"/><rect x="138.5" y="41.5" width="19" height="19" fill="url(#gSpin)" stroke="#c8c8c8" stroke-width="1"/><polygon points="56,49.5 61,49.5 58.5,52.5" fill="#5060c0"/><polygon points="145,52 150,52 147.5,49" fill="#5060c0"/><text x="133.8" y="55" font-size="12" fill="#000" text-anchor="end">1.00</text><text x="6.6" y="56.2" font-size="12.3" fill="#fff" textLength="25.4" lengthAdjust="spacingAndGlyphs">SELL</text><text x="174.3" y="56.2" font-size="12.3" fill="#fff" textLength="23.8" lengthAdjust="spacingAndGlyphs">BUY</text><text x="14" y="91.9" font-size="12" font-weight="bold" fill="#fff" textLength="23.5" lengthAdjust="spacingAndGlyphs">1.37</text><text x="124" y="91.9" font-size="12" font-weight="bold" fill="#fff" textLength="23.5" lengthAdjust="spacingAndGlyphs">1.37</text><text x="41.5" y="91.9" font-size="33.5" fill="#fff" textLength="36" lengthAdjust="spacingAndGlyphs">21</text><text x="152.5" y="91.9" font-size="33.5" fill="#fff" textLength="36" lengthAdjust="spacingAndGlyphs">24</text><text x="81" y="75.9" font-size="12" fill="#fff">8</text><text x="191.5" y="76.3" font-size="12" fill="#fff">0</text>
<rect x="0" y="0" width="1696" height="16" fill="#f0f0f0"/><rect x="0" y="16" width="1696" height="1" fill="#8c8c8c"/><rect x="0" y="17" width="1696" height="1" fill="#c4c4c4"/><rect x="0" y="18" width="1695" height="2" fill="#fff"/><rect x="10" y="0" width="1" height="14" fill="#a0a0a0"/><rect x="11" y="0" width="1" height="14" fill="#fff"/><rect x="246" y="0" width="1" height="14" fill="#a0a0a0"/><rect x="247" y="0" width="1" height="14" fill="#fff"/><rect x="284" y="0" width="1" height="14" fill="#a0a0a0"/><rect x="285" y="0" width="1" height="14" fill="#fff"/><rect x="341" y="0" width="1" height="14" fill="#a0a0a0"/><rect x="342" y="0" width="1" height="14" fill="#fff"/><rect x="431" y="0" width="1" height="14" fill="#a0a0a0"/><rect x="432" y="0" width="1" height="14" fill="#fff"/><rect x="436" y="0" width="1" height="14" fill="#a0a0a0"/><rect x="437" y="0" width="1" height="14" fill="#fff"/><rect x="464" y="0" width="1" height="14" fill="#a0a0a0"/><rect x="465" y="0" width="1" height="14" fill="#fff"/><rect x="493" y="0" width="1" height="14" fill="#a0a0a0"/><rect x="494" y="0" width="1" height="14" fill="#fff"/><rect x="614" y="0" width="1" height="14" fill="#a0a0a0"/><rect x="615" y="0" width="1" height="14" fill="#fff"/><rect x="624" y="0" width="1" height="14" fill="#a0a0a0"/><rect x="625" y="0" width="1" height="14" fill="#fff"/><rect x="681" y="0" width="1" height="14" fill="#a0a0a0"/><rect x="682" y="0" width="1" height="14" fill="#fff"/><rect x="920" y="0" width="1" height="14" fill="#a0a0a0"/><rect x="921" y="0" width="1" height="14" fill="#fff"/><rect x="1181" y="0" width="1" height="14" fill="#a0a0a0"/><rect x="1182" y="0" width="1" height="14" fill="#fff"/><rect x="250" y="1" width="3" height="1" fill="#a8a8a8"/><rect x="250" y="3" width="3" height="1" fill="#a8a8a8"/><rect x="250" y="5" width="3" height="1" fill="#a8a8a8"/><rect x="250" y="7" width="3" height="1" fill="#a8a8a8"/><rect x="250" y="9" width="3" height="1" fill="#a8a8a8"/><rect x="250" y="11" width="3" height="1" fill="#a8a8a8"/><rect x="250" y="13" width="3" height="1" fill="#a8a8a8"/><rect x="618" y="1" width="3" height="1" fill="#a8a8a8"/><rect x="618" y="3" width="3" height="1" fill="#a8a8a8"/><rect x="618" y="5" width="3" height="1" fill="#a8a8a8"/><rect x="618" y="7" width="3" height="1" fill="#a8a8a8"/><rect x="618" y="9" width="3" height="1" fill="#a8a8a8"/><rect x="618" y="11" width="3" height="1" fill="#a8a8a8"/><rect x="618" y="13" width="3" height="1" fill="#a8a8a8"/><rect x="924" y="1" width="3" height="1" fill="#a8a8a8"/><rect x="924" y="3" width="3" height="1" fill="#a8a8a8"/><rect x="924" y="5" width="3" height="1" fill="#a8a8a8"/><rect x="924" y="7" width="3" height="1" fill="#a8a8a8"/><rect x="924" y="9" width="3" height="1" fill="#a8a8a8"/><rect x="924" y="11" width="3" height="1" fill="#a8a8a8"/><rect x="924" y="13" width="3" height="1" fill="#a8a8a8"/><rect x="286" y="0" width="23" height="14" fill="#f7f7f7"/><rect x="626" y="0" width="23" height="14" fill="#f7f7f7"/><rect x="1070" y="0" width="25" height="14" fill="#f7f7f7"/><rect x="1070" y="0" width="1" height="14" fill="#a0a0a0"/><path d="M0 8 L4 11 L2 13 L0 12 Z" fill="#d8a020"/><rect x="20.5" y="-2" width="10" height="11" fill="#fff" stroke="#8a8a8a"/><rect x="22" y="2" width="6" height="1" fill="#9a9a9a"/><rect x="22" y="5" width="4" height="1" fill="#9a9a9a"/><path d="M23.5 6h4v-4h4v4h4v4h-4v4h-4v-4h-4z" fill="#22dd22" stroke="#109010" stroke-width="0.8"/><text x="38" y="7.6" font-size="12.5" fill="#202020" style="font-family:'Liberation Sans','Noto Sans CJK SC',sans-serif">新订单</text><defs><linearGradient id="gBook" x1="0" y1="0" x2="1" y2="1"><stop offset="0" stop-color="#f8e070"/><stop offset="1" stop-color="#c89010"/></linearGradient></defs><path d="M87.5 6 Q87.5 4.5 89.5 3.5 L96 -1 L103 4 Q103.5 5 102.5 6 L96.5 11.5 Q95 12.5 93.5 11.5 Z" fill="url(#gBook)" stroke="#a07010" stroke-width="0.7"/><path d="M88.5 7.5 L94.5 12 L102.5 6.5" fill="none" stroke="#f0e0b0" stroke-width="0.9"/><rect x="117.5" y="-2" width="9" height="7" fill="#3a8ae0" stroke="#1a5ab0" stroke-width="0.6"/><rect x="119" y="0" width="6" height="1" fill="#e0f0ff"/><rect x="119" y="2.5" width="6" height="1" fill="#e0f0ff"/><path d="M117 11.5 Q114.5 11 115.5 8.5 Q116.5 6.5 118.5 7 Q119.5 4.5 122.5 5 Q124.5 3.5 126.5 6 Q129 5.5 129.5 8 Q131.5 8.5 130.5 10.5 Q130 11.7 128 11.5 Z" fill="#f4f6fb" stroke="#7890b8" stroke-width="0.8"/><circle cx="151" cy="4" r="7" fill="none" stroke="#a8c0ec" stroke-width="1"/><circle cx="151" cy="4" r="4.3" fill="none" stroke="#6a90dc" stroke-width="1"/><path d="M158 4 A7 7 0 0 1 151 11" fill="none" stroke="#40a850" stroke-width="1.8"/><circle cx="151" cy="4" r="1.6" fill="#2050c0"/><path d="M151 5 L151.3 11.5" stroke="#30a040" stroke-width="1.4"/><ellipse cx="177" cy="1" rx="7" ry="3" fill="#70b8d8" stroke="#3080a8" stroke-width="0.6"/><path d="M170 2 L172 9 L180 12 L184 5 Z" fill="#f0c830"/><circle cx="182" cy="8" r="4" fill="#e02020"/><rect x="180.3" y="6.3" width="3.4" height="3.4" fill="#fff"/><text x="191" y="7.6" font-size="12.5" fill="#202020" style="font-family:'Liberation Sans','Noto Sans CJK SC',sans-serif">自动交易</text><rect x="264" y="0" width="1" height="12" fill="#404040"/><rect x="262" y="9" width="14" height="1" fill="#404040"/><path d="M274 7.5 L276.5 9.5 L274 11.5 Z" fill="#404040"/><path d="M268.5 7 L270.5 7 L270.5 1 L272.5 1 L272.5 -1" fill="none" stroke="#109010" stroke-width="1.2"/><rect x="292" y="0" width="1" height="12" fill="#404040"/><rect x="290" y="9" width="14" height="1" fill="#404040"/><path d="M302 7.5 L304.5 9.5 L302 11.5 Z" fill="#404040"/><rect x="296" y="-1" width="4" height="6" fill="#20c020" stroke="#108010" stroke-width="0.6"/><rect x="297.5" y="5" width="1" height="2.5" fill="#108010"/><rect x="320" y="0" width="1" height="12" fill="#404040"/><rect x="318" y="9" width="14" height="1" fill="#404040"/><path d="M330 7.5 L332.5 9.5 L330 11.5 Z" fill="#404040"/><path d="M319.5 6.5 Q325 -2 330.5 5" fill="none" stroke="#109010" stroke-width="1.1"/><path d="M358.5 5 L364.5 11" stroke="#a08010" stroke-width="3"/><path d="M358.5 5 L364.5 11" stroke="#e8d060" stroke-width="1.5"/><circle cx="355.5" cy="1.5" r="4.8" fill="#d8ecfa" stroke="#3070c0" stroke-width="1.1"/><rect x="352.5" y="1" width="6" height="1.4" fill="#3070c0"/><rect x="354.8" y="-2" width="1.4" height="6" fill="#3070c0"/><path d="M386.5 5 L392.5 11" stroke="#a08010" stroke-width="3"/><path d="M386.5 5 L392.5 11" stroke="#e8d060" stroke-width="1.5"/><circle cx="383.5" cy="1.5" r="4.8" fill="#d8ecfa" stroke="#3070c0" stroke-width="1.1"/><rect x="380.5" y="1" width="6" height="1.4" fill="#3070c0"/><rect x="406" y="-1" width="7" height="4.5" fill="#30a030"/><rect x="414" y="-1" width="7" height="4.5" fill="#3060d0"/><rect x="406" y="4.5" width="7" height="7" fill="#3060d0"/><rect x="414" y="4.5" width="7" height="7" fill="#30a030"/><rect x="407.5" y="7" width="4" height="3" fill="none" stroke="#fff" stroke-width="0.8"/><rect x="415.5" y="7" width="4" height="3" fill="none" stroke="#fff" stroke-width="0.8"/><rect x="444" y="0" width="1" height="12" fill="#404040"/><rect x="442" y="9" width="14" height="1" fill="#404040"/><path d="M454 7.5 L456.5 9.5 L454 11.5 Z" fill="#404040"/><path d="M448 0 L448 7 L452 3.5 Z" fill="#20b020"/><rect x="472" y="0" width="1" height="12" fill="#404040"/><rect x="470" y="9" width="14" height="1" fill="#404040"/><path d="M482 7.5 L484.5 9.5 L482 11.5 Z" fill="#404040"/><rect x="475" y="0" width="1" height="8" fill="#3060d0"/><path d="M477 2.5 L480 0.5 L480 4.5 Z" fill="#e03010"/><rect x="480" y="2" width="3" height="1" fill="#e03010"/><rect x="503.5" y="-2" width="8" height="9" fill="#fff" stroke="#8a8a8a"/><rect x="505.5" y="-1" width="8" height="9" fill="#fff" stroke="#8a8a8a"/><path d="M510 5h3v-3h3v3h3v3h-3v3h-3v-3h-3z" fill="#22cc22" stroke="#119911" stroke-width="0.8"/><path d="M524.5 3 L530.5 3 L527.5 6 Z" fill="#000"/><path d="M563.5 3 L569.5 3 L566.5 6 Z" fill="#000"/><path d="M603 3 L609 3 L606 6 Z" fill="#000"/><path d="M908 3 L914 3 L911 6 Z" fill="#000"/><circle cx="549" cy="3" r="7" fill="#2a60c8"/><circle cx="549" cy="3" r="4.6" fill="#f4f8ff"/><path d="M549 0 L549 3.5 L552 3.5" fill="none" stroke="#333" stroke-width="0.8"/><rect x="580.5" y="-1" width="15" height="11" fill="#f8fbff" stroke="#3070c0" stroke-width="1"/><path d="M582 2 l3 -1 l3 1 l3 -1 l3 0" fill="none" stroke="#d03020" stroke-width="0.8"/><path d="M582 7 l3 -2 l3 1 l3 -2 l3 1" fill="none" stroke="#20a020" stroke-width="0.8"/><path d="M632 -1 L632 9 L634.5 7 L636.5 11 L638 10.3 L636 6.5 L639.5 6.5 Z" fill="#404040"/><rect x="657" y="4" width="15" height="1" fill="#404040"/><rect x="664" y="-1" width="1" height="12" fill="#404040"/><rect x="698" y="0" width="1" height="11" fill="#404040"/><rect x="721" y="4" width="10" height="1" fill="#404040"/><path d="M749 11 L761 0" stroke="#404040" stroke-width="1"/><path d="M775 6 L783 -1 M777 9 L787 0 M776 3 L780 7 M779 1 L783 5 M782 -1 L786 3" stroke="#404040" stroke-width="1"/><text x="785.5" y="12.8" font-size="6" font-weight="bold" fill="#404040">E</text><path d="M804 0.5 H817 M804 4.5 H817 M804 8.5 H814" stroke="#404040" stroke-width="1" stroke-dasharray="1,1"/><text x="813.5" y="12.8" font-size="6" font-weight="bold" fill="#404040">F</text><text x="834.5" y="8.8" font-size="11" font-weight="bold" fill="#404040">A</text><rect x="861.5" y="-1.5" width="11" height="12" fill="none" stroke="#505050" stroke-width="1" stroke-dasharray="1,1"/><text x="863" y="8.5" font-size="10.5" font-weight="bold" fill="#404040">T</text><path d="M889 1 L893 -1 M890 4 L892 6 L896 1" stroke="#404040" stroke-width="1.3" fill="none"/><path d="M897 8 L900 5.5 L903 8 L900 10.5 Z" fill="#404040"/><text x="936" y="8" font-size="9.6" fill="#404040">M1</text><text x="963.5" y="8" font-size="9.6" fill="#404040">M5</text><text x="989.5" y="8" font-size="9.6" fill="#404040">M15</text><text x="1017.5" y="8" font-size="9.6" fill="#404040">M30</text><text x="1048.5" y="8" font-size="9.6" fill="#404040">H1</text><text x="1075" y="8" font-size="9.6" fill="#404040">H4</text><text x="1104" y="8" font-size="9.6" fill="#404040">D1</text><text x="1132" y="8" font-size="9.6" fill="#404040">W1</text><text x="1158" y="8" font-size="9.6" fill="#404040">MN</text><path d="M1648.5 5.2 L1644.6 9" stroke="#2060d0" stroke-width="2.2" stroke-linecap="round"/><circle cx="1651.4" cy="1.9" r="3.8" fill="#fff" stroke="#2060d0" stroke-width="1.2"/><ellipse cx="1673.5" cy="6" rx="6" ry="4.6" fill="#e4e6f0" stroke="#a8a8b0" stroke-width="0.8"/><path d="M1670 10 L1671 12.5 L1674 10.3" fill="#c8c8d0"/><circle cx="1682.5" cy="1.5" r="8" fill="#e03018"/><text x="1682.5" y="5.5" font-size="11" font-weight="bold" fill="#fff" text-anchor="middle">1</text>
</svg></body></html>
